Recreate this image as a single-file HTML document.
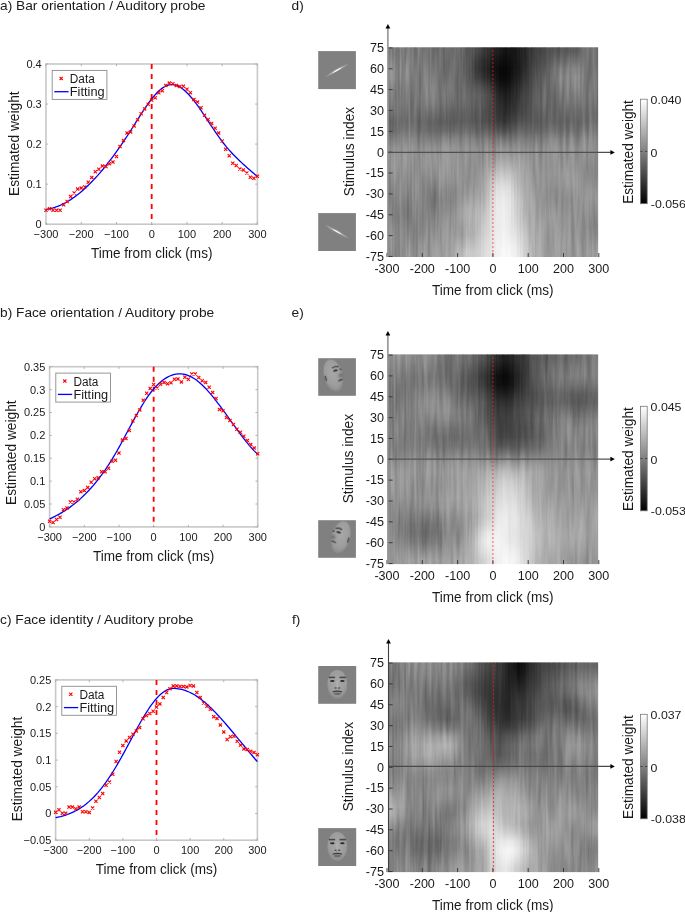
<!DOCTYPE html>
<html><head><meta charset="utf-8"><style>
html,body{margin:0;padding:0;background:#fff;overflow:hidden}
svg{display:block;will-change:transform}
text{font-family:"Liberation Sans", sans-serif}
</style></head><body>
<svg width="685" height="912" viewBox="0 0 685 912">
<defs>
<linearGradient id="p0" x1="0" y1="0" x2="0" y2="1"><stop offset="0.021" stop-color="#7b7b7b"/><stop offset="0.062" stop-color="#868686"/><stop offset="0.104" stop-color="#909090"/><stop offset="0.146" stop-color="#8e8e8e"/><stop offset="0.188" stop-color="#838383"/><stop offset="0.229" stop-color="#7c7c7c"/><stop offset="0.271" stop-color="#7a7a7a"/><stop offset="0.312" stop-color="#747474"/><stop offset="0.354" stop-color="#6b6b6b"/><stop offset="0.396" stop-color="#707070"/><stop offset="0.438" stop-color="#828282"/><stop offset="0.479" stop-color="#919191"/><stop offset="0.521" stop-color="#969696"/><stop offset="0.562" stop-color="#959595"/><stop offset="0.604" stop-color="#909090"/><stop offset="0.646" stop-color="#8b8b8b"/><stop offset="0.688" stop-color="#868686"/><stop offset="0.729" stop-color="#828282"/><stop offset="0.771" stop-color="#808080"/><stop offset="0.812" stop-color="#838383"/><stop offset="0.854" stop-color="#898989"/><stop offset="0.896" stop-color="#8b8b8b"/><stop offset="0.938" stop-color="#878787"/><stop offset="0.979" stop-color="#838383"/></linearGradient>
<linearGradient id="p1" x1="0" y1="0" x2="0" y2="1"><stop offset="0.021" stop-color="#767676"/><stop offset="0.062" stop-color="#818181"/><stop offset="0.104" stop-color="#8b8b8b"/><stop offset="0.146" stop-color="#8a8a8a"/><stop offset="0.188" stop-color="#7f7f7f"/><stop offset="0.229" stop-color="#797979"/><stop offset="0.271" stop-color="#777777"/><stop offset="0.312" stop-color="#717171"/><stop offset="0.354" stop-color="#6a6a6a"/><stop offset="0.396" stop-color="#707070"/><stop offset="0.438" stop-color="#838383"/><stop offset="0.479" stop-color="#939393"/><stop offset="0.521" stop-color="#989898"/><stop offset="0.562" stop-color="#979797"/><stop offset="0.604" stop-color="#929292"/><stop offset="0.646" stop-color="#8d8d8d"/><stop offset="0.688" stop-color="#878787"/><stop offset="0.729" stop-color="#828282"/><stop offset="0.771" stop-color="#7f7f7f"/><stop offset="0.812" stop-color="#818181"/><stop offset="0.854" stop-color="#878787"/><stop offset="0.896" stop-color="#8a8a8a"/><stop offset="0.938" stop-color="#888888"/><stop offset="0.979" stop-color="#858585"/></linearGradient>
<linearGradient id="p2" x1="0" y1="0" x2="0" y2="1"><stop offset="0.021" stop-color="#757575"/><stop offset="0.062" stop-color="#7f7f7f"/><stop offset="0.104" stop-color="#888888"/><stop offset="0.146" stop-color="#878787"/><stop offset="0.188" stop-color="#7e7e7e"/><stop offset="0.229" stop-color="#787878"/><stop offset="0.271" stop-color="#777777"/><stop offset="0.312" stop-color="#727272"/><stop offset="0.354" stop-color="#6c6c6c"/><stop offset="0.396" stop-color="#737373"/><stop offset="0.438" stop-color="#868686"/><stop offset="0.479" stop-color="#959595"/><stop offset="0.521" stop-color="#999999"/><stop offset="0.562" stop-color="#979797"/><stop offset="0.604" stop-color="#919191"/><stop offset="0.646" stop-color="#8b8b8b"/><stop offset="0.688" stop-color="#868686"/><stop offset="0.729" stop-color="#808080"/><stop offset="0.771" stop-color="#7c7c7c"/><stop offset="0.812" stop-color="#7e7e7e"/><stop offset="0.854" stop-color="#838383"/><stop offset="0.896" stop-color="#868686"/><stop offset="0.938" stop-color="#858585"/><stop offset="0.979" stop-color="#838383"/></linearGradient>
<linearGradient id="p3" x1="0" y1="0" x2="0" y2="1"><stop offset="0.021" stop-color="#757575"/><stop offset="0.062" stop-color="#7e7e7e"/><stop offset="0.104" stop-color="#868686"/><stop offset="0.146" stop-color="#858585"/><stop offset="0.188" stop-color="#7e7e7e"/><stop offset="0.229" stop-color="#797979"/><stop offset="0.271" stop-color="#777777"/><stop offset="0.312" stop-color="#727272"/><stop offset="0.354" stop-color="#6d6d6d"/><stop offset="0.396" stop-color="#737373"/><stop offset="0.438" stop-color="#848484"/><stop offset="0.479" stop-color="#919191"/><stop offset="0.521" stop-color="#959595"/><stop offset="0.562" stop-color="#929292"/><stop offset="0.604" stop-color="#8d8d8d"/><stop offset="0.646" stop-color="#888888"/><stop offset="0.688" stop-color="#848484"/><stop offset="0.729" stop-color="#808080"/><stop offset="0.771" stop-color="#7d7d7d"/><stop offset="0.812" stop-color="#7e7e7e"/><stop offset="0.854" stop-color="#838383"/><stop offset="0.896" stop-color="#868686"/><stop offset="0.938" stop-color="#878787"/><stop offset="0.979" stop-color="#868686"/></linearGradient>
<linearGradient id="p4" x1="0" y1="0" x2="0" y2="1"><stop offset="0.021" stop-color="#787878"/><stop offset="0.062" stop-color="#808080"/><stop offset="0.104" stop-color="#878787"/><stop offset="0.146" stop-color="#878787"/><stop offset="0.188" stop-color="#7f7f7f"/><stop offset="0.229" stop-color="#797979"/><stop offset="0.271" stop-color="#767676"/><stop offset="0.312" stop-color="#707070"/><stop offset="0.354" stop-color="#6a6a6a"/><stop offset="0.396" stop-color="#717171"/><stop offset="0.438" stop-color="#828282"/><stop offset="0.479" stop-color="#8f8f8f"/><stop offset="0.521" stop-color="#939393"/><stop offset="0.562" stop-color="#919191"/><stop offset="0.604" stop-color="#8c8c8c"/><stop offset="0.646" stop-color="#888888"/><stop offset="0.688" stop-color="#858585"/><stop offset="0.729" stop-color="#818181"/><stop offset="0.771" stop-color="#7d7d7d"/><stop offset="0.812" stop-color="#7d7d7d"/><stop offset="0.854" stop-color="#818181"/><stop offset="0.896" stop-color="#868686"/><stop offset="0.938" stop-color="#898989"/><stop offset="0.979" stop-color="#8a8a8a"/></linearGradient>
<linearGradient id="p5" x1="0" y1="0" x2="0" y2="1"><stop offset="0.021" stop-color="#777777"/><stop offset="0.062" stop-color="#7d7d7d"/><stop offset="0.104" stop-color="#848484"/><stop offset="0.146" stop-color="#848484"/><stop offset="0.188" stop-color="#7d7d7d"/><stop offset="0.229" stop-color="#777777"/><stop offset="0.271" stop-color="#737373"/><stop offset="0.312" stop-color="#6c6c6c"/><stop offset="0.354" stop-color="#676767"/><stop offset="0.396" stop-color="#6f6f6f"/><stop offset="0.438" stop-color="#828282"/><stop offset="0.479" stop-color="#909090"/><stop offset="0.521" stop-color="#949494"/><stop offset="0.562" stop-color="#919191"/><stop offset="0.604" stop-color="#8c8c8c"/><stop offset="0.646" stop-color="#888888"/><stop offset="0.688" stop-color="#858585"/><stop offset="0.729" stop-color="#818181"/><stop offset="0.771" stop-color="#7d7d7d"/><stop offset="0.812" stop-color="#7d7d7d"/><stop offset="0.854" stop-color="#818181"/><stop offset="0.896" stop-color="#868686"/><stop offset="0.938" stop-color="#8b8b8b"/><stop offset="0.979" stop-color="#8d8d8d"/></linearGradient>
<linearGradient id="p6" x1="0" y1="0" x2="0" y2="1"><stop offset="0.021" stop-color="#787878"/><stop offset="0.062" stop-color="#7e7e7e"/><stop offset="0.104" stop-color="#838383"/><stop offset="0.146" stop-color="#828282"/><stop offset="0.188" stop-color="#7c7c7c"/><stop offset="0.229" stop-color="#777777"/><stop offset="0.271" stop-color="#747474"/><stop offset="0.312" stop-color="#6f6f6f"/><stop offset="0.354" stop-color="#6c6c6c"/><stop offset="0.396" stop-color="#757575"/><stop offset="0.438" stop-color="#878787"/><stop offset="0.479" stop-color="#959595"/><stop offset="0.521" stop-color="#979797"/><stop offset="0.562" stop-color="#939393"/><stop offset="0.604" stop-color="#8d8d8d"/><stop offset="0.646" stop-color="#888888"/><stop offset="0.688" stop-color="#858585"/><stop offset="0.729" stop-color="#818181"/><stop offset="0.771" stop-color="#7d7d7d"/><stop offset="0.812" stop-color="#7c7c7c"/><stop offset="0.854" stop-color="#7f7f7f"/><stop offset="0.896" stop-color="#848484"/><stop offset="0.938" stop-color="#898989"/><stop offset="0.979" stop-color="#8c8c8c"/></linearGradient>
<linearGradient id="p7" x1="0" y1="0" x2="0" y2="1"><stop offset="0.021" stop-color="#797979"/><stop offset="0.062" stop-color="#7d7d7d"/><stop offset="0.104" stop-color="#818181"/><stop offset="0.146" stop-color="#808080"/><stop offset="0.188" stop-color="#7b7b7b"/><stop offset="0.229" stop-color="#777777"/><stop offset="0.271" stop-color="#737373"/><stop offset="0.312" stop-color="#6f6f6f"/><stop offset="0.354" stop-color="#6d6d6d"/><stop offset="0.396" stop-color="#777777"/><stop offset="0.438" stop-color="#898989"/><stop offset="0.479" stop-color="#959595"/><stop offset="0.521" stop-color="#969696"/><stop offset="0.562" stop-color="#919191"/><stop offset="0.604" stop-color="#8a8a8a"/><stop offset="0.646" stop-color="#858585"/><stop offset="0.688" stop-color="#838383"/><stop offset="0.729" stop-color="#808080"/><stop offset="0.771" stop-color="#7c7c7c"/><stop offset="0.812" stop-color="#7b7b7b"/><stop offset="0.854" stop-color="#7e7e7e"/><stop offset="0.896" stop-color="#838383"/><stop offset="0.938" stop-color="#888888"/><stop offset="0.979" stop-color="#8d8d8d"/></linearGradient>
<linearGradient id="p8" x1="0" y1="0" x2="0" y2="1"><stop offset="0.021" stop-color="#777777"/><stop offset="0.062" stop-color="#7a7a7a"/><stop offset="0.104" stop-color="#7c7c7c"/><stop offset="0.146" stop-color="#7c7c7c"/><stop offset="0.188" stop-color="#797979"/><stop offset="0.229" stop-color="#767676"/><stop offset="0.271" stop-color="#737373"/><stop offset="0.312" stop-color="#6f6f6f"/><stop offset="0.354" stop-color="#6c6c6c"/><stop offset="0.396" stop-color="#767676"/><stop offset="0.438" stop-color="#878787"/><stop offset="0.479" stop-color="#939393"/><stop offset="0.521" stop-color="#939393"/><stop offset="0.562" stop-color="#8e8e8e"/><stop offset="0.604" stop-color="#888888"/><stop offset="0.646" stop-color="#848484"/><stop offset="0.688" stop-color="#828282"/><stop offset="0.729" stop-color="#808080"/><stop offset="0.771" stop-color="#7e7e7e"/><stop offset="0.812" stop-color="#7e7e7e"/><stop offset="0.854" stop-color="#808080"/><stop offset="0.896" stop-color="#868686"/><stop offset="0.938" stop-color="#8c8c8c"/><stop offset="0.979" stop-color="#919191"/></linearGradient>
<linearGradient id="p9" x1="0" y1="0" x2="0" y2="1"><stop offset="0.021" stop-color="#767676"/><stop offset="0.062" stop-color="#787878"/><stop offset="0.104" stop-color="#7a7a7a"/><stop offset="0.146" stop-color="#797979"/><stop offset="0.188" stop-color="#777777"/><stop offset="0.229" stop-color="#747474"/><stop offset="0.271" stop-color="#717171"/><stop offset="0.312" stop-color="#6b6b6b"/><stop offset="0.354" stop-color="#676767"/><stop offset="0.396" stop-color="#6f6f6f"/><stop offset="0.438" stop-color="#818181"/><stop offset="0.479" stop-color="#8e8e8e"/><stop offset="0.521" stop-color="#909090"/><stop offset="0.562" stop-color="#8d8d8d"/><stop offset="0.604" stop-color="#898989"/><stop offset="0.646" stop-color="#868686"/><stop offset="0.688" stop-color="#848484"/><stop offset="0.729" stop-color="#828282"/><stop offset="0.771" stop-color="#818181"/><stop offset="0.812" stop-color="#808080"/><stop offset="0.854" stop-color="#818181"/><stop offset="0.896" stop-color="#858585"/><stop offset="0.938" stop-color="#8c8c8c"/><stop offset="0.979" stop-color="#919191"/></linearGradient>
<linearGradient id="p10" x1="0" y1="0" x2="0" y2="1"><stop offset="0.021" stop-color="#757575"/><stop offset="0.062" stop-color="#767676"/><stop offset="0.104" stop-color="#787878"/><stop offset="0.146" stop-color="#787878"/><stop offset="0.188" stop-color="#777777"/><stop offset="0.229" stop-color="#767676"/><stop offset="0.271" stop-color="#727272"/><stop offset="0.312" stop-color="#6b6b6b"/><stop offset="0.354" stop-color="#656565"/><stop offset="0.396" stop-color="#6e6e6e"/><stop offset="0.438" stop-color="#818181"/><stop offset="0.479" stop-color="#909090"/><stop offset="0.521" stop-color="#939393"/><stop offset="0.562" stop-color="#919191"/><stop offset="0.604" stop-color="#8d8d8d"/><stop offset="0.646" stop-color="#888888"/><stop offset="0.688" stop-color="#848484"/><stop offset="0.729" stop-color="#818181"/><stop offset="0.771" stop-color="#808080"/><stop offset="0.812" stop-color="#808080"/><stop offset="0.854" stop-color="#828282"/><stop offset="0.896" stop-color="#878787"/><stop offset="0.938" stop-color="#8e8e8e"/><stop offset="0.979" stop-color="#949494"/></linearGradient>
<linearGradient id="p11" x1="0" y1="0" x2="0" y2="1"><stop offset="0.021" stop-color="#747474"/><stop offset="0.062" stop-color="#767676"/><stop offset="0.104" stop-color="#787878"/><stop offset="0.146" stop-color="#7a7a7a"/><stop offset="0.188" stop-color="#7b7b7b"/><stop offset="0.229" stop-color="#7a7a7a"/><stop offset="0.271" stop-color="#777777"/><stop offset="0.312" stop-color="#6f6f6f"/><stop offset="0.354" stop-color="#686868"/><stop offset="0.396" stop-color="#707070"/><stop offset="0.438" stop-color="#848484"/><stop offset="0.479" stop-color="#919191"/><stop offset="0.521" stop-color="#949494"/><stop offset="0.562" stop-color="#919191"/><stop offset="0.604" stop-color="#8d8d8d"/><stop offset="0.646" stop-color="#898989"/><stop offset="0.688" stop-color="#858585"/><stop offset="0.729" stop-color="#838383"/><stop offset="0.771" stop-color="#848484"/><stop offset="0.812" stop-color="#858585"/><stop offset="0.854" stop-color="#868686"/><stop offset="0.896" stop-color="#8a8a8a"/><stop offset="0.938" stop-color="#909090"/><stop offset="0.979" stop-color="#959595"/></linearGradient>
<linearGradient id="p12" x1="0" y1="0" x2="0" y2="1"><stop offset="0.021" stop-color="#737373"/><stop offset="0.062" stop-color="#757575"/><stop offset="0.104" stop-color="#777777"/><stop offset="0.146" stop-color="#797979"/><stop offset="0.188" stop-color="#7a7a7a"/><stop offset="0.229" stop-color="#7a7a7a"/><stop offset="0.271" stop-color="#777777"/><stop offset="0.312" stop-color="#6e6e6e"/><stop offset="0.354" stop-color="#666666"/><stop offset="0.396" stop-color="#6d6d6d"/><stop offset="0.438" stop-color="#818181"/><stop offset="0.479" stop-color="#8f8f8f"/><stop offset="0.521" stop-color="#929292"/><stop offset="0.562" stop-color="#909090"/><stop offset="0.604" stop-color="#8c8c8c"/><stop offset="0.646" stop-color="#868686"/><stop offset="0.688" stop-color="#808080"/><stop offset="0.729" stop-color="#7e7e7e"/><stop offset="0.771" stop-color="#808080"/><stop offset="0.812" stop-color="#828282"/><stop offset="0.854" stop-color="#838383"/><stop offset="0.896" stop-color="#878787"/><stop offset="0.938" stop-color="#8e8e8e"/><stop offset="0.979" stop-color="#939393"/></linearGradient>
<linearGradient id="p13" x1="0" y1="0" x2="0" y2="1"><stop offset="0.021" stop-color="#727272"/><stop offset="0.062" stop-color="#747474"/><stop offset="0.104" stop-color="#777777"/><stop offset="0.146" stop-color="#7a7a7a"/><stop offset="0.188" stop-color="#7c7c7c"/><stop offset="0.229" stop-color="#7c7c7c"/><stop offset="0.271" stop-color="#797979"/><stop offset="0.312" stop-color="#6f6f6f"/><stop offset="0.354" stop-color="#656565"/><stop offset="0.396" stop-color="#6c6c6c"/><stop offset="0.438" stop-color="#818181"/><stop offset="0.479" stop-color="#919191"/><stop offset="0.521" stop-color="#949494"/><stop offset="0.562" stop-color="#929292"/><stop offset="0.604" stop-color="#8e8e8e"/><stop offset="0.646" stop-color="#868686"/><stop offset="0.688" stop-color="#7f7f7f"/><stop offset="0.729" stop-color="#7d7d7d"/><stop offset="0.771" stop-color="#808080"/><stop offset="0.812" stop-color="#838383"/><stop offset="0.854" stop-color="#858585"/><stop offset="0.896" stop-color="#898989"/><stop offset="0.938" stop-color="#8f8f8f"/><stop offset="0.979" stop-color="#949494"/></linearGradient>
<linearGradient id="p14" x1="0" y1="0" x2="0" y2="1"><stop offset="0.021" stop-color="#717171"/><stop offset="0.062" stop-color="#737373"/><stop offset="0.104" stop-color="#767676"/><stop offset="0.146" stop-color="#797979"/><stop offset="0.188" stop-color="#7b7b7b"/><stop offset="0.229" stop-color="#7c7c7c"/><stop offset="0.271" stop-color="#797979"/><stop offset="0.312" stop-color="#6f6f6f"/><stop offset="0.354" stop-color="#666666"/><stop offset="0.396" stop-color="#6d6d6d"/><stop offset="0.438" stop-color="#838383"/><stop offset="0.479" stop-color="#939393"/><stop offset="0.521" stop-color="#979797"/><stop offset="0.562" stop-color="#959595"/><stop offset="0.604" stop-color="#919191"/><stop offset="0.646" stop-color="#898989"/><stop offset="0.688" stop-color="#808080"/><stop offset="0.729" stop-color="#7d7d7d"/><stop offset="0.771" stop-color="#818181"/><stop offset="0.812" stop-color="#868686"/><stop offset="0.854" stop-color="#888888"/><stop offset="0.896" stop-color="#8c8c8c"/><stop offset="0.938" stop-color="#919191"/><stop offset="0.979" stop-color="#959595"/></linearGradient>
<linearGradient id="p15" x1="0" y1="0" x2="0" y2="1"><stop offset="0.021" stop-color="#707070"/><stop offset="0.062" stop-color="#727272"/><stop offset="0.104" stop-color="#747474"/><stop offset="0.146" stop-color="#787878"/><stop offset="0.188" stop-color="#7b7b7b"/><stop offset="0.229" stop-color="#7b7b7b"/><stop offset="0.271" stop-color="#777777"/><stop offset="0.312" stop-color="#6b6b6b"/><stop offset="0.354" stop-color="#606060"/><stop offset="0.396" stop-color="#676767"/><stop offset="0.438" stop-color="#7e7e7e"/><stop offset="0.479" stop-color="#8f8f8f"/><stop offset="0.521" stop-color="#939393"/><stop offset="0.562" stop-color="#939393"/><stop offset="0.604" stop-color="#919191"/><stop offset="0.646" stop-color="#898989"/><stop offset="0.688" stop-color="#808080"/><stop offset="0.729" stop-color="#7d7d7d"/><stop offset="0.771" stop-color="#818181"/><stop offset="0.812" stop-color="#868686"/><stop offset="0.854" stop-color="#8a8a8a"/><stop offset="0.896" stop-color="#8e8e8e"/><stop offset="0.938" stop-color="#939393"/><stop offset="0.979" stop-color="#989898"/></linearGradient>
<linearGradient id="p16" x1="0" y1="0" x2="0" y2="1"><stop offset="0.021" stop-color="#6c6c6c"/><stop offset="0.062" stop-color="#6e6e6e"/><stop offset="0.104" stop-color="#717171"/><stop offset="0.146" stop-color="#757575"/><stop offset="0.188" stop-color="#787878"/><stop offset="0.229" stop-color="#797979"/><stop offset="0.271" stop-color="#747474"/><stop offset="0.312" stop-color="#686868"/><stop offset="0.354" stop-color="#5d5d5d"/><stop offset="0.396" stop-color="#646464"/><stop offset="0.438" stop-color="#7c7c7c"/><stop offset="0.479" stop-color="#8f8f8f"/><stop offset="0.521" stop-color="#959595"/><stop offset="0.562" stop-color="#979797"/><stop offset="0.604" stop-color="#979797"/><stop offset="0.646" stop-color="#919191"/><stop offset="0.688" stop-color="#878787"/><stop offset="0.729" stop-color="#838383"/><stop offset="0.771" stop-color="#868686"/><stop offset="0.812" stop-color="#8a8a8a"/><stop offset="0.854" stop-color="#8d8d8d"/><stop offset="0.896" stop-color="#919191"/><stop offset="0.938" stop-color="#959595"/><stop offset="0.979" stop-color="#999999"/></linearGradient>
<linearGradient id="p17" x1="0" y1="0" x2="0" y2="1"><stop offset="0.021" stop-color="#6c6c6c"/><stop offset="0.062" stop-color="#6e6e6e"/><stop offset="0.104" stop-color="#717171"/><stop offset="0.146" stop-color="#757575"/><stop offset="0.188" stop-color="#797979"/><stop offset="0.229" stop-color="#797979"/><stop offset="0.271" stop-color="#737373"/><stop offset="0.312" stop-color="#666666"/><stop offset="0.354" stop-color="#5b5b5b"/><stop offset="0.396" stop-color="#636363"/><stop offset="0.438" stop-color="#7b7b7b"/><stop offset="0.479" stop-color="#8e8e8e"/><stop offset="0.521" stop-color="#949494"/><stop offset="0.562" stop-color="#979797"/><stop offset="0.604" stop-color="#989898"/><stop offset="0.646" stop-color="#939393"/><stop offset="0.688" stop-color="#8b8b8b"/><stop offset="0.729" stop-color="#878787"/><stop offset="0.771" stop-color="#8a8a8a"/><stop offset="0.812" stop-color="#8d8d8d"/><stop offset="0.854" stop-color="#8f8f8f"/><stop offset="0.896" stop-color="#939393"/><stop offset="0.938" stop-color="#979797"/><stop offset="0.979" stop-color="#9a9a9a"/></linearGradient>
<linearGradient id="p18" x1="0" y1="0" x2="0" y2="1"><stop offset="0.021" stop-color="#6d6d6d"/><stop offset="0.062" stop-color="#707070"/><stop offset="0.104" stop-color="#737373"/><stop offset="0.146" stop-color="#787878"/><stop offset="0.188" stop-color="#7b7b7b"/><stop offset="0.229" stop-color="#7a7a7a"/><stop offset="0.271" stop-color="#737373"/><stop offset="0.312" stop-color="#666666"/><stop offset="0.354" stop-color="#5c5c5c"/><stop offset="0.396" stop-color="#656565"/><stop offset="0.438" stop-color="#7d7d7d"/><stop offset="0.479" stop-color="#909090"/><stop offset="0.521" stop-color="#979797"/><stop offset="0.562" stop-color="#9a9a9a"/><stop offset="0.604" stop-color="#9b9b9b"/><stop offset="0.646" stop-color="#969696"/><stop offset="0.688" stop-color="#8e8e8e"/><stop offset="0.729" stop-color="#8b8b8b"/><stop offset="0.771" stop-color="#8d8d8d"/><stop offset="0.812" stop-color="#919191"/><stop offset="0.854" stop-color="#959595"/><stop offset="0.896" stop-color="#999999"/><stop offset="0.938" stop-color="#9d9d9d"/><stop offset="0.979" stop-color="#a0a0a0"/></linearGradient>
<linearGradient id="p19" x1="0" y1="0" x2="0" y2="1"><stop offset="0.021" stop-color="#6b6b6b"/><stop offset="0.062" stop-color="#6d6d6d"/><stop offset="0.104" stop-color="#717171"/><stop offset="0.146" stop-color="#767676"/><stop offset="0.188" stop-color="#7a7a7a"/><stop offset="0.229" stop-color="#797979"/><stop offset="0.271" stop-color="#717171"/><stop offset="0.312" stop-color="#646464"/><stop offset="0.354" stop-color="#5b5b5b"/><stop offset="0.396" stop-color="#636363"/><stop offset="0.438" stop-color="#7b7b7b"/><stop offset="0.479" stop-color="#8e8e8e"/><stop offset="0.521" stop-color="#949494"/><stop offset="0.562" stop-color="#979797"/><stop offset="0.604" stop-color="#989898"/><stop offset="0.646" stop-color="#949494"/><stop offset="0.688" stop-color="#8d8d8d"/><stop offset="0.729" stop-color="#8a8a8a"/><stop offset="0.771" stop-color="#8c8c8c"/><stop offset="0.812" stop-color="#919191"/><stop offset="0.854" stop-color="#959595"/><stop offset="0.896" stop-color="#9a9a9a"/><stop offset="0.938" stop-color="#9f9f9f"/><stop offset="0.979" stop-color="#a3a3a3"/></linearGradient>
<linearGradient id="p20" x1="0" y1="0" x2="0" y2="1"><stop offset="0.021" stop-color="#696969"/><stop offset="0.062" stop-color="#6b6b6b"/><stop offset="0.104" stop-color="#6f6f6f"/><stop offset="0.146" stop-color="#747474"/><stop offset="0.188" stop-color="#777777"/><stop offset="0.229" stop-color="#767676"/><stop offset="0.271" stop-color="#6e6e6e"/><stop offset="0.312" stop-color="#636363"/><stop offset="0.354" stop-color="#5b5b5b"/><stop offset="0.396" stop-color="#656565"/><stop offset="0.438" stop-color="#7d7d7d"/><stop offset="0.479" stop-color="#909090"/><stop offset="0.521" stop-color="#979797"/><stop offset="0.562" stop-color="#999999"/><stop offset="0.604" stop-color="#999999"/><stop offset="0.646" stop-color="#949494"/><stop offset="0.688" stop-color="#8d8d8d"/><stop offset="0.729" stop-color="#8a8a8a"/><stop offset="0.771" stop-color="#8d8d8d"/><stop offset="0.812" stop-color="#909090"/><stop offset="0.854" stop-color="#929292"/><stop offset="0.896" stop-color="#979797"/><stop offset="0.938" stop-color="#9d9d9d"/><stop offset="0.979" stop-color="#a2a2a2"/></linearGradient>
<linearGradient id="p21" x1="0" y1="0" x2="0" y2="1"><stop offset="0.021" stop-color="#6c6c6c"/><stop offset="0.062" stop-color="#6c6c6c"/><stop offset="0.104" stop-color="#6e6e6e"/><stop offset="0.146" stop-color="#717171"/><stop offset="0.188" stop-color="#737373"/><stop offset="0.229" stop-color="#717171"/><stop offset="0.271" stop-color="#6b6b6b"/><stop offset="0.312" stop-color="#606060"/><stop offset="0.354" stop-color="#5b5b5b"/><stop offset="0.396" stop-color="#666666"/><stop offset="0.438" stop-color="#7f7f7f"/><stop offset="0.479" stop-color="#919191"/><stop offset="0.521" stop-color="#979797"/><stop offset="0.562" stop-color="#989898"/><stop offset="0.604" stop-color="#979797"/><stop offset="0.646" stop-color="#939393"/><stop offset="0.688" stop-color="#8e8e8e"/><stop offset="0.729" stop-color="#8e8e8e"/><stop offset="0.771" stop-color="#919191"/><stop offset="0.812" stop-color="#949494"/><stop offset="0.854" stop-color="#959595"/><stop offset="0.896" stop-color="#9a9a9a"/><stop offset="0.938" stop-color="#a1a1a1"/><stop offset="0.979" stop-color="#a8a8a8"/></linearGradient>
<linearGradient id="p22" x1="0" y1="0" x2="0" y2="1"><stop offset="0.021" stop-color="#6a6a6a"/><stop offset="0.062" stop-color="#6a6a6a"/><stop offset="0.104" stop-color="#6c6c6c"/><stop offset="0.146" stop-color="#6e6e6e"/><stop offset="0.188" stop-color="#707070"/><stop offset="0.229" stop-color="#6f6f6f"/><stop offset="0.271" stop-color="#696969"/><stop offset="0.312" stop-color="#606060"/><stop offset="0.354" stop-color="#5a5a5a"/><stop offset="0.396" stop-color="#656565"/><stop offset="0.438" stop-color="#7c7c7c"/><stop offset="0.479" stop-color="#8e8e8e"/><stop offset="0.521" stop-color="#939393"/><stop offset="0.562" stop-color="#949494"/><stop offset="0.604" stop-color="#949494"/><stop offset="0.646" stop-color="#929292"/><stop offset="0.688" stop-color="#909090"/><stop offset="0.729" stop-color="#939393"/><stop offset="0.771" stop-color="#989898"/><stop offset="0.812" stop-color="#999999"/><stop offset="0.854" stop-color="#979797"/><stop offset="0.896" stop-color="#9a9a9a"/><stop offset="0.938" stop-color="#a3a3a3"/><stop offset="0.979" stop-color="#ababab"/></linearGradient>
<linearGradient id="p23" x1="0" y1="0" x2="0" y2="1"><stop offset="0.021" stop-color="#6a6a6a"/><stop offset="0.062" stop-color="#696969"/><stop offset="0.104" stop-color="#686868"/><stop offset="0.146" stop-color="#696969"/><stop offset="0.188" stop-color="#6b6b6b"/><stop offset="0.229" stop-color="#6b6b6b"/><stop offset="0.271" stop-color="#676767"/><stop offset="0.312" stop-color="#5f5f5f"/><stop offset="0.354" stop-color="#5c5c5c"/><stop offset="0.396" stop-color="#686868"/><stop offset="0.438" stop-color="#7f7f7f"/><stop offset="0.479" stop-color="#909090"/><stop offset="0.521" stop-color="#949494"/><stop offset="0.562" stop-color="#959595"/><stop offset="0.604" stop-color="#949494"/><stop offset="0.646" stop-color="#939393"/><stop offset="0.688" stop-color="#929292"/><stop offset="0.729" stop-color="#979797"/><stop offset="0.771" stop-color="#9d9d9d"/><stop offset="0.812" stop-color="#9e9e9e"/><stop offset="0.854" stop-color="#9a9a9a"/><stop offset="0.896" stop-color="#9c9c9c"/><stop offset="0.938" stop-color="#a7a7a7"/><stop offset="0.979" stop-color="#b1b1b1"/></linearGradient>
<linearGradient id="p24" x1="0" y1="0" x2="0" y2="1"><stop offset="0.021" stop-color="#686868"/><stop offset="0.062" stop-color="#666666"/><stop offset="0.104" stop-color="#656565"/><stop offset="0.146" stop-color="#676767"/><stop offset="0.188" stop-color="#6a6a6a"/><stop offset="0.229" stop-color="#6b6b6b"/><stop offset="0.271" stop-color="#686868"/><stop offset="0.312" stop-color="#616161"/><stop offset="0.354" stop-color="#5e5e5e"/><stop offset="0.396" stop-color="#6a6a6a"/><stop offset="0.438" stop-color="#808080"/><stop offset="0.479" stop-color="#909090"/><stop offset="0.521" stop-color="#939393"/><stop offset="0.562" stop-color="#919191"/><stop offset="0.604" stop-color="#909090"/><stop offset="0.646" stop-color="#909090"/><stop offset="0.688" stop-color="#939393"/><stop offset="0.729" stop-color="#9b9b9b"/><stop offset="0.771" stop-color="#a4a4a4"/><stop offset="0.812" stop-color="#a5a5a5"/><stop offset="0.854" stop-color="#9f9f9f"/><stop offset="0.896" stop-color="#a2a2a2"/><stop offset="0.938" stop-color="#aeaeae"/><stop offset="0.979" stop-color="#bababa"/></linearGradient>
<linearGradient id="p25" x1="0" y1="0" x2="0" y2="1"><stop offset="0.021" stop-color="#626262"/><stop offset="0.062" stop-color="#5f5f5f"/><stop offset="0.104" stop-color="#5e5e5e"/><stop offset="0.146" stop-color="#616161"/><stop offset="0.188" stop-color="#676767"/><stop offset="0.229" stop-color="#6a6a6a"/><stop offset="0.271" stop-color="#686868"/><stop offset="0.312" stop-color="#636363"/><stop offset="0.354" stop-color="#616161"/><stop offset="0.396" stop-color="#6d6d6d"/><stop offset="0.438" stop-color="#838383"/><stop offset="0.479" stop-color="#919191"/><stop offset="0.521" stop-color="#939393"/><stop offset="0.562" stop-color="#919191"/><stop offset="0.604" stop-color="#8f8f8f"/><stop offset="0.646" stop-color="#909090"/><stop offset="0.688" stop-color="#959595"/><stop offset="0.729" stop-color="#9f9f9f"/><stop offset="0.771" stop-color="#a9a9a9"/><stop offset="0.812" stop-color="#a9a9a9"/><stop offset="0.854" stop-color="#a4a4a4"/><stop offset="0.896" stop-color="#a7a7a7"/><stop offset="0.938" stop-color="#b4b4b4"/><stop offset="0.979" stop-color="#c1c1c1"/></linearGradient>
<linearGradient id="p26" x1="0" y1="0" x2="0" y2="1"><stop offset="0.021" stop-color="#585858"/><stop offset="0.062" stop-color="#555555"/><stop offset="0.104" stop-color="#545454"/><stop offset="0.146" stop-color="#595959"/><stop offset="0.188" stop-color="#626262"/><stop offset="0.229" stop-color="#676767"/><stop offset="0.271" stop-color="#666666"/><stop offset="0.312" stop-color="#626262"/><stop offset="0.354" stop-color="#626262"/><stop offset="0.396" stop-color="#6f6f6f"/><stop offset="0.438" stop-color="#858585"/><stop offset="0.479" stop-color="#939393"/><stop offset="0.521" stop-color="#949494"/><stop offset="0.562" stop-color="#919191"/><stop offset="0.604" stop-color="#8e8e8e"/><stop offset="0.646" stop-color="#8f8f8f"/><stop offset="0.688" stop-color="#959595"/><stop offset="0.729" stop-color="#a0a0a0"/><stop offset="0.771" stop-color="#acacac"/><stop offset="0.812" stop-color="#aeaeae"/><stop offset="0.854" stop-color="#aaaaaa"/><stop offset="0.896" stop-color="#adadad"/><stop offset="0.938" stop-color="#bababa"/><stop offset="0.979" stop-color="#c7c7c7"/></linearGradient>
<linearGradient id="p27" x1="0" y1="0" x2="0" y2="1"><stop offset="0.021" stop-color="#595959"/><stop offset="0.062" stop-color="#535353"/><stop offset="0.104" stop-color="#505050"/><stop offset="0.146" stop-color="#545454"/><stop offset="0.188" stop-color="#5d5d5d"/><stop offset="0.229" stop-color="#636363"/><stop offset="0.271" stop-color="#626262"/><stop offset="0.312" stop-color="#5e5e5e"/><stop offset="0.354" stop-color="#5f5f5f"/><stop offset="0.396" stop-color="#6c6c6c"/><stop offset="0.438" stop-color="#838383"/><stop offset="0.479" stop-color="#919191"/><stop offset="0.521" stop-color="#929292"/><stop offset="0.562" stop-color="#8e8e8e"/><stop offset="0.604" stop-color="#8c8c8c"/><stop offset="0.646" stop-color="#8d8d8d"/><stop offset="0.688" stop-color="#949494"/><stop offset="0.729" stop-color="#a0a0a0"/><stop offset="0.771" stop-color="#adadad"/><stop offset="0.812" stop-color="#b1b1b1"/><stop offset="0.854" stop-color="#aeaeae"/><stop offset="0.896" stop-color="#b2b2b2"/><stop offset="0.938" stop-color="#c0c0c0"/><stop offset="0.979" stop-color="#cccccc"/></linearGradient>
<linearGradient id="p28" x1="0" y1="0" x2="0" y2="1"><stop offset="0.021" stop-color="#525252"/><stop offset="0.062" stop-color="#4b4b4b"/><stop offset="0.104" stop-color="#464646"/><stop offset="0.146" stop-color="#4c4c4c"/><stop offset="0.188" stop-color="#595959"/><stop offset="0.229" stop-color="#616161"/><stop offset="0.271" stop-color="#606060"/><stop offset="0.312" stop-color="#5b5b5b"/><stop offset="0.354" stop-color="#5b5b5b"/><stop offset="0.396" stop-color="#696969"/><stop offset="0.438" stop-color="#7f7f7f"/><stop offset="0.479" stop-color="#8d8d8d"/><stop offset="0.521" stop-color="#8f8f8f"/><stop offset="0.562" stop-color="#8e8e8e"/><stop offset="0.604" stop-color="#8e8e8e"/><stop offset="0.646" stop-color="#919191"/><stop offset="0.688" stop-color="#979797"/><stop offset="0.729" stop-color="#a2a2a2"/><stop offset="0.771" stop-color="#adadad"/><stop offset="0.812" stop-color="#b1b1b1"/><stop offset="0.854" stop-color="#b0b0b0"/><stop offset="0.896" stop-color="#b4b4b4"/><stop offset="0.938" stop-color="#c1c1c1"/><stop offset="0.979" stop-color="#cccccc"/></linearGradient>
<linearGradient id="p29" x1="0" y1="0" x2="0" y2="1"><stop offset="0.021" stop-color="#4a4a4a"/><stop offset="0.062" stop-color="#414141"/><stop offset="0.104" stop-color="#3c3c3c"/><stop offset="0.146" stop-color="#444444"/><stop offset="0.188" stop-color="#565656"/><stop offset="0.229" stop-color="#616161"/><stop offset="0.271" stop-color="#606060"/><stop offset="0.312" stop-color="#5b5b5b"/><stop offset="0.354" stop-color="#5a5a5a"/><stop offset="0.396" stop-color="#676767"/><stop offset="0.438" stop-color="#7e7e7e"/><stop offset="0.479" stop-color="#8c8c8c"/><stop offset="0.521" stop-color="#8f8f8f"/><stop offset="0.562" stop-color="#8e8e8e"/><stop offset="0.604" stop-color="#8f8f8f"/><stop offset="0.646" stop-color="#929292"/><stop offset="0.688" stop-color="#989898"/><stop offset="0.729" stop-color="#a2a2a2"/><stop offset="0.771" stop-color="#aeaeae"/><stop offset="0.812" stop-color="#b4b4b4"/><stop offset="0.854" stop-color="#b5b5b5"/><stop offset="0.896" stop-color="#bbbbbb"/><stop offset="0.938" stop-color="#c5c5c5"/><stop offset="0.979" stop-color="#cecece"/></linearGradient>
<linearGradient id="p30" x1="0" y1="0" x2="0" y2="1"><stop offset="0.021" stop-color="#434343"/><stop offset="0.062" stop-color="#393939"/><stop offset="0.104" stop-color="#343434"/><stop offset="0.146" stop-color="#3e3e3e"/><stop offset="0.188" stop-color="#535353"/><stop offset="0.229" stop-color="#606060"/><stop offset="0.271" stop-color="#5f5f5f"/><stop offset="0.312" stop-color="#595959"/><stop offset="0.354" stop-color="#595959"/><stop offset="0.396" stop-color="#676767"/><stop offset="0.438" stop-color="#7f7f7f"/><stop offset="0.479" stop-color="#8f8f8f"/><stop offset="0.521" stop-color="#929292"/><stop offset="0.562" stop-color="#939393"/><stop offset="0.604" stop-color="#959595"/><stop offset="0.646" stop-color="#999999"/><stop offset="0.688" stop-color="#9f9f9f"/><stop offset="0.729" stop-color="#a8a8a8"/><stop offset="0.771" stop-color="#b3b3b3"/><stop offset="0.812" stop-color="#b9b9b9"/><stop offset="0.854" stop-color="#bdbdbd"/><stop offset="0.896" stop-color="#c2c2c2"/><stop offset="0.938" stop-color="#c9c9c9"/><stop offset="0.979" stop-color="#cfcfcf"/></linearGradient>
<linearGradient id="p31" x1="0" y1="0" x2="0" y2="1"><stop offset="0.021" stop-color="#3e3e3e"/><stop offset="0.062" stop-color="#343434"/><stop offset="0.104" stop-color="#2e2e2e"/><stop offset="0.146" stop-color="#393939"/><stop offset="0.188" stop-color="#505050"/><stop offset="0.229" stop-color="#5d5d5d"/><stop offset="0.271" stop-color="#5a5a5a"/><stop offset="0.312" stop-color="#545454"/><stop offset="0.354" stop-color="#535353"/><stop offset="0.396" stop-color="#636363"/><stop offset="0.438" stop-color="#7c7c7c"/><stop offset="0.479" stop-color="#8e8e8e"/><stop offset="0.521" stop-color="#949494"/><stop offset="0.562" stop-color="#979797"/><stop offset="0.604" stop-color="#9c9c9c"/><stop offset="0.646" stop-color="#a3a3a3"/><stop offset="0.688" stop-color="#aaaaaa"/><stop offset="0.729" stop-color="#b2b2b2"/><stop offset="0.771" stop-color="#bbbbbb"/><stop offset="0.812" stop-color="#c2c2c2"/><stop offset="0.854" stop-color="#c8c8c8"/><stop offset="0.896" stop-color="#cdcdcd"/><stop offset="0.938" stop-color="#d4d4d4"/><stop offset="0.979" stop-color="#d8d8d8"/></linearGradient>
<linearGradient id="p32" x1="0" y1="0" x2="0" y2="1"><stop offset="0.021" stop-color="#373737"/><stop offset="0.062" stop-color="#2c2c2c"/><stop offset="0.104" stop-color="#262626"/><stop offset="0.146" stop-color="#303030"/><stop offset="0.188" stop-color="#474747"/><stop offset="0.229" stop-color="#555555"/><stop offset="0.271" stop-color="#545454"/><stop offset="0.312" stop-color="#4e4e4e"/><stop offset="0.354" stop-color="#4f4f4f"/><stop offset="0.396" stop-color="#606060"/><stop offset="0.438" stop-color="#7b7b7b"/><stop offset="0.479" stop-color="#8e8e8e"/><stop offset="0.521" stop-color="#959595"/><stop offset="0.562" stop-color="#9b9b9b"/><stop offset="0.604" stop-color="#a3a3a3"/><stop offset="0.646" stop-color="#acacac"/><stop offset="0.688" stop-color="#b4b4b4"/><stop offset="0.729" stop-color="#bcbcbc"/><stop offset="0.771" stop-color="#c3c3c3"/><stop offset="0.812" stop-color="#cacaca"/><stop offset="0.854" stop-color="#cfcfcf"/><stop offset="0.896" stop-color="#d4d4d4"/><stop offset="0.938" stop-color="#d9d9d9"/><stop offset="0.979" stop-color="#dcdcdc"/></linearGradient>
<linearGradient id="p33" x1="0" y1="0" x2="0" y2="1"><stop offset="0.021" stop-color="#323232"/><stop offset="0.062" stop-color="#272727"/><stop offset="0.104" stop-color="#1f1f1f"/><stop offset="0.146" stop-color="#282828"/><stop offset="0.188" stop-color="#3d3d3d"/><stop offset="0.229" stop-color="#4b4b4b"/><stop offset="0.271" stop-color="#4b4b4b"/><stop offset="0.312" stop-color="#484848"/><stop offset="0.354" stop-color="#4a4a4a"/><stop offset="0.396" stop-color="#5c5c5c"/><stop offset="0.438" stop-color="#787878"/><stop offset="0.479" stop-color="#8d8d8d"/><stop offset="0.521" stop-color="#959595"/><stop offset="0.562" stop-color="#9e9e9e"/><stop offset="0.604" stop-color="#aaaaaa"/><stop offset="0.646" stop-color="#b5b5b5"/><stop offset="0.688" stop-color="#bdbdbd"/><stop offset="0.729" stop-color="#c4c4c4"/><stop offset="0.771" stop-color="#cbcbcb"/><stop offset="0.812" stop-color="#d1d1d1"/><stop offset="0.854" stop-color="#d7d7d7"/><stop offset="0.896" stop-color="#dddddd"/><stop offset="0.938" stop-color="#e1e1e1"/><stop offset="0.979" stop-color="#e3e3e3"/></linearGradient>
<linearGradient id="p34" x1="0" y1="0" x2="0" y2="1"><stop offset="0.021" stop-color="#292929"/><stop offset="0.062" stop-color="#1e1e1e"/><stop offset="0.104" stop-color="#171717"/><stop offset="0.146" stop-color="#1f1f1f"/><stop offset="0.188" stop-color="#343434"/><stop offset="0.229" stop-color="#434343"/><stop offset="0.271" stop-color="#464646"/><stop offset="0.312" stop-color="#454545"/><stop offset="0.354" stop-color="#494949"/><stop offset="0.396" stop-color="#5b5b5b"/><stop offset="0.438" stop-color="#797979"/><stop offset="0.479" stop-color="#8e8e8e"/><stop offset="0.521" stop-color="#989898"/><stop offset="0.562" stop-color="#a4a4a4"/><stop offset="0.604" stop-color="#b4b4b4"/><stop offset="0.646" stop-color="#c2c2c2"/><stop offset="0.688" stop-color="#cdcdcd"/><stop offset="0.729" stop-color="#d4d4d4"/><stop offset="0.771" stop-color="#dadada"/><stop offset="0.812" stop-color="#dedede"/><stop offset="0.854" stop-color="#e1e1e1"/><stop offset="0.896" stop-color="#e4e4e4"/><stop offset="0.938" stop-color="#e6e6e6"/><stop offset="0.979" stop-color="#e7e7e7"/></linearGradient>
<linearGradient id="p35" x1="0" y1="0" x2="0" y2="1"><stop offset="0.021" stop-color="#212121"/><stop offset="0.062" stop-color="#171717"/><stop offset="0.104" stop-color="#111111"/><stop offset="0.146" stop-color="#181818"/><stop offset="0.188" stop-color="#2b2b2b"/><stop offset="0.229" stop-color="#393939"/><stop offset="0.271" stop-color="#3d3d3d"/><stop offset="0.312" stop-color="#3e3e3e"/><stop offset="0.354" stop-color="#434343"/><stop offset="0.396" stop-color="#565656"/><stop offset="0.438" stop-color="#747474"/><stop offset="0.479" stop-color="#8a8a8a"/><stop offset="0.521" stop-color="#979797"/><stop offset="0.562" stop-color="#a6a6a6"/><stop offset="0.604" stop-color="#bababa"/><stop offset="0.646" stop-color="#cccccc"/><stop offset="0.688" stop-color="#d8d8d8"/><stop offset="0.729" stop-color="#e0e0e0"/><stop offset="0.771" stop-color="#e4e4e4"/><stop offset="0.812" stop-color="#e7e7e7"/><stop offset="0.854" stop-color="#e8e8e8"/><stop offset="0.896" stop-color="#eaeaea"/><stop offset="0.938" stop-color="#ececec"/><stop offset="0.979" stop-color="#ededed"/></linearGradient>
<linearGradient id="p36" x1="0" y1="0" x2="0" y2="1"><stop offset="0.021" stop-color="#1e1e1e"/><stop offset="0.062" stop-color="#151515"/><stop offset="0.104" stop-color="#0e0e0e"/><stop offset="0.146" stop-color="#121212"/><stop offset="0.188" stop-color="#212121"/><stop offset="0.229" stop-color="#2d2d2d"/><stop offset="0.271" stop-color="#343434"/><stop offset="0.312" stop-color="#373737"/><stop offset="0.354" stop-color="#3d3d3d"/><stop offset="0.396" stop-color="#535353"/><stop offset="0.438" stop-color="#737373"/><stop offset="0.479" stop-color="#8c8c8c"/><stop offset="0.521" stop-color="#9c9c9c"/><stop offset="0.562" stop-color="#aeaeae"/><stop offset="0.604" stop-color="#c4c4c4"/><stop offset="0.646" stop-color="#d7d7d7"/><stop offset="0.688" stop-color="#e3e3e3"/><stop offset="0.729" stop-color="#e9e9e9"/><stop offset="0.771" stop-color="#ebebeb"/><stop offset="0.812" stop-color="#ebebeb"/><stop offset="0.854" stop-color="#ebebeb"/><stop offset="0.896" stop-color="#ededed"/><stop offset="0.938" stop-color="#efefef"/><stop offset="0.979" stop-color="#f0f0f0"/></linearGradient>
<linearGradient id="p37" x1="0" y1="0" x2="0" y2="1"><stop offset="0.021" stop-color="#191919"/><stop offset="0.062" stop-color="#111111"/><stop offset="0.104" stop-color="#090909"/><stop offset="0.146" stop-color="#0b0b0b"/><stop offset="0.188" stop-color="#171717"/><stop offset="0.229" stop-color="#222222"/><stop offset="0.271" stop-color="#2a2a2a"/><stop offset="0.312" stop-color="#2f2f2f"/><stop offset="0.354" stop-color="#393939"/><stop offset="0.396" stop-color="#4f4f4f"/><stop offset="0.438" stop-color="#717171"/><stop offset="0.479" stop-color="#8c8c8c"/><stop offset="0.521" stop-color="#9d9d9d"/><stop offset="0.562" stop-color="#b0b0b0"/><stop offset="0.604" stop-color="#c5c5c5"/><stop offset="0.646" stop-color="#d8d8d8"/><stop offset="0.688" stop-color="#e4e4e4"/><stop offset="0.729" stop-color="#eaeaea"/><stop offset="0.771" stop-color="#ededed"/><stop offset="0.812" stop-color="#ededed"/><stop offset="0.854" stop-color="#eeeeee"/><stop offset="0.896" stop-color="#efefef"/><stop offset="0.938" stop-color="#f2f2f2"/><stop offset="0.979" stop-color="#f5f5f5"/></linearGradient>
<linearGradient id="p38" x1="0" y1="0" x2="0" y2="1"><stop offset="0.021" stop-color="#141414"/><stop offset="0.062" stop-color="#0d0d0d"/><stop offset="0.104" stop-color="#080808"/><stop offset="0.146" stop-color="#0a0a0a"/><stop offset="0.188" stop-color="#141414"/><stop offset="0.229" stop-color="#1f1f1f"/><stop offset="0.271" stop-color="#272727"/><stop offset="0.312" stop-color="#2e2e2e"/><stop offset="0.354" stop-color="#383838"/><stop offset="0.396" stop-color="#4f4f4f"/><stop offset="0.438" stop-color="#6f6f6f"/><stop offset="0.479" stop-color="#8a8a8a"/><stop offset="0.521" stop-color="#9d9d9d"/><stop offset="0.562" stop-color="#b1b1b1"/><stop offset="0.604" stop-color="#c7c7c7"/><stop offset="0.646" stop-color="#dadada"/><stop offset="0.688" stop-color="#e6e6e6"/><stop offset="0.729" stop-color="#ededed"/><stop offset="0.771" stop-color="#efefef"/><stop offset="0.812" stop-color="#f0f0f0"/><stop offset="0.854" stop-color="#f1f1f1"/><stop offset="0.896" stop-color="#f3f3f3"/><stop offset="0.938" stop-color="#f6f6f6"/><stop offset="0.979" stop-color="#f9f9f9"/></linearGradient>
<linearGradient id="p39" x1="0" y1="0" x2="0" y2="1"><stop offset="0.021" stop-color="#131313"/><stop offset="0.062" stop-color="#0d0d0d"/><stop offset="0.104" stop-color="#080808"/><stop offset="0.146" stop-color="#0b0b0b"/><stop offset="0.188" stop-color="#141414"/><stop offset="0.229" stop-color="#1e1e1e"/><stop offset="0.271" stop-color="#252525"/><stop offset="0.312" stop-color="#2c2c2c"/><stop offset="0.354" stop-color="#373737"/><stop offset="0.396" stop-color="#4d4d4d"/><stop offset="0.438" stop-color="#6d6d6d"/><stop offset="0.479" stop-color="#888888"/><stop offset="0.521" stop-color="#9c9c9c"/><stop offset="0.562" stop-color="#b0b0b0"/><stop offset="0.604" stop-color="#c5c5c5"/><stop offset="0.646" stop-color="#d8d8d8"/><stop offset="0.688" stop-color="#e4e4e4"/><stop offset="0.729" stop-color="#eaeaea"/><stop offset="0.771" stop-color="#ececec"/><stop offset="0.812" stop-color="#ececec"/><stop offset="0.854" stop-color="#ececec"/><stop offset="0.896" stop-color="#eeeeee"/><stop offset="0.938" stop-color="#f3f3f3"/><stop offset="0.979" stop-color="#f7f7f7"/></linearGradient>
<linearGradient id="p40" x1="0" y1="0" x2="0" y2="1"><stop offset="0.021" stop-color="#141414"/><stop offset="0.062" stop-color="#0f0f0f"/><stop offset="0.104" stop-color="#0a0a0a"/><stop offset="0.146" stop-color="#0d0d0d"/><stop offset="0.188" stop-color="#171717"/><stop offset="0.229" stop-color="#212121"/><stop offset="0.271" stop-color="#282828"/><stop offset="0.312" stop-color="#2f2f2f"/><stop offset="0.354" stop-color="#393939"/><stop offset="0.396" stop-color="#4e4e4e"/><stop offset="0.438" stop-color="#6b6b6b"/><stop offset="0.479" stop-color="#868686"/><stop offset="0.521" stop-color="#9b9b9b"/><stop offset="0.562" stop-color="#afafaf"/><stop offset="0.604" stop-color="#c3c3c3"/><stop offset="0.646" stop-color="#d4d4d4"/><stop offset="0.688" stop-color="#e0e0e0"/><stop offset="0.729" stop-color="#e5e5e5"/><stop offset="0.771" stop-color="#e7e7e7"/><stop offset="0.812" stop-color="#e7e7e7"/><stop offset="0.854" stop-color="#e8e8e8"/><stop offset="0.896" stop-color="#ececec"/><stop offset="0.938" stop-color="#f3f3f3"/><stop offset="0.979" stop-color="#f8f8f8"/></linearGradient>
<linearGradient id="p41" x1="0" y1="0" x2="0" y2="1"><stop offset="0.021" stop-color="#161616"/><stop offset="0.062" stop-color="#131313"/><stop offset="0.104" stop-color="#111111"/><stop offset="0.146" stop-color="#161616"/><stop offset="0.188" stop-color="#202020"/><stop offset="0.229" stop-color="#282828"/><stop offset="0.271" stop-color="#2e2e2e"/><stop offset="0.312" stop-color="#353535"/><stop offset="0.354" stop-color="#404040"/><stop offset="0.396" stop-color="#545454"/><stop offset="0.438" stop-color="#707070"/><stop offset="0.479" stop-color="#898989"/><stop offset="0.521" stop-color="#9c9c9c"/><stop offset="0.562" stop-color="#aeaeae"/><stop offset="0.604" stop-color="#bfbfbf"/><stop offset="0.646" stop-color="#cdcdcd"/><stop offset="0.688" stop-color="#d8d8d8"/><stop offset="0.729" stop-color="#dedede"/><stop offset="0.771" stop-color="#e0e0e0"/><stop offset="0.812" stop-color="#e1e1e1"/><stop offset="0.854" stop-color="#e3e3e3"/><stop offset="0.896" stop-color="#e8e8e8"/><stop offset="0.938" stop-color="#eeeeee"/><stop offset="0.979" stop-color="#f3f3f3"/></linearGradient>
<linearGradient id="p42" x1="0" y1="0" x2="0" y2="1"><stop offset="0.021" stop-color="#171717"/><stop offset="0.062" stop-color="#161616"/><stop offset="0.104" stop-color="#171717"/><stop offset="0.146" stop-color="#1e1e1e"/><stop offset="0.188" stop-color="#282828"/><stop offset="0.229" stop-color="#303030"/><stop offset="0.271" stop-color="#343434"/><stop offset="0.312" stop-color="#3a3a3a"/><stop offset="0.354" stop-color="#454545"/><stop offset="0.396" stop-color="#585858"/><stop offset="0.438" stop-color="#707070"/><stop offset="0.479" stop-color="#878787"/><stop offset="0.521" stop-color="#989898"/><stop offset="0.562" stop-color="#a7a7a7"/><stop offset="0.604" stop-color="#b5b5b5"/><stop offset="0.646" stop-color="#c1c1c1"/><stop offset="0.688" stop-color="#cbcbcb"/><stop offset="0.729" stop-color="#d2d2d2"/><stop offset="0.771" stop-color="#d4d4d4"/><stop offset="0.812" stop-color="#d7d7d7"/><stop offset="0.854" stop-color="#dcdcdc"/><stop offset="0.896" stop-color="#e3e3e3"/><stop offset="0.938" stop-color="#ebebeb"/><stop offset="0.979" stop-color="#f1f1f1"/></linearGradient>
<linearGradient id="p43" x1="0" y1="0" x2="0" y2="1"><stop offset="0.021" stop-color="#1d1d1d"/><stop offset="0.062" stop-color="#1c1c1c"/><stop offset="0.104" stop-color="#1d1d1d"/><stop offset="0.146" stop-color="#242424"/><stop offset="0.188" stop-color="#2f2f2f"/><stop offset="0.229" stop-color="#363636"/><stop offset="0.271" stop-color="#3b3b3b"/><stop offset="0.312" stop-color="#404040"/><stop offset="0.354" stop-color="#4a4a4a"/><stop offset="0.396" stop-color="#5c5c5c"/><stop offset="0.438" stop-color="#737373"/><stop offset="0.479" stop-color="#888888"/><stop offset="0.521" stop-color="#999999"/><stop offset="0.562" stop-color="#a5a5a5"/><stop offset="0.604" stop-color="#afafaf"/><stop offset="0.646" stop-color="#b9b9b9"/><stop offset="0.688" stop-color="#c1c1c1"/><stop offset="0.729" stop-color="#c6c6c6"/><stop offset="0.771" stop-color="#c9c9c9"/><stop offset="0.812" stop-color="#cccccc"/><stop offset="0.854" stop-color="#d1d1d1"/><stop offset="0.896" stop-color="#d9d9d9"/><stop offset="0.938" stop-color="#e1e1e1"/><stop offset="0.979" stop-color="#e7e7e7"/></linearGradient>
<linearGradient id="p44" x1="0" y1="0" x2="0" y2="1"><stop offset="0.021" stop-color="#222222"/><stop offset="0.062" stop-color="#222222"/><stop offset="0.104" stop-color="#242424"/><stop offset="0.146" stop-color="#2c2c2c"/><stop offset="0.188" stop-color="#363636"/><stop offset="0.229" stop-color="#3e3e3e"/><stop offset="0.271" stop-color="#414141"/><stop offset="0.312" stop-color="#454545"/><stop offset="0.354" stop-color="#4e4e4e"/><stop offset="0.396" stop-color="#5f5f5f"/><stop offset="0.438" stop-color="#767676"/><stop offset="0.479" stop-color="#8a8a8a"/><stop offset="0.521" stop-color="#999999"/><stop offset="0.562" stop-color="#a2a2a2"/><stop offset="0.604" stop-color="#aaaaaa"/><stop offset="0.646" stop-color="#b2b2b2"/><stop offset="0.688" stop-color="#b9b9b9"/><stop offset="0.729" stop-color="#bebebe"/><stop offset="0.771" stop-color="#c0c0c0"/><stop offset="0.812" stop-color="#c3c3c3"/><stop offset="0.854" stop-color="#c9c9c9"/><stop offset="0.896" stop-color="#d0d0d0"/><stop offset="0.938" stop-color="#d8d8d8"/><stop offset="0.979" stop-color="#dedede"/></linearGradient>
<linearGradient id="p45" x1="0" y1="0" x2="0" y2="1"><stop offset="0.021" stop-color="#242424"/><stop offset="0.062" stop-color="#262626"/><stop offset="0.104" stop-color="#2a2a2a"/><stop offset="0.146" stop-color="#333333"/><stop offset="0.188" stop-color="#3d3d3d"/><stop offset="0.229" stop-color="#444444"/><stop offset="0.271" stop-color="#474747"/><stop offset="0.312" stop-color="#4b4b4b"/><stop offset="0.354" stop-color="#545454"/><stop offset="0.396" stop-color="#646464"/><stop offset="0.438" stop-color="#7b7b7b"/><stop offset="0.479" stop-color="#8e8e8e"/><stop offset="0.521" stop-color="#9a9a9a"/><stop offset="0.562" stop-color="#a1a1a1"/><stop offset="0.604" stop-color="#a6a6a6"/><stop offset="0.646" stop-color="#ababab"/><stop offset="0.688" stop-color="#b0b0b0"/><stop offset="0.729" stop-color="#b4b4b4"/><stop offset="0.771" stop-color="#b5b5b5"/><stop offset="0.812" stop-color="#b8b8b8"/><stop offset="0.854" stop-color="#bebebe"/><stop offset="0.896" stop-color="#c5c5c5"/><stop offset="0.938" stop-color="#cccccc"/><stop offset="0.979" stop-color="#d1d1d1"/></linearGradient>
<linearGradient id="p46" x1="0" y1="0" x2="0" y2="1"><stop offset="0.021" stop-color="#2f2f2f"/><stop offset="0.062" stop-color="#323232"/><stop offset="0.104" stop-color="#373737"/><stop offset="0.146" stop-color="#3e3e3e"/><stop offset="0.188" stop-color="#464646"/><stop offset="0.229" stop-color="#4b4b4b"/><stop offset="0.271" stop-color="#4e4e4e"/><stop offset="0.312" stop-color="#505050"/><stop offset="0.354" stop-color="#575757"/><stop offset="0.396" stop-color="#676767"/><stop offset="0.438" stop-color="#7c7c7c"/><stop offset="0.479" stop-color="#8e8e8e"/><stop offset="0.521" stop-color="#989898"/><stop offset="0.562" stop-color="#9e9e9e"/><stop offset="0.604" stop-color="#a2a2a2"/><stop offset="0.646" stop-color="#a6a6a6"/><stop offset="0.688" stop-color="#aaaaaa"/><stop offset="0.729" stop-color="#acacac"/><stop offset="0.771" stop-color="#adadad"/><stop offset="0.812" stop-color="#b0b0b0"/><stop offset="0.854" stop-color="#b5b5b5"/><stop offset="0.896" stop-color="#bcbcbc"/><stop offset="0.938" stop-color="#c3c3c3"/><stop offset="0.979" stop-color="#c7c7c7"/></linearGradient>
<linearGradient id="p47" x1="0" y1="0" x2="0" y2="1"><stop offset="0.021" stop-color="#333333"/><stop offset="0.062" stop-color="#373737"/><stop offset="0.104" stop-color="#3d3d3d"/><stop offset="0.146" stop-color="#444444"/><stop offset="0.188" stop-color="#4b4b4b"/><stop offset="0.229" stop-color="#505050"/><stop offset="0.271" stop-color="#525252"/><stop offset="0.312" stop-color="#545454"/><stop offset="0.354" stop-color="#585858"/><stop offset="0.396" stop-color="#666666"/><stop offset="0.438" stop-color="#7a7a7a"/><stop offset="0.479" stop-color="#8a8a8a"/><stop offset="0.521" stop-color="#929292"/><stop offset="0.562" stop-color="#979797"/><stop offset="0.604" stop-color="#9c9c9c"/><stop offset="0.646" stop-color="#a0a0a0"/><stop offset="0.688" stop-color="#a4a4a4"/><stop offset="0.729" stop-color="#a6a6a6"/><stop offset="0.771" stop-color="#a7a7a7"/><stop offset="0.812" stop-color="#a9a9a9"/><stop offset="0.854" stop-color="#aeaeae"/><stop offset="0.896" stop-color="#b3b3b3"/><stop offset="0.938" stop-color="#b9b9b9"/><stop offset="0.979" stop-color="#bcbcbc"/></linearGradient>
<linearGradient id="p48" x1="0" y1="0" x2="0" y2="1"><stop offset="0.021" stop-color="#3a3a3a"/><stop offset="0.062" stop-color="#3e3e3e"/><stop offset="0.104" stop-color="#454545"/><stop offset="0.146" stop-color="#4b4b4b"/><stop offset="0.188" stop-color="#505050"/><stop offset="0.229" stop-color="#545454"/><stop offset="0.271" stop-color="#565656"/><stop offset="0.312" stop-color="#565656"/><stop offset="0.354" stop-color="#595959"/><stop offset="0.396" stop-color="#666666"/><stop offset="0.438" stop-color="#7a7a7a"/><stop offset="0.479" stop-color="#898989"/><stop offset="0.521" stop-color="#909090"/><stop offset="0.562" stop-color="#949494"/><stop offset="0.604" stop-color="#999999"/><stop offset="0.646" stop-color="#9d9d9d"/><stop offset="0.688" stop-color="#a0a0a0"/><stop offset="0.729" stop-color="#a3a3a3"/><stop offset="0.771" stop-color="#a5a5a5"/><stop offset="0.812" stop-color="#a8a8a8"/><stop offset="0.854" stop-color="#ababab"/><stop offset="0.896" stop-color="#afafaf"/><stop offset="0.938" stop-color="#b3b3b3"/><stop offset="0.979" stop-color="#b5b5b5"/></linearGradient>
<linearGradient id="p49" x1="0" y1="0" x2="0" y2="1"><stop offset="0.021" stop-color="#424242"/><stop offset="0.062" stop-color="#474747"/><stop offset="0.104" stop-color="#4e4e4e"/><stop offset="0.146" stop-color="#545454"/><stop offset="0.188" stop-color="#585858"/><stop offset="0.229" stop-color="#5b5b5b"/><stop offset="0.271" stop-color="#5c5c5c"/><stop offset="0.312" stop-color="#5c5c5c"/><stop offset="0.354" stop-color="#5e5e5e"/><stop offset="0.396" stop-color="#6a6a6a"/><stop offset="0.438" stop-color="#7e7e7e"/><stop offset="0.479" stop-color="#8c8c8c"/><stop offset="0.521" stop-color="#909090"/><stop offset="0.562" stop-color="#919191"/><stop offset="0.604" stop-color="#939393"/><stop offset="0.646" stop-color="#969696"/><stop offset="0.688" stop-color="#999999"/><stop offset="0.729" stop-color="#9d9d9d"/><stop offset="0.771" stop-color="#a0a0a0"/><stop offset="0.812" stop-color="#a3a3a3"/><stop offset="0.854" stop-color="#a6a6a6"/><stop offset="0.896" stop-color="#a7a7a7"/><stop offset="0.938" stop-color="#a8a8a8"/><stop offset="0.979" stop-color="#a9a9a9"/></linearGradient>
<linearGradient id="p50" x1="0" y1="0" x2="0" y2="1"><stop offset="0.021" stop-color="#444444"/><stop offset="0.062" stop-color="#4a4a4a"/><stop offset="0.104" stop-color="#525252"/><stop offset="0.146" stop-color="#595959"/><stop offset="0.188" stop-color="#5c5c5c"/><stop offset="0.229" stop-color="#5f5f5f"/><stop offset="0.271" stop-color="#616161"/><stop offset="0.312" stop-color="#616161"/><stop offset="0.354" stop-color="#626262"/><stop offset="0.396" stop-color="#6d6d6d"/><stop offset="0.438" stop-color="#808080"/><stop offset="0.479" stop-color="#8e8e8e"/><stop offset="0.521" stop-color="#919191"/><stop offset="0.562" stop-color="#939393"/><stop offset="0.604" stop-color="#959595"/><stop offset="0.646" stop-color="#979797"/><stop offset="0.688" stop-color="#989898"/><stop offset="0.729" stop-color="#9b9b9b"/><stop offset="0.771" stop-color="#9e9e9e"/><stop offset="0.812" stop-color="#a0a0a0"/><stop offset="0.854" stop-color="#a2a2a2"/><stop offset="0.896" stop-color="#a3a3a3"/><stop offset="0.938" stop-color="#a5a5a5"/><stop offset="0.979" stop-color="#a6a6a6"/></linearGradient>
<linearGradient id="p51" x1="0" y1="0" x2="0" y2="1"><stop offset="0.021" stop-color="#474747"/><stop offset="0.062" stop-color="#4f4f4f"/><stop offset="0.104" stop-color="#595959"/><stop offset="0.146" stop-color="#606060"/><stop offset="0.188" stop-color="#636363"/><stop offset="0.229" stop-color="#646464"/><stop offset="0.271" stop-color="#656565"/><stop offset="0.312" stop-color="#626262"/><stop offset="0.354" stop-color="#626262"/><stop offset="0.396" stop-color="#6c6c6c"/><stop offset="0.438" stop-color="#7f7f7f"/><stop offset="0.479" stop-color="#8c8c8c"/><stop offset="0.521" stop-color="#909090"/><stop offset="0.562" stop-color="#929292"/><stop offset="0.604" stop-color="#959595"/><stop offset="0.646" stop-color="#969696"/><stop offset="0.688" stop-color="#969696"/><stop offset="0.729" stop-color="#969696"/><stop offset="0.771" stop-color="#9a9a9a"/><stop offset="0.812" stop-color="#9c9c9c"/><stop offset="0.854" stop-color="#9e9e9e"/><stop offset="0.896" stop-color="#a0a0a0"/><stop offset="0.938" stop-color="#a2a2a2"/><stop offset="0.979" stop-color="#a4a4a4"/></linearGradient>
<linearGradient id="p52" x1="0" y1="0" x2="0" y2="1"><stop offset="0.021" stop-color="#4c4c4c"/><stop offset="0.062" stop-color="#555555"/><stop offset="0.104" stop-color="#5f5f5f"/><stop offset="0.146" stop-color="#666666"/><stop offset="0.188" stop-color="#686868"/><stop offset="0.229" stop-color="#686868"/><stop offset="0.271" stop-color="#666666"/><stop offset="0.312" stop-color="#636363"/><stop offset="0.354" stop-color="#626262"/><stop offset="0.396" stop-color="#6c6c6c"/><stop offset="0.438" stop-color="#7e7e7e"/><stop offset="0.479" stop-color="#8a8a8a"/><stop offset="0.521" stop-color="#8d8d8d"/><stop offset="0.562" stop-color="#8f8f8f"/><stop offset="0.604" stop-color="#929292"/><stop offset="0.646" stop-color="#929292"/><stop offset="0.688" stop-color="#909090"/><stop offset="0.729" stop-color="#919191"/><stop offset="0.771" stop-color="#969696"/><stop offset="0.812" stop-color="#9a9a9a"/><stop offset="0.854" stop-color="#9c9c9c"/><stop offset="0.896" stop-color="#9d9d9d"/><stop offset="0.938" stop-color="#9f9f9f"/><stop offset="0.979" stop-color="#a1a1a1"/></linearGradient>
<linearGradient id="p53" x1="0" y1="0" x2="0" y2="1"><stop offset="0.021" stop-color="#4e4e4e"/><stop offset="0.062" stop-color="#575757"/><stop offset="0.104" stop-color="#636363"/><stop offset="0.146" stop-color="#6a6a6a"/><stop offset="0.188" stop-color="#6c6c6c"/><stop offset="0.229" stop-color="#6b6b6b"/><stop offset="0.271" stop-color="#686868"/><stop offset="0.312" stop-color="#646464"/><stop offset="0.354" stop-color="#626262"/><stop offset="0.396" stop-color="#6b6b6b"/><stop offset="0.438" stop-color="#7e7e7e"/><stop offset="0.479" stop-color="#8b8b8b"/><stop offset="0.521" stop-color="#8f8f8f"/><stop offset="0.562" stop-color="#919191"/><stop offset="0.604" stop-color="#949494"/><stop offset="0.646" stop-color="#939393"/><stop offset="0.688" stop-color="#909090"/><stop offset="0.729" stop-color="#919191"/><stop offset="0.771" stop-color="#969696"/><stop offset="0.812" stop-color="#9a9a9a"/><stop offset="0.854" stop-color="#9b9b9b"/><stop offset="0.896" stop-color="#9c9c9c"/><stop offset="0.938" stop-color="#9d9d9d"/><stop offset="0.979" stop-color="#9f9f9f"/></linearGradient>
<linearGradient id="p54" x1="0" y1="0" x2="0" y2="1"><stop offset="0.021" stop-color="#515151"/><stop offset="0.062" stop-color="#5b5b5b"/><stop offset="0.104" stop-color="#676767"/><stop offset="0.146" stop-color="#6e6e6e"/><stop offset="0.188" stop-color="#6f6f6f"/><stop offset="0.229" stop-color="#6c6c6c"/><stop offset="0.271" stop-color="#696969"/><stop offset="0.312" stop-color="#646464"/><stop offset="0.354" stop-color="#626262"/><stop offset="0.396" stop-color="#6b6b6b"/><stop offset="0.438" stop-color="#7e7e7e"/><stop offset="0.479" stop-color="#8b8b8b"/><stop offset="0.521" stop-color="#909090"/><stop offset="0.562" stop-color="#939393"/><stop offset="0.604" stop-color="#969696"/><stop offset="0.646" stop-color="#939393"/><stop offset="0.688" stop-color="#8e8e8e"/><stop offset="0.729" stop-color="#8e8e8e"/><stop offset="0.771" stop-color="#949494"/><stop offset="0.812" stop-color="#9a9a9a"/><stop offset="0.854" stop-color="#9c9c9c"/><stop offset="0.896" stop-color="#9e9e9e"/><stop offset="0.938" stop-color="#a0a0a0"/><stop offset="0.979" stop-color="#a2a2a2"/></linearGradient>
<linearGradient id="p55" x1="0" y1="0" x2="0" y2="1"><stop offset="0.021" stop-color="#565656"/><stop offset="0.062" stop-color="#626262"/><stop offset="0.104" stop-color="#6f6f6f"/><stop offset="0.146" stop-color="#757575"/><stop offset="0.188" stop-color="#727272"/><stop offset="0.229" stop-color="#6d6d6d"/><stop offset="0.271" stop-color="#676767"/><stop offset="0.312" stop-color="#606060"/><stop offset="0.354" stop-color="#5d5d5d"/><stop offset="0.396" stop-color="#686868"/><stop offset="0.438" stop-color="#7c7c7c"/><stop offset="0.479" stop-color="#8a8a8a"/><stop offset="0.521" stop-color="#8f8f8f"/><stop offset="0.562" stop-color="#939393"/><stop offset="0.604" stop-color="#969696"/><stop offset="0.646" stop-color="#949494"/><stop offset="0.688" stop-color="#8e8e8e"/><stop offset="0.729" stop-color="#8d8d8d"/><stop offset="0.771" stop-color="#949494"/><stop offset="0.812" stop-color="#999999"/><stop offset="0.854" stop-color="#9b9b9b"/><stop offset="0.896" stop-color="#9d9d9d"/><stop offset="0.938" stop-color="#9f9f9f"/><stop offset="0.979" stop-color="#a1a1a1"/></linearGradient>
<linearGradient id="p56" x1="0" y1="0" x2="0" y2="1"><stop offset="0.021" stop-color="#565656"/><stop offset="0.062" stop-color="#636363"/><stop offset="0.104" stop-color="#737373"/><stop offset="0.146" stop-color="#7a7a7a"/><stop offset="0.188" stop-color="#777777"/><stop offset="0.229" stop-color="#717171"/><stop offset="0.271" stop-color="#6a6a6a"/><stop offset="0.312" stop-color="#646464"/><stop offset="0.354" stop-color="#616161"/><stop offset="0.396" stop-color="#6b6b6b"/><stop offset="0.438" stop-color="#7f7f7f"/><stop offset="0.479" stop-color="#8c8c8c"/><stop offset="0.521" stop-color="#919191"/><stop offset="0.562" stop-color="#959595"/><stop offset="0.604" stop-color="#999999"/><stop offset="0.646" stop-color="#979797"/><stop offset="0.688" stop-color="#909090"/><stop offset="0.729" stop-color="#8f8f8f"/><stop offset="0.771" stop-color="#959595"/><stop offset="0.812" stop-color="#9b9b9b"/><stop offset="0.854" stop-color="#9c9c9c"/><stop offset="0.896" stop-color="#9c9c9c"/><stop offset="0.938" stop-color="#9d9d9d"/><stop offset="0.979" stop-color="#9d9d9d"/></linearGradient>
<linearGradient id="p57" x1="0" y1="0" x2="0" y2="1"><stop offset="0.021" stop-color="#5a5a5a"/><stop offset="0.062" stop-color="#696969"/><stop offset="0.104" stop-color="#7a7a7a"/><stop offset="0.146" stop-color="#818181"/><stop offset="0.188" stop-color="#7c7c7c"/><stop offset="0.229" stop-color="#757575"/><stop offset="0.271" stop-color="#6e6e6e"/><stop offset="0.312" stop-color="#666666"/><stop offset="0.354" stop-color="#636363"/><stop offset="0.396" stop-color="#6d6d6d"/><stop offset="0.438" stop-color="#818181"/><stop offset="0.479" stop-color="#8e8e8e"/><stop offset="0.521" stop-color="#909090"/><stop offset="0.562" stop-color="#939393"/><stop offset="0.604" stop-color="#979797"/><stop offset="0.646" stop-color="#949494"/><stop offset="0.688" stop-color="#8c8c8c"/><stop offset="0.729" stop-color="#8a8a8a"/><stop offset="0.771" stop-color="#909090"/><stop offset="0.812" stop-color="#969696"/><stop offset="0.854" stop-color="#999999"/><stop offset="0.896" stop-color="#9b9b9b"/><stop offset="0.938" stop-color="#9c9c9c"/><stop offset="0.979" stop-color="#9d9d9d"/></linearGradient>
<linearGradient id="p58" x1="0" y1="0" x2="0" y2="1"><stop offset="0.021" stop-color="#595959"/><stop offset="0.062" stop-color="#696969"/><stop offset="0.104" stop-color="#7c7c7c"/><stop offset="0.146" stop-color="#848484"/><stop offset="0.188" stop-color="#808080"/><stop offset="0.229" stop-color="#797979"/><stop offset="0.271" stop-color="#727272"/><stop offset="0.312" stop-color="#6a6a6a"/><stop offset="0.354" stop-color="#666666"/><stop offset="0.396" stop-color="#707070"/><stop offset="0.438" stop-color="#858585"/><stop offset="0.479" stop-color="#929292"/><stop offset="0.521" stop-color="#949494"/><stop offset="0.562" stop-color="#979797"/><stop offset="0.604" stop-color="#9b9b9b"/><stop offset="0.646" stop-color="#989898"/><stop offset="0.688" stop-color="#8f8f8f"/><stop offset="0.729" stop-color="#8b8b8b"/><stop offset="0.771" stop-color="#8e8e8e"/><stop offset="0.812" stop-color="#939393"/><stop offset="0.854" stop-color="#969696"/><stop offset="0.896" stop-color="#999999"/><stop offset="0.938" stop-color="#9c9c9c"/><stop offset="0.979" stop-color="#9e9e9e"/></linearGradient>
<linearGradient id="p59" x1="0" y1="0" x2="0" y2="1"><stop offset="0.021" stop-color="#5a5a5a"/><stop offset="0.062" stop-color="#6c6c6c"/><stop offset="0.104" stop-color="#808080"/><stop offset="0.146" stop-color="#878787"/><stop offset="0.188" stop-color="#818181"/><stop offset="0.229" stop-color="#787878"/><stop offset="0.271" stop-color="#717171"/><stop offset="0.312" stop-color="#696969"/><stop offset="0.354" stop-color="#636363"/><stop offset="0.396" stop-color="#6d6d6d"/><stop offset="0.438" stop-color="#828282"/><stop offset="0.479" stop-color="#8f8f8f"/><stop offset="0.521" stop-color="#919191"/><stop offset="0.562" stop-color="#949494"/><stop offset="0.604" stop-color="#9a9a9a"/><stop offset="0.646" stop-color="#989898"/><stop offset="0.688" stop-color="#909090"/><stop offset="0.729" stop-color="#8c8c8c"/><stop offset="0.771" stop-color="#8f8f8f"/><stop offset="0.812" stop-color="#949494"/><stop offset="0.854" stop-color="#979797"/><stop offset="0.896" stop-color="#9a9a9a"/><stop offset="0.938" stop-color="#9c9c9c"/><stop offset="0.979" stop-color="#9d9d9d"/></linearGradient>
<linearGradient id="p60" x1="0" y1="0" x2="0" y2="1"><stop offset="0.021" stop-color="#595959"/><stop offset="0.062" stop-color="#6c6c6c"/><stop offset="0.104" stop-color="#808080"/><stop offset="0.146" stop-color="#888888"/><stop offset="0.188" stop-color="#828282"/><stop offset="0.229" stop-color="#7a7a7a"/><stop offset="0.271" stop-color="#747474"/><stop offset="0.312" stop-color="#6b6b6b"/><stop offset="0.354" stop-color="#656565"/><stop offset="0.396" stop-color="#6e6e6e"/><stop offset="0.438" stop-color="#848484"/><stop offset="0.479" stop-color="#919191"/><stop offset="0.521" stop-color="#929292"/><stop offset="0.562" stop-color="#959595"/><stop offset="0.604" stop-color="#9a9a9a"/><stop offset="0.646" stop-color="#9a9a9a"/><stop offset="0.688" stop-color="#929292"/><stop offset="0.729" stop-color="#8d8d8d"/><stop offset="0.771" stop-color="#8f8f8f"/><stop offset="0.812" stop-color="#929292"/><stop offset="0.854" stop-color="#949494"/><stop offset="0.896" stop-color="#969696"/><stop offset="0.938" stop-color="#989898"/><stop offset="0.979" stop-color="#999999"/></linearGradient>
<linearGradient id="p61" x1="0" y1="0" x2="0" y2="1"><stop offset="0.021" stop-color="#5d5d5d"/><stop offset="0.062" stop-color="#6f6f6f"/><stop offset="0.104" stop-color="#838383"/><stop offset="0.146" stop-color="#8a8a8a"/><stop offset="0.188" stop-color="#848484"/><stop offset="0.229" stop-color="#7b7b7b"/><stop offset="0.271" stop-color="#747474"/><stop offset="0.312" stop-color="#6c6c6c"/><stop offset="0.354" stop-color="#666666"/><stop offset="0.396" stop-color="#707070"/><stop offset="0.438" stop-color="#868686"/><stop offset="0.479" stop-color="#939393"/><stop offset="0.521" stop-color="#949494"/><stop offset="0.562" stop-color="#959595"/><stop offset="0.604" stop-color="#9a9a9a"/><stop offset="0.646" stop-color="#999999"/><stop offset="0.688" stop-color="#929292"/><stop offset="0.729" stop-color="#8d8d8d"/><stop offset="0.771" stop-color="#8d8d8d"/><stop offset="0.812" stop-color="#8e8e8e"/><stop offset="0.854" stop-color="#909090"/><stop offset="0.896" stop-color="#939393"/><stop offset="0.938" stop-color="#959595"/><stop offset="0.979" stop-color="#979797"/></linearGradient>
<linearGradient id="p62" x1="0" y1="0" x2="0" y2="1"><stop offset="0.021" stop-color="#616161"/><stop offset="0.062" stop-color="#727272"/><stop offset="0.104" stop-color="#858585"/><stop offset="0.146" stop-color="#8c8c8c"/><stop offset="0.188" stop-color="#868686"/><stop offset="0.229" stop-color="#7d7d7d"/><stop offset="0.271" stop-color="#757575"/><stop offset="0.312" stop-color="#6b6b6b"/><stop offset="0.354" stop-color="#656565"/><stop offset="0.396" stop-color="#6f6f6f"/><stop offset="0.438" stop-color="#858585"/><stop offset="0.479" stop-color="#929292"/><stop offset="0.521" stop-color="#929292"/><stop offset="0.562" stop-color="#939393"/><stop offset="0.604" stop-color="#989898"/><stop offset="0.646" stop-color="#999999"/><stop offset="0.688" stop-color="#949494"/><stop offset="0.729" stop-color="#919191"/><stop offset="0.771" stop-color="#909090"/><stop offset="0.812" stop-color="#919191"/><stop offset="0.854" stop-color="#929292"/><stop offset="0.896" stop-color="#959595"/><stop offset="0.938" stop-color="#979797"/><stop offset="0.979" stop-color="#999999"/></linearGradient>
<linearGradient id="p63" x1="0" y1="0" x2="0" y2="1"><stop offset="0.021" stop-color="#626262"/><stop offset="0.062" stop-color="#707070"/><stop offset="0.104" stop-color="#808080"/><stop offset="0.146" stop-color="#878787"/><stop offset="0.188" stop-color="#828282"/><stop offset="0.229" stop-color="#7a7a7a"/><stop offset="0.271" stop-color="#737373"/><stop offset="0.312" stop-color="#6a6a6a"/><stop offset="0.354" stop-color="#656565"/><stop offset="0.396" stop-color="#6e6e6e"/><stop offset="0.438" stop-color="#828282"/><stop offset="0.479" stop-color="#8e8e8e"/><stop offset="0.521" stop-color="#8d8d8d"/><stop offset="0.562" stop-color="#8e8e8e"/><stop offset="0.604" stop-color="#929292"/><stop offset="0.646" stop-color="#959595"/><stop offset="0.688" stop-color="#949494"/><stop offset="0.729" stop-color="#919191"/><stop offset="0.771" stop-color="#909090"/><stop offset="0.812" stop-color="#909090"/><stop offset="0.854" stop-color="#929292"/><stop offset="0.896" stop-color="#959595"/><stop offset="0.938" stop-color="#999999"/><stop offset="0.979" stop-color="#9c9c9c"/></linearGradient>
<linearGradient id="p64" x1="0" y1="0" x2="0" y2="1"><stop offset="0.021" stop-color="#6a6a6a"/><stop offset="0.062" stop-color="#747474"/><stop offset="0.104" stop-color="#808080"/><stop offset="0.146" stop-color="#848484"/><stop offset="0.188" stop-color="#7f7f7f"/><stop offset="0.229" stop-color="#797979"/><stop offset="0.271" stop-color="#737373"/><stop offset="0.312" stop-color="#6b6b6b"/><stop offset="0.354" stop-color="#676767"/><stop offset="0.396" stop-color="#717171"/><stop offset="0.438" stop-color="#848484"/><stop offset="0.479" stop-color="#8f8f8f"/><stop offset="0.521" stop-color="#8e8e8e"/><stop offset="0.562" stop-color="#8e8e8e"/><stop offset="0.604" stop-color="#919191"/><stop offset="0.646" stop-color="#959595"/><stop offset="0.688" stop-color="#969696"/><stop offset="0.729" stop-color="#969696"/><stop offset="0.771" stop-color="#939393"/><stop offset="0.812" stop-color="#909090"/><stop offset="0.854" stop-color="#8f8f8f"/><stop offset="0.896" stop-color="#919191"/><stop offset="0.938" stop-color="#959595"/><stop offset="0.979" stop-color="#9a9a9a"/></linearGradient>
<linearGradient id="p65" x1="0" y1="0" x2="0" y2="1"><stop offset="0.021" stop-color="#707070"/><stop offset="0.062" stop-color="#767676"/><stop offset="0.104" stop-color="#7e7e7e"/><stop offset="0.146" stop-color="#7f7f7f"/><stop offset="0.188" stop-color="#7c7c7c"/><stop offset="0.229" stop-color="#767676"/><stop offset="0.271" stop-color="#707070"/><stop offset="0.312" stop-color="#6a6a6a"/><stop offset="0.354" stop-color="#696969"/><stop offset="0.396" stop-color="#757575"/><stop offset="0.438" stop-color="#888888"/><stop offset="0.479" stop-color="#929292"/><stop offset="0.521" stop-color="#919191"/><stop offset="0.562" stop-color="#8f8f8f"/><stop offset="0.604" stop-color="#909090"/><stop offset="0.646" stop-color="#939393"/><stop offset="0.688" stop-color="#969696"/><stop offset="0.729" stop-color="#959595"/><stop offset="0.771" stop-color="#919191"/><stop offset="0.812" stop-color="#8d8d8d"/><stop offset="0.854" stop-color="#8c8c8c"/><stop offset="0.896" stop-color="#8f8f8f"/><stop offset="0.938" stop-color="#959595"/><stop offset="0.979" stop-color="#9a9a9a"/></linearGradient>
<linearGradient id="p66" x1="0" y1="0" x2="0" y2="1"><stop offset="0.021" stop-color="#717171"/><stop offset="0.062" stop-color="#757575"/><stop offset="0.104" stop-color="#797979"/><stop offset="0.146" stop-color="#7b7b7b"/><stop offset="0.188" stop-color="#7b7b7b"/><stop offset="0.229" stop-color="#777777"/><stop offset="0.271" stop-color="#727272"/><stop offset="0.312" stop-color="#6d6d6d"/><stop offset="0.354" stop-color="#6c6c6c"/><stop offset="0.396" stop-color="#767676"/><stop offset="0.438" stop-color="#878787"/><stop offset="0.479" stop-color="#909090"/><stop offset="0.521" stop-color="#8e8e8e"/><stop offset="0.562" stop-color="#8b8b8b"/><stop offset="0.604" stop-color="#8c8c8c"/><stop offset="0.646" stop-color="#909090"/><stop offset="0.688" stop-color="#959595"/><stop offset="0.729" stop-color="#959595"/><stop offset="0.771" stop-color="#919191"/><stop offset="0.812" stop-color="#8c8c8c"/><stop offset="0.854" stop-color="#8a8a8a"/><stop offset="0.896" stop-color="#8e8e8e"/><stop offset="0.938" stop-color="#959595"/><stop offset="0.979" stop-color="#9c9c9c"/></linearGradient>
<linearGradient id="p67" x1="0" y1="0" x2="0" y2="1"><stop offset="0.021" stop-color="#737373"/><stop offset="0.062" stop-color="#737373"/><stop offset="0.104" stop-color="#747474"/><stop offset="0.146" stop-color="#767676"/><stop offset="0.188" stop-color="#777777"/><stop offset="0.229" stop-color="#767676"/><stop offset="0.271" stop-color="#717171"/><stop offset="0.312" stop-color="#6d6d6d"/><stop offset="0.354" stop-color="#6d6d6d"/><stop offset="0.396" stop-color="#777777"/><stop offset="0.438" stop-color="#878787"/><stop offset="0.479" stop-color="#8f8f8f"/><stop offset="0.521" stop-color="#8d8d8d"/><stop offset="0.562" stop-color="#898989"/><stop offset="0.604" stop-color="#898989"/><stop offset="0.646" stop-color="#8e8e8e"/><stop offset="0.688" stop-color="#959595"/><stop offset="0.729" stop-color="#979797"/><stop offset="0.771" stop-color="#929292"/><stop offset="0.812" stop-color="#8c8c8c"/><stop offset="0.854" stop-color="#898989"/><stop offset="0.896" stop-color="#8c8c8c"/><stop offset="0.938" stop-color="#949494"/><stop offset="0.979" stop-color="#9c9c9c"/></linearGradient>
<linearGradient id="p68" x1="0" y1="0" x2="0" y2="1"><stop offset="0.021" stop-color="#747474"/><stop offset="0.062" stop-color="#737373"/><stop offset="0.104" stop-color="#737373"/><stop offset="0.146" stop-color="#757575"/><stop offset="0.188" stop-color="#787878"/><stop offset="0.229" stop-color="#777777"/><stop offset="0.271" stop-color="#727272"/><stop offset="0.312" stop-color="#6d6d6d"/><stop offset="0.354" stop-color="#6e6e6e"/><stop offset="0.396" stop-color="#787878"/><stop offset="0.438" stop-color="#878787"/><stop offset="0.479" stop-color="#8e8e8e"/><stop offset="0.521" stop-color="#8c8c8c"/><stop offset="0.562" stop-color="#888888"/><stop offset="0.604" stop-color="#868686"/><stop offset="0.646" stop-color="#8b8b8b"/><stop offset="0.688" stop-color="#939393"/><stop offset="0.729" stop-color="#969696"/><stop offset="0.771" stop-color="#919191"/><stop offset="0.812" stop-color="#8b8b8b"/><stop offset="0.854" stop-color="#888888"/><stop offset="0.896" stop-color="#8c8c8c"/><stop offset="0.938" stop-color="#959595"/><stop offset="0.979" stop-color="#9d9d9d"/></linearGradient>
<linearGradient id="p69" x1="0" y1="0" x2="0" y2="1"><stop offset="0.021" stop-color="#737373"/><stop offset="0.062" stop-color="#707070"/><stop offset="0.104" stop-color="#6e6e6e"/><stop offset="0.146" stop-color="#707070"/><stop offset="0.188" stop-color="#747474"/><stop offset="0.229" stop-color="#747474"/><stop offset="0.271" stop-color="#717171"/><stop offset="0.312" stop-color="#6d6d6d"/><stop offset="0.354" stop-color="#6e6e6e"/><stop offset="0.396" stop-color="#787878"/><stop offset="0.438" stop-color="#858585"/><stop offset="0.479" stop-color="#8d8d8d"/><stop offset="0.521" stop-color="#8a8a8a"/><stop offset="0.562" stop-color="#858585"/><stop offset="0.604" stop-color="#838383"/><stop offset="0.646" stop-color="#888888"/><stop offset="0.688" stop-color="#929292"/><stop offset="0.729" stop-color="#959595"/><stop offset="0.771" stop-color="#8e8e8e"/><stop offset="0.812" stop-color="#868686"/><stop offset="0.854" stop-color="#828282"/><stop offset="0.896" stop-color="#858585"/><stop offset="0.938" stop-color="#909090"/><stop offset="0.979" stop-color="#999999"/></linearGradient>
<filter id="tex0" x="388.1" y="47.30" width="209.70" height="209.70" filterUnits="userSpaceOnUse" color-interpolation-filters="sRGB"><feTurbulence type="fractalNoise" baseFrequency="0.28 0.018" numOctaves="2" seed="3"/><feColorMatrix type="matrix" values="0.22 0 0 0 0.390  0.22 0 0 0 0.390  0.22 0 0 0 0.390  0 0 0 0 1"/></filter>
<linearGradient id="cbg0" x1="0" y1="0" x2="0" y2="1"><stop offset="0" stop-color="#fff"/><stop offset="0.5" stop-color="#808080"/><stop offset="1" stop-color="#000"/></linearGradient>
<linearGradient id="q0" x1="0" y1="0" x2="0" y2="1"><stop offset="0.021" stop-color="#8f8f8f"/><stop offset="0.062" stop-color="#878787"/><stop offset="0.104" stop-color="#7d7d7d"/><stop offset="0.146" stop-color="#757575"/><stop offset="0.188" stop-color="#717171"/><stop offset="0.229" stop-color="#717171"/><stop offset="0.271" stop-color="#747474"/><stop offset="0.312" stop-color="#7a7a7a"/><stop offset="0.354" stop-color="#7f7f7f"/><stop offset="0.396" stop-color="#7e7e7e"/><stop offset="0.438" stop-color="#7c7c7c"/><stop offset="0.479" stop-color="#828282"/><stop offset="0.521" stop-color="#919191"/><stop offset="0.562" stop-color="#9a9a9a"/><stop offset="0.604" stop-color="#9a9a9a"/><stop offset="0.646" stop-color="#959595"/><stop offset="0.688" stop-color="#8f8f8f"/><stop offset="0.729" stop-color="#898989"/><stop offset="0.771" stop-color="#858585"/><stop offset="0.812" stop-color="#858585"/><stop offset="0.854" stop-color="#8a8a8a"/><stop offset="0.896" stop-color="#8f8f8f"/><stop offset="0.938" stop-color="#949494"/><stop offset="0.979" stop-color="#979797"/></linearGradient>
<linearGradient id="q1" x1="0" y1="0" x2="0" y2="1"><stop offset="0.021" stop-color="#8e8e8e"/><stop offset="0.062" stop-color="#868686"/><stop offset="0.104" stop-color="#7c7c7c"/><stop offset="0.146" stop-color="#747474"/><stop offset="0.188" stop-color="#707070"/><stop offset="0.229" stop-color="#707070"/><stop offset="0.271" stop-color="#747474"/><stop offset="0.312" stop-color="#797979"/><stop offset="0.354" stop-color="#7f7f7f"/><stop offset="0.396" stop-color="#7f7f7f"/><stop offset="0.438" stop-color="#7d7d7d"/><stop offset="0.479" stop-color="#858585"/><stop offset="0.521" stop-color="#949494"/><stop offset="0.562" stop-color="#9d9d9d"/><stop offset="0.604" stop-color="#9c9c9c"/><stop offset="0.646" stop-color="#979797"/><stop offset="0.688" stop-color="#909090"/><stop offset="0.729" stop-color="#8a8a8a"/><stop offset="0.771" stop-color="#848484"/><stop offset="0.812" stop-color="#838383"/><stop offset="0.854" stop-color="#868686"/><stop offset="0.896" stop-color="#8b8b8b"/><stop offset="0.938" stop-color="#919191"/><stop offset="0.979" stop-color="#969696"/></linearGradient>
<linearGradient id="q2" x1="0" y1="0" x2="0" y2="1"><stop offset="0.021" stop-color="#8e8e8e"/><stop offset="0.062" stop-color="#878787"/><stop offset="0.104" stop-color="#7d7d7d"/><stop offset="0.146" stop-color="#767676"/><stop offset="0.188" stop-color="#737373"/><stop offset="0.229" stop-color="#737373"/><stop offset="0.271" stop-color="#767676"/><stop offset="0.312" stop-color="#7a7a7a"/><stop offset="0.354" stop-color="#7e7e7e"/><stop offset="0.396" stop-color="#7d7d7d"/><stop offset="0.438" stop-color="#7c7c7c"/><stop offset="0.479" stop-color="#838383"/><stop offset="0.521" stop-color="#909090"/><stop offset="0.562" stop-color="#989898"/><stop offset="0.604" stop-color="#979797"/><stop offset="0.646" stop-color="#939393"/><stop offset="0.688" stop-color="#8e8e8e"/><stop offset="0.729" stop-color="#898989"/><stop offset="0.771" stop-color="#848484"/><stop offset="0.812" stop-color="#838383"/><stop offset="0.854" stop-color="#868686"/><stop offset="0.896" stop-color="#8c8c8c"/><stop offset="0.938" stop-color="#939393"/><stop offset="0.979" stop-color="#989898"/></linearGradient>
<linearGradient id="q3" x1="0" y1="0" x2="0" y2="1"><stop offset="0.021" stop-color="#8e8e8e"/><stop offset="0.062" stop-color="#858585"/><stop offset="0.104" stop-color="#7b7b7b"/><stop offset="0.146" stop-color="#747474"/><stop offset="0.188" stop-color="#737373"/><stop offset="0.229" stop-color="#757575"/><stop offset="0.271" stop-color="#787878"/><stop offset="0.312" stop-color="#7b7b7b"/><stop offset="0.354" stop-color="#7d7d7d"/><stop offset="0.396" stop-color="#7c7c7c"/><stop offset="0.438" stop-color="#7c7c7c"/><stop offset="0.479" stop-color="#838383"/><stop offset="0.521" stop-color="#909090"/><stop offset="0.562" stop-color="#979797"/><stop offset="0.604" stop-color="#959595"/><stop offset="0.646" stop-color="#919191"/><stop offset="0.688" stop-color="#8d8d8d"/><stop offset="0.729" stop-color="#898989"/><stop offset="0.771" stop-color="#838383"/><stop offset="0.812" stop-color="#818181"/><stop offset="0.854" stop-color="#838383"/><stop offset="0.896" stop-color="#898989"/><stop offset="0.938" stop-color="#919191"/><stop offset="0.979" stop-color="#989898"/></linearGradient>
<linearGradient id="q4" x1="0" y1="0" x2="0" y2="1"><stop offset="0.021" stop-color="#898989"/><stop offset="0.062" stop-color="#818181"/><stop offset="0.104" stop-color="#787878"/><stop offset="0.146" stop-color="#747474"/><stop offset="0.188" stop-color="#767676"/><stop offset="0.229" stop-color="#797979"/><stop offset="0.271" stop-color="#7a7a7a"/><stop offset="0.312" stop-color="#7a7a7a"/><stop offset="0.354" stop-color="#7b7b7b"/><stop offset="0.396" stop-color="#7a7a7a"/><stop offset="0.438" stop-color="#7c7c7c"/><stop offset="0.479" stop-color="#858585"/><stop offset="0.521" stop-color="#939393"/><stop offset="0.562" stop-color="#999999"/><stop offset="0.604" stop-color="#979797"/><stop offset="0.646" stop-color="#939393"/><stop offset="0.688" stop-color="#8f8f8f"/><stop offset="0.729" stop-color="#8a8a8a"/><stop offset="0.771" stop-color="#848484"/><stop offset="0.812" stop-color="#7f7f7f"/><stop offset="0.854" stop-color="#7f7f7f"/><stop offset="0.896" stop-color="#868686"/><stop offset="0.938" stop-color="#919191"/><stop offset="0.979" stop-color="#9a9a9a"/></linearGradient>
<linearGradient id="q5" x1="0" y1="0" x2="0" y2="1"><stop offset="0.021" stop-color="#8b8b8b"/><stop offset="0.062" stop-color="#818181"/><stop offset="0.104" stop-color="#777777"/><stop offset="0.146" stop-color="#747474"/><stop offset="0.188" stop-color="#777777"/><stop offset="0.229" stop-color="#7b7b7b"/><stop offset="0.271" stop-color="#7c7c7c"/><stop offset="0.312" stop-color="#7b7b7b"/><stop offset="0.354" stop-color="#7a7a7a"/><stop offset="0.396" stop-color="#797979"/><stop offset="0.438" stop-color="#7c7c7c"/><stop offset="0.479" stop-color="#858585"/><stop offset="0.521" stop-color="#929292"/><stop offset="0.562" stop-color="#989898"/><stop offset="0.604" stop-color="#969696"/><stop offset="0.646" stop-color="#939393"/><stop offset="0.688" stop-color="#919191"/><stop offset="0.729" stop-color="#8c8c8c"/><stop offset="0.771" stop-color="#848484"/><stop offset="0.812" stop-color="#7d7d7d"/><stop offset="0.854" stop-color="#7b7b7b"/><stop offset="0.896" stop-color="#818181"/><stop offset="0.938" stop-color="#8e8e8e"/><stop offset="0.979" stop-color="#999999"/></linearGradient>
<linearGradient id="q6" x1="0" y1="0" x2="0" y2="1"><stop offset="0.021" stop-color="#8a8a8a"/><stop offset="0.062" stop-color="#818181"/><stop offset="0.104" stop-color="#777777"/><stop offset="0.146" stop-color="#757575"/><stop offset="0.188" stop-color="#7a7a7a"/><stop offset="0.229" stop-color="#7f7f7f"/><stop offset="0.271" stop-color="#7e7e7e"/><stop offset="0.312" stop-color="#7b7b7b"/><stop offset="0.354" stop-color="#787878"/><stop offset="0.396" stop-color="#777777"/><stop offset="0.438" stop-color="#7b7b7b"/><stop offset="0.479" stop-color="#848484"/><stop offset="0.521" stop-color="#919191"/><stop offset="0.562" stop-color="#979797"/><stop offset="0.604" stop-color="#959595"/><stop offset="0.646" stop-color="#929292"/><stop offset="0.688" stop-color="#8f8f8f"/><stop offset="0.729" stop-color="#8a8a8a"/><stop offset="0.771" stop-color="#818181"/><stop offset="0.812" stop-color="#7a7a7a"/><stop offset="0.854" stop-color="#787878"/><stop offset="0.896" stop-color="#818181"/><stop offset="0.938" stop-color="#919191"/><stop offset="0.979" stop-color="#9e9e9e"/></linearGradient>
<linearGradient id="q7" x1="0" y1="0" x2="0" y2="1"><stop offset="0.021" stop-color="#8a8a8a"/><stop offset="0.062" stop-color="#808080"/><stop offset="0.104" stop-color="#767676"/><stop offset="0.146" stop-color="#757575"/><stop offset="0.188" stop-color="#7b7b7b"/><stop offset="0.229" stop-color="#818181"/><stop offset="0.271" stop-color="#818181"/><stop offset="0.312" stop-color="#7d7d7d"/><stop offset="0.354" stop-color="#797979"/><stop offset="0.396" stop-color="#787878"/><stop offset="0.438" stop-color="#7c7c7c"/><stop offset="0.479" stop-color="#868686"/><stop offset="0.521" stop-color="#929292"/><stop offset="0.562" stop-color="#969696"/><stop offset="0.604" stop-color="#939393"/><stop offset="0.646" stop-color="#8f8f8f"/><stop offset="0.688" stop-color="#8c8c8c"/><stop offset="0.729" stop-color="#868686"/><stop offset="0.771" stop-color="#7d7d7d"/><stop offset="0.812" stop-color="#767676"/><stop offset="0.854" stop-color="#747474"/><stop offset="0.896" stop-color="#7d7d7d"/><stop offset="0.938" stop-color="#8e8e8e"/><stop offset="0.979" stop-color="#9c9c9c"/></linearGradient>
<linearGradient id="q8" x1="0" y1="0" x2="0" y2="1"><stop offset="0.021" stop-color="#868686"/><stop offset="0.062" stop-color="#7b7b7b"/><stop offset="0.104" stop-color="#717171"/><stop offset="0.146" stop-color="#717171"/><stop offset="0.188" stop-color="#7a7a7a"/><stop offset="0.229" stop-color="#818181"/><stop offset="0.271" stop-color="#828282"/><stop offset="0.312" stop-color="#7f7f7f"/><stop offset="0.354" stop-color="#7b7b7b"/><stop offset="0.396" stop-color="#7a7a7a"/><stop offset="0.438" stop-color="#7f7f7f"/><stop offset="0.479" stop-color="#898989"/><stop offset="0.521" stop-color="#929292"/><stop offset="0.562" stop-color="#959595"/><stop offset="0.604" stop-color="#909090"/><stop offset="0.646" stop-color="#8c8c8c"/><stop offset="0.688" stop-color="#8a8a8a"/><stop offset="0.729" stop-color="#848484"/><stop offset="0.771" stop-color="#7a7a7a"/><stop offset="0.812" stop-color="#717171"/><stop offset="0.854" stop-color="#6f6f6f"/><stop offset="0.896" stop-color="#797979"/><stop offset="0.938" stop-color="#8b8b8b"/><stop offset="0.979" stop-color="#9c9c9c"/></linearGradient>
<linearGradient id="q9" x1="0" y1="0" x2="0" y2="1"><stop offset="0.021" stop-color="#858585"/><stop offset="0.062" stop-color="#7b7b7b"/><stop offset="0.104" stop-color="#727272"/><stop offset="0.146" stop-color="#737373"/><stop offset="0.188" stop-color="#7d7d7d"/><stop offset="0.229" stop-color="#848484"/><stop offset="0.271" stop-color="#848484"/><stop offset="0.312" stop-color="#7e7e7e"/><stop offset="0.354" stop-color="#777777"/><stop offset="0.396" stop-color="#757575"/><stop offset="0.438" stop-color="#7a7a7a"/><stop offset="0.479" stop-color="#858585"/><stop offset="0.521" stop-color="#8f8f8f"/><stop offset="0.562" stop-color="#929292"/><stop offset="0.604" stop-color="#8e8e8e"/><stop offset="0.646" stop-color="#8b8b8b"/><stop offset="0.688" stop-color="#8a8a8a"/><stop offset="0.729" stop-color="#848484"/><stop offset="0.771" stop-color="#7a7a7a"/><stop offset="0.812" stop-color="#707070"/><stop offset="0.854" stop-color="#6e6e6e"/><stop offset="0.896" stop-color="#787878"/><stop offset="0.938" stop-color="#8c8c8c"/><stop offset="0.979" stop-color="#9d9d9d"/></linearGradient>
<linearGradient id="q10" x1="0" y1="0" x2="0" y2="1"><stop offset="0.021" stop-color="#888888"/><stop offset="0.062" stop-color="#7f7f7f"/><stop offset="0.104" stop-color="#767676"/><stop offset="0.146" stop-color="#777777"/><stop offset="0.188" stop-color="#808080"/><stop offset="0.229" stop-color="#878787"/><stop offset="0.271" stop-color="#858585"/><stop offset="0.312" stop-color="#7f7f7f"/><stop offset="0.354" stop-color="#777777"/><stop offset="0.396" stop-color="#757575"/><stop offset="0.438" stop-color="#7b7b7b"/><stop offset="0.479" stop-color="#878787"/><stop offset="0.521" stop-color="#929292"/><stop offset="0.562" stop-color="#969696"/><stop offset="0.604" stop-color="#939393"/><stop offset="0.646" stop-color="#919191"/><stop offset="0.688" stop-color="#909090"/><stop offset="0.729" stop-color="#8a8a8a"/><stop offset="0.771" stop-color="#7d7d7d"/><stop offset="0.812" stop-color="#717171"/><stop offset="0.854" stop-color="#6d6d6d"/><stop offset="0.896" stop-color="#777777"/><stop offset="0.938" stop-color="#8c8c8c"/><stop offset="0.979" stop-color="#9e9e9e"/></linearGradient>
<linearGradient id="q11" x1="0" y1="0" x2="0" y2="1"><stop offset="0.021" stop-color="#868686"/><stop offset="0.062" stop-color="#7e7e7e"/><stop offset="0.104" stop-color="#787878"/><stop offset="0.146" stop-color="#7a7a7a"/><stop offset="0.188" stop-color="#848484"/><stop offset="0.229" stop-color="#8b8b8b"/><stop offset="0.271" stop-color="#8a8a8a"/><stop offset="0.312" stop-color="#838383"/><stop offset="0.354" stop-color="#7a7a7a"/><stop offset="0.396" stop-color="#777777"/><stop offset="0.438" stop-color="#7d7d7d"/><stop offset="0.479" stop-color="#888888"/><stop offset="0.521" stop-color="#939393"/><stop offset="0.562" stop-color="#979797"/><stop offset="0.604" stop-color="#929292"/><stop offset="0.646" stop-color="#909090"/><stop offset="0.688" stop-color="#8f8f8f"/><stop offset="0.729" stop-color="#898989"/><stop offset="0.771" stop-color="#7b7b7b"/><stop offset="0.812" stop-color="#6e6e6e"/><stop offset="0.854" stop-color="#6a6a6a"/><stop offset="0.896" stop-color="#747474"/><stop offset="0.938" stop-color="#898989"/><stop offset="0.979" stop-color="#9c9c9c"/></linearGradient>
<linearGradient id="q12" x1="0" y1="0" x2="0" y2="1"><stop offset="0.021" stop-color="#878787"/><stop offset="0.062" stop-color="#808080"/><stop offset="0.104" stop-color="#7a7a7a"/><stop offset="0.146" stop-color="#7c7c7c"/><stop offset="0.188" stop-color="#858585"/><stop offset="0.229" stop-color="#8b8b8b"/><stop offset="0.271" stop-color="#898989"/><stop offset="0.312" stop-color="#818181"/><stop offset="0.354" stop-color="#787878"/><stop offset="0.396" stop-color="#747474"/><stop offset="0.438" stop-color="#7a7a7a"/><stop offset="0.479" stop-color="#868686"/><stop offset="0.521" stop-color="#939393"/><stop offset="0.562" stop-color="#969696"/><stop offset="0.604" stop-color="#929292"/><stop offset="0.646" stop-color="#8f8f8f"/><stop offset="0.688" stop-color="#909090"/><stop offset="0.729" stop-color="#8a8a8a"/><stop offset="0.771" stop-color="#7d7d7d"/><stop offset="0.812" stop-color="#707070"/><stop offset="0.854" stop-color="#6c6c6c"/><stop offset="0.896" stop-color="#767676"/><stop offset="0.938" stop-color="#8a8a8a"/><stop offset="0.979" stop-color="#9b9b9b"/></linearGradient>
<linearGradient id="q13" x1="0" y1="0" x2="0" y2="1"><stop offset="0.021" stop-color="#858585"/><stop offset="0.062" stop-color="#7f7f7f"/><stop offset="0.104" stop-color="#7a7a7a"/><stop offset="0.146" stop-color="#7d7d7d"/><stop offset="0.188" stop-color="#878787"/><stop offset="0.229" stop-color="#8d8d8d"/><stop offset="0.271" stop-color="#8b8b8b"/><stop offset="0.312" stop-color="#828282"/><stop offset="0.354" stop-color="#787878"/><stop offset="0.396" stop-color="#757575"/><stop offset="0.438" stop-color="#7a7a7a"/><stop offset="0.479" stop-color="#868686"/><stop offset="0.521" stop-color="#929292"/><stop offset="0.562" stop-color="#969696"/><stop offset="0.604" stop-color="#919191"/><stop offset="0.646" stop-color="#8f8f8f"/><stop offset="0.688" stop-color="#919191"/><stop offset="0.729" stop-color="#8b8b8b"/><stop offset="0.771" stop-color="#7f7f7f"/><stop offset="0.812" stop-color="#737373"/><stop offset="0.854" stop-color="#707070"/><stop offset="0.896" stop-color="#7a7a7a"/><stop offset="0.938" stop-color="#8e8e8e"/><stop offset="0.979" stop-color="#9f9f9f"/></linearGradient>
<linearGradient id="q14" x1="0" y1="0" x2="0" y2="1"><stop offset="0.021" stop-color="#828282"/><stop offset="0.062" stop-color="#7d7d7d"/><stop offset="0.104" stop-color="#797979"/><stop offset="0.146" stop-color="#7d7d7d"/><stop offset="0.188" stop-color="#878787"/><stop offset="0.229" stop-color="#8d8d8d"/><stop offset="0.271" stop-color="#8b8b8b"/><stop offset="0.312" stop-color="#838383"/><stop offset="0.354" stop-color="#787878"/><stop offset="0.396" stop-color="#747474"/><stop offset="0.438" stop-color="#797979"/><stop offset="0.479" stop-color="#858585"/><stop offset="0.521" stop-color="#939393"/><stop offset="0.562" stop-color="#979797"/><stop offset="0.604" stop-color="#939393"/><stop offset="0.646" stop-color="#929292"/><stop offset="0.688" stop-color="#949494"/><stop offset="0.729" stop-color="#8f8f8f"/><stop offset="0.771" stop-color="#828282"/><stop offset="0.812" stop-color="#767676"/><stop offset="0.854" stop-color="#737373"/><stop offset="0.896" stop-color="#7c7c7c"/><stop offset="0.938" stop-color="#8f8f8f"/><stop offset="0.979" stop-color="#a0a0a0"/></linearGradient>
<linearGradient id="q15" x1="0" y1="0" x2="0" y2="1"><stop offset="0.021" stop-color="#818181"/><stop offset="0.062" stop-color="#7c7c7c"/><stop offset="0.104" stop-color="#7a7a7a"/><stop offset="0.146" stop-color="#7e7e7e"/><stop offset="0.188" stop-color="#898989"/><stop offset="0.229" stop-color="#909090"/><stop offset="0.271" stop-color="#8e8e8e"/><stop offset="0.312" stop-color="#848484"/><stop offset="0.354" stop-color="#777777"/><stop offset="0.396" stop-color="#717171"/><stop offset="0.438" stop-color="#757575"/><stop offset="0.479" stop-color="#828282"/><stop offset="0.521" stop-color="#909090"/><stop offset="0.562" stop-color="#959595"/><stop offset="0.604" stop-color="#929292"/><stop offset="0.646" stop-color="#919191"/><stop offset="0.688" stop-color="#939393"/><stop offset="0.729" stop-color="#8d8d8d"/><stop offset="0.771" stop-color="#808080"/><stop offset="0.812" stop-color="#747474"/><stop offset="0.854" stop-color="#727272"/><stop offset="0.896" stop-color="#7c7c7c"/><stop offset="0.938" stop-color="#8e8e8e"/><stop offset="0.979" stop-color="#9d9d9d"/></linearGradient>
<linearGradient id="q16" x1="0" y1="0" x2="0" y2="1"><stop offset="0.021" stop-color="#7c7c7c"/><stop offset="0.062" stop-color="#787878"/><stop offset="0.104" stop-color="#767676"/><stop offset="0.146" stop-color="#7b7b7b"/><stop offset="0.188" stop-color="#878787"/><stop offset="0.229" stop-color="#8f8f8f"/><stop offset="0.271" stop-color="#8f8f8f"/><stop offset="0.312" stop-color="#858585"/><stop offset="0.354" stop-color="#777777"/><stop offset="0.396" stop-color="#707070"/><stop offset="0.438" stop-color="#747474"/><stop offset="0.479" stop-color="#818181"/><stop offset="0.521" stop-color="#8f8f8f"/><stop offset="0.562" stop-color="#949494"/><stop offset="0.604" stop-color="#909090"/><stop offset="0.646" stop-color="#8f8f8f"/><stop offset="0.688" stop-color="#919191"/><stop offset="0.729" stop-color="#8b8b8b"/><stop offset="0.771" stop-color="#7d7d7d"/><stop offset="0.812" stop-color="#717171"/><stop offset="0.854" stop-color="#6f6f6f"/><stop offset="0.896" stop-color="#797979"/><stop offset="0.938" stop-color="#8a8a8a"/><stop offset="0.979" stop-color="#989898"/></linearGradient>
<linearGradient id="q17" x1="0" y1="0" x2="0" y2="1"><stop offset="0.021" stop-color="#7b7b7b"/><stop offset="0.062" stop-color="#767676"/><stop offset="0.104" stop-color="#747474"/><stop offset="0.146" stop-color="#797979"/><stop offset="0.188" stop-color="#848484"/><stop offset="0.229" stop-color="#8c8c8c"/><stop offset="0.271" stop-color="#8d8d8d"/><stop offset="0.312" stop-color="#848484"/><stop offset="0.354" stop-color="#747474"/><stop offset="0.396" stop-color="#6c6c6c"/><stop offset="0.438" stop-color="#717171"/><stop offset="0.479" stop-color="#7f7f7f"/><stop offset="0.521" stop-color="#8f8f8f"/><stop offset="0.562" stop-color="#959595"/><stop offset="0.604" stop-color="#939393"/><stop offset="0.646" stop-color="#949494"/><stop offset="0.688" stop-color="#979797"/><stop offset="0.729" stop-color="#929292"/><stop offset="0.771" stop-color="#838383"/><stop offset="0.812" stop-color="#787878"/><stop offset="0.854" stop-color="#767676"/><stop offset="0.896" stop-color="#7f7f7f"/><stop offset="0.938" stop-color="#8e8e8e"/><stop offset="0.979" stop-color="#9a9a9a"/></linearGradient>
<linearGradient id="q18" x1="0" y1="0" x2="0" y2="1"><stop offset="0.021" stop-color="#757575"/><stop offset="0.062" stop-color="#717171"/><stop offset="0.104" stop-color="#6f6f6f"/><stop offset="0.146" stop-color="#747474"/><stop offset="0.188" stop-color="#808080"/><stop offset="0.229" stop-color="#8a8a8a"/><stop offset="0.271" stop-color="#8c8c8c"/><stop offset="0.312" stop-color="#838383"/><stop offset="0.354" stop-color="#737373"/><stop offset="0.396" stop-color="#6b6b6b"/><stop offset="0.438" stop-color="#707070"/><stop offset="0.479" stop-color="#7f7f7f"/><stop offset="0.521" stop-color="#919191"/><stop offset="0.562" stop-color="#989898"/><stop offset="0.604" stop-color="#979797"/><stop offset="0.646" stop-color="#979797"/><stop offset="0.688" stop-color="#9a9a9a"/><stop offset="0.729" stop-color="#959595"/><stop offset="0.771" stop-color="#878787"/><stop offset="0.812" stop-color="#7d7d7d"/><stop offset="0.854" stop-color="#7c7c7c"/><stop offset="0.896" stop-color="#858585"/><stop offset="0.938" stop-color="#929292"/><stop offset="0.979" stop-color="#9e9e9e"/></linearGradient>
<linearGradient id="q19" x1="0" y1="0" x2="0" y2="1"><stop offset="0.021" stop-color="#757575"/><stop offset="0.062" stop-color="#717171"/><stop offset="0.104" stop-color="#6e6e6e"/><stop offset="0.146" stop-color="#737373"/><stop offset="0.188" stop-color="#7e7e7e"/><stop offset="0.229" stop-color="#888888"/><stop offset="0.271" stop-color="#8b8b8b"/><stop offset="0.312" stop-color="#838383"/><stop offset="0.354" stop-color="#737373"/><stop offset="0.396" stop-color="#6c6c6c"/><stop offset="0.438" stop-color="#727272"/><stop offset="0.479" stop-color="#818181"/><stop offset="0.521" stop-color="#919191"/><stop offset="0.562" stop-color="#979797"/><stop offset="0.604" stop-color="#969696"/><stop offset="0.646" stop-color="#979797"/><stop offset="0.688" stop-color="#9b9b9b"/><stop offset="0.729" stop-color="#989898"/><stop offset="0.771" stop-color="#8c8c8c"/><stop offset="0.812" stop-color="#838383"/><stop offset="0.854" stop-color="#828282"/><stop offset="0.896" stop-color="#8a8a8a"/><stop offset="0.938" stop-color="#969696"/><stop offset="0.979" stop-color="#9f9f9f"/></linearGradient>
<linearGradient id="q20" x1="0" y1="0" x2="0" y2="1"><stop offset="0.021" stop-color="#777777"/><stop offset="0.062" stop-color="#727272"/><stop offset="0.104" stop-color="#6f6f6f"/><stop offset="0.146" stop-color="#727272"/><stop offset="0.188" stop-color="#7c7c7c"/><stop offset="0.229" stop-color="#868686"/><stop offset="0.271" stop-color="#8a8a8a"/><stop offset="0.312" stop-color="#828282"/><stop offset="0.354" stop-color="#727272"/><stop offset="0.396" stop-color="#6b6b6b"/><stop offset="0.438" stop-color="#727272"/><stop offset="0.479" stop-color="#828282"/><stop offset="0.521" stop-color="#939393"/><stop offset="0.562" stop-color="#9b9b9b"/><stop offset="0.604" stop-color="#9a9a9a"/><stop offset="0.646" stop-color="#9c9c9c"/><stop offset="0.688" stop-color="#9f9f9f"/><stop offset="0.729" stop-color="#9b9b9b"/><stop offset="0.771" stop-color="#8e8e8e"/><stop offset="0.812" stop-color="#868686"/><stop offset="0.854" stop-color="#868686"/><stop offset="0.896" stop-color="#8d8d8d"/><stop offset="0.938" stop-color="#989898"/><stop offset="0.979" stop-color="#a1a1a1"/></linearGradient>
<linearGradient id="q21" x1="0" y1="0" x2="0" y2="1"><stop offset="0.021" stop-color="#727272"/><stop offset="0.062" stop-color="#6d6d6d"/><stop offset="0.104" stop-color="#686868"/><stop offset="0.146" stop-color="#6b6b6b"/><stop offset="0.188" stop-color="#757575"/><stop offset="0.229" stop-color="#808080"/><stop offset="0.271" stop-color="#878787"/><stop offset="0.312" stop-color="#828282"/><stop offset="0.354" stop-color="#737373"/><stop offset="0.396" stop-color="#6c6c6c"/><stop offset="0.438" stop-color="#727272"/><stop offset="0.479" stop-color="#828282"/><stop offset="0.521" stop-color="#939393"/><stop offset="0.562" stop-color="#9b9b9b"/><stop offset="0.604" stop-color="#9a9a9a"/><stop offset="0.646" stop-color="#9b9b9b"/><stop offset="0.688" stop-color="#9f9f9f"/><stop offset="0.729" stop-color="#9a9a9a"/><stop offset="0.771" stop-color="#8f8f8f"/><stop offset="0.812" stop-color="#868686"/><stop offset="0.854" stop-color="#868686"/><stop offset="0.896" stop-color="#8c8c8c"/><stop offset="0.938" stop-color="#969696"/><stop offset="0.979" stop-color="#9e9e9e"/></linearGradient>
<linearGradient id="q22" x1="0" y1="0" x2="0" y2="1"><stop offset="0.021" stop-color="#707070"/><stop offset="0.062" stop-color="#6a6a6a"/><stop offset="0.104" stop-color="#646464"/><stop offset="0.146" stop-color="#656565"/><stop offset="0.188" stop-color="#6f6f6f"/><stop offset="0.229" stop-color="#7b7b7b"/><stop offset="0.271" stop-color="#858585"/><stop offset="0.312" stop-color="#818181"/><stop offset="0.354" stop-color="#747474"/><stop offset="0.396" stop-color="#6c6c6c"/><stop offset="0.438" stop-color="#727272"/><stop offset="0.479" stop-color="#818181"/><stop offset="0.521" stop-color="#929292"/><stop offset="0.562" stop-color="#9b9b9b"/><stop offset="0.604" stop-color="#9a9a9a"/><stop offset="0.646" stop-color="#9c9c9c"/><stop offset="0.688" stop-color="#a0a0a0"/><stop offset="0.729" stop-color="#9c9c9c"/><stop offset="0.771" stop-color="#929292"/><stop offset="0.812" stop-color="#8b8b8b"/><stop offset="0.854" stop-color="#8b8b8b"/><stop offset="0.896" stop-color="#919191"/><stop offset="0.938" stop-color="#9b9b9b"/><stop offset="0.979" stop-color="#a2a2a2"/></linearGradient>
<linearGradient id="q23" x1="0" y1="0" x2="0" y2="1"><stop offset="0.021" stop-color="#767676"/><stop offset="0.062" stop-color="#6f6f6f"/><stop offset="0.104" stop-color="#686868"/><stop offset="0.146" stop-color="#666666"/><stop offset="0.188" stop-color="#6d6d6d"/><stop offset="0.229" stop-color="#787878"/><stop offset="0.271" stop-color="#828282"/><stop offset="0.312" stop-color="#818181"/><stop offset="0.354" stop-color="#757575"/><stop offset="0.396" stop-color="#6f6f6f"/><stop offset="0.438" stop-color="#757575"/><stop offset="0.479" stop-color="#838383"/><stop offset="0.521" stop-color="#949494"/><stop offset="0.562" stop-color="#9c9c9c"/><stop offset="0.604" stop-color="#9c9c9c"/><stop offset="0.646" stop-color="#9d9d9d"/><stop offset="0.688" stop-color="#a0a0a0"/><stop offset="0.729" stop-color="#9d9d9d"/><stop offset="0.771" stop-color="#939393"/><stop offset="0.812" stop-color="#8c8c8c"/><stop offset="0.854" stop-color="#8c8c8c"/><stop offset="0.896" stop-color="#929292"/><stop offset="0.938" stop-color="#9c9c9c"/><stop offset="0.979" stop-color="#a4a4a4"/></linearGradient>
<linearGradient id="q24" x1="0" y1="0" x2="0" y2="1"><stop offset="0.021" stop-color="#737373"/><stop offset="0.062" stop-color="#6b6b6b"/><stop offset="0.104" stop-color="#626262"/><stop offset="0.146" stop-color="#606060"/><stop offset="0.188" stop-color="#676767"/><stop offset="0.229" stop-color="#737373"/><stop offset="0.271" stop-color="#7d7d7d"/><stop offset="0.312" stop-color="#7d7d7d"/><stop offset="0.354" stop-color="#757575"/><stop offset="0.396" stop-color="#707070"/><stop offset="0.438" stop-color="#757575"/><stop offset="0.479" stop-color="#838383"/><stop offset="0.521" stop-color="#949494"/><stop offset="0.562" stop-color="#9c9c9c"/><stop offset="0.604" stop-color="#9d9d9d"/><stop offset="0.646" stop-color="#9e9e9e"/><stop offset="0.688" stop-color="#a1a1a1"/><stop offset="0.729" stop-color="#9f9f9f"/><stop offset="0.771" stop-color="#979797"/><stop offset="0.812" stop-color="#929292"/><stop offset="0.854" stop-color="#939393"/><stop offset="0.896" stop-color="#999999"/><stop offset="0.938" stop-color="#a1a1a1"/><stop offset="0.979" stop-color="#a8a8a8"/></linearGradient>
<linearGradient id="q25" x1="0" y1="0" x2="0" y2="1"><stop offset="0.021" stop-color="#727272"/><stop offset="0.062" stop-color="#696969"/><stop offset="0.104" stop-color="#5f5f5f"/><stop offset="0.146" stop-color="#5c5c5c"/><stop offset="0.188" stop-color="#626262"/><stop offset="0.229" stop-color="#6e6e6e"/><stop offset="0.271" stop-color="#7a7a7a"/><stop offset="0.312" stop-color="#7c7c7c"/><stop offset="0.354" stop-color="#767676"/><stop offset="0.396" stop-color="#717171"/><stop offset="0.438" stop-color="#757575"/><stop offset="0.479" stop-color="#838383"/><stop offset="0.521" stop-color="#949494"/><stop offset="0.562" stop-color="#9d9d9d"/><stop offset="0.604" stop-color="#9f9f9f"/><stop offset="0.646" stop-color="#a1a1a1"/><stop offset="0.688" stop-color="#a4a4a4"/><stop offset="0.729" stop-color="#a2a2a2"/><stop offset="0.771" stop-color="#9b9b9b"/><stop offset="0.812" stop-color="#969696"/><stop offset="0.854" stop-color="#969696"/><stop offset="0.896" stop-color="#9b9b9b"/><stop offset="0.938" stop-color="#a1a1a1"/><stop offset="0.979" stop-color="#a6a6a6"/></linearGradient>
<linearGradient id="q26" x1="0" y1="0" x2="0" y2="1"><stop offset="0.021" stop-color="#717171"/><stop offset="0.062" stop-color="#676767"/><stop offset="0.104" stop-color="#5b5b5b"/><stop offset="0.146" stop-color="#575757"/><stop offset="0.188" stop-color="#5d5d5d"/><stop offset="0.229" stop-color="#696969"/><stop offset="0.271" stop-color="#757575"/><stop offset="0.312" stop-color="#787878"/><stop offset="0.354" stop-color="#747474"/><stop offset="0.396" stop-color="#707070"/><stop offset="0.438" stop-color="#737373"/><stop offset="0.479" stop-color="#808080"/><stop offset="0.521" stop-color="#919191"/><stop offset="0.562" stop-color="#9c9c9c"/><stop offset="0.604" stop-color="#9f9f9f"/><stop offset="0.646" stop-color="#a2a2a2"/><stop offset="0.688" stop-color="#a5a5a5"/><stop offset="0.729" stop-color="#a3a3a3"/><stop offset="0.771" stop-color="#9e9e9e"/><stop offset="0.812" stop-color="#9c9c9c"/><stop offset="0.854" stop-color="#a0a0a0"/><stop offset="0.896" stop-color="#a6a6a6"/><stop offset="0.938" stop-color="#ababab"/><stop offset="0.979" stop-color="#aeaeae"/></linearGradient>
<linearGradient id="q27" x1="0" y1="0" x2="0" y2="1"><stop offset="0.021" stop-color="#6d6d6d"/><stop offset="0.062" stop-color="#626262"/><stop offset="0.104" stop-color="#565656"/><stop offset="0.146" stop-color="#535353"/><stop offset="0.188" stop-color="#5a5a5a"/><stop offset="0.229" stop-color="#656565"/><stop offset="0.271" stop-color="#6f6f6f"/><stop offset="0.312" stop-color="#737373"/><stop offset="0.354" stop-color="#727272"/><stop offset="0.396" stop-color="#717171"/><stop offset="0.438" stop-color="#757575"/><stop offset="0.479" stop-color="#818181"/><stop offset="0.521" stop-color="#929292"/><stop offset="0.562" stop-color="#9d9d9d"/><stop offset="0.604" stop-color="#a0a0a0"/><stop offset="0.646" stop-color="#a2a2a2"/><stop offset="0.688" stop-color="#a5a5a5"/><stop offset="0.729" stop-color="#a4a4a4"/><stop offset="0.771" stop-color="#9f9f9f"/><stop offset="0.812" stop-color="#a1a1a1"/><stop offset="0.854" stop-color="#a8a8a8"/><stop offset="0.896" stop-color="#afafaf"/><stop offset="0.938" stop-color="#b1b1b1"/><stop offset="0.979" stop-color="#b2b2b2"/></linearGradient>
<linearGradient id="q28" x1="0" y1="0" x2="0" y2="1"><stop offset="0.021" stop-color="#686868"/><stop offset="0.062" stop-color="#5d5d5d"/><stop offset="0.104" stop-color="#525252"/><stop offset="0.146" stop-color="#515151"/><stop offset="0.188" stop-color="#595959"/><stop offset="0.229" stop-color="#636363"/><stop offset="0.271" stop-color="#6b6b6b"/><stop offset="0.312" stop-color="#6f6f6f"/><stop offset="0.354" stop-color="#707070"/><stop offset="0.396" stop-color="#727272"/><stop offset="0.438" stop-color="#767676"/><stop offset="0.479" stop-color="#838383"/><stop offset="0.521" stop-color="#949494"/><stop offset="0.562" stop-color="#a0a0a0"/><stop offset="0.604" stop-color="#a3a3a3"/><stop offset="0.646" stop-color="#a6a6a6"/><stop offset="0.688" stop-color="#ababab"/><stop offset="0.729" stop-color="#a9a9a9"/><stop offset="0.771" stop-color="#a5a5a5"/><stop offset="0.812" stop-color="#a9a9a9"/><stop offset="0.854" stop-color="#b3b3b3"/><stop offset="0.896" stop-color="#bababa"/><stop offset="0.938" stop-color="#bababa"/><stop offset="0.979" stop-color="#b7b7b7"/></linearGradient>
<linearGradient id="q29" x1="0" y1="0" x2="0" y2="1"><stop offset="0.021" stop-color="#676767"/><stop offset="0.062" stop-color="#5b5b5b"/><stop offset="0.104" stop-color="#4f4f4f"/><stop offset="0.146" stop-color="#4e4e4e"/><stop offset="0.188" stop-color="#585858"/><stop offset="0.229" stop-color="#626262"/><stop offset="0.271" stop-color="#686868"/><stop offset="0.312" stop-color="#6b6b6b"/><stop offset="0.354" stop-color="#6f6f6f"/><stop offset="0.396" stop-color="#727272"/><stop offset="0.438" stop-color="#767676"/><stop offset="0.479" stop-color="#828282"/><stop offset="0.521" stop-color="#949494"/><stop offset="0.562" stop-color="#a0a0a0"/><stop offset="0.604" stop-color="#a5a5a5"/><stop offset="0.646" stop-color="#ababab"/><stop offset="0.688" stop-color="#b1b1b1"/><stop offset="0.729" stop-color="#b3b3b3"/><stop offset="0.771" stop-color="#b1b1b1"/><stop offset="0.812" stop-color="#b7b7b7"/><stop offset="0.854" stop-color="#c3c3c3"/><stop offset="0.896" stop-color="#c9c9c9"/><stop offset="0.938" stop-color="#c5c5c5"/><stop offset="0.979" stop-color="#bebebe"/></linearGradient>
<linearGradient id="q30" x1="0" y1="0" x2="0" y2="1"><stop offset="0.021" stop-color="#5e5e5e"/><stop offset="0.062" stop-color="#525252"/><stop offset="0.104" stop-color="#464646"/><stop offset="0.146" stop-color="#474747"/><stop offset="0.188" stop-color="#535353"/><stop offset="0.229" stop-color="#5d5d5d"/><stop offset="0.271" stop-color="#616161"/><stop offset="0.312" stop-color="#666666"/><stop offset="0.354" stop-color="#6c6c6c"/><stop offset="0.396" stop-color="#707070"/><stop offset="0.438" stop-color="#757575"/><stop offset="0.479" stop-color="#818181"/><stop offset="0.521" stop-color="#949494"/><stop offset="0.562" stop-color="#a1a1a1"/><stop offset="0.604" stop-color="#a9a9a9"/><stop offset="0.646" stop-color="#b0b0b0"/><stop offset="0.688" stop-color="#b7b7b7"/><stop offset="0.729" stop-color="#b9b9b9"/><stop offset="0.771" stop-color="#b8b8b8"/><stop offset="0.812" stop-color="#c0c0c0"/><stop offset="0.854" stop-color="#cfcfcf"/><stop offset="0.896" stop-color="#d6d6d6"/><stop offset="0.938" stop-color="#cfcfcf"/><stop offset="0.979" stop-color="#c6c6c6"/></linearGradient>
<linearGradient id="q31" x1="0" y1="0" x2="0" y2="1"><stop offset="0.021" stop-color="#515151"/><stop offset="0.062" stop-color="#454545"/><stop offset="0.104" stop-color="#3b3b3b"/><stop offset="0.146" stop-color="#3e3e3e"/><stop offset="0.188" stop-color="#4c4c4c"/><stop offset="0.229" stop-color="#565656"/><stop offset="0.271" stop-color="#5a5a5a"/><stop offset="0.312" stop-color="#5f5f5f"/><stop offset="0.354" stop-color="#686868"/><stop offset="0.396" stop-color="#6e6e6e"/><stop offset="0.438" stop-color="#737373"/><stop offset="0.479" stop-color="#808080"/><stop offset="0.521" stop-color="#949494"/><stop offset="0.562" stop-color="#a4a4a4"/><stop offset="0.604" stop-color="#adadad"/><stop offset="0.646" stop-color="#b5b5b5"/><stop offset="0.688" stop-color="#bebebe"/><stop offset="0.729" stop-color="#c0c0c0"/><stop offset="0.771" stop-color="#c0c0c0"/><stop offset="0.812" stop-color="#cbcbcb"/><stop offset="0.854" stop-color="#dddddd"/><stop offset="0.896" stop-color="#e4e4e4"/><stop offset="0.938" stop-color="#dcdcdc"/><stop offset="0.979" stop-color="#d1d1d1"/></linearGradient>
<linearGradient id="q32" x1="0" y1="0" x2="0" y2="1"><stop offset="0.021" stop-color="#4c4c4c"/><stop offset="0.062" stop-color="#3f3f3f"/><stop offset="0.104" stop-color="#343434"/><stop offset="0.146" stop-color="#383838"/><stop offset="0.188" stop-color="#474747"/><stop offset="0.229" stop-color="#535353"/><stop offset="0.271" stop-color="#575757"/><stop offset="0.312" stop-color="#5c5c5c"/><stop offset="0.354" stop-color="#636363"/><stop offset="0.396" stop-color="#686868"/><stop offset="0.438" stop-color="#6e6e6e"/><stop offset="0.479" stop-color="#7e7e7e"/><stop offset="0.521" stop-color="#959595"/><stop offset="0.562" stop-color="#a7a7a7"/><stop offset="0.604" stop-color="#b1b1b1"/><stop offset="0.646" stop-color="#b9b9b9"/><stop offset="0.688" stop-color="#c1c1c1"/><stop offset="0.729" stop-color="#c4c4c4"/><stop offset="0.771" stop-color="#c6c6c6"/><stop offset="0.812" stop-color="#d1d1d1"/><stop offset="0.854" stop-color="#e3e3e3"/><stop offset="0.896" stop-color="#eaeaea"/><stop offset="0.938" stop-color="#e1e1e1"/><stop offset="0.979" stop-color="#d6d6d6"/></linearGradient>
<linearGradient id="q33" x1="0" y1="0" x2="0" y2="1"><stop offset="0.021" stop-color="#464646"/><stop offset="0.062" stop-color="#383838"/><stop offset="0.104" stop-color="#2c2c2c"/><stop offset="0.146" stop-color="#2f2f2f"/><stop offset="0.188" stop-color="#404040"/><stop offset="0.229" stop-color="#4d4d4d"/><stop offset="0.271" stop-color="#525252"/><stop offset="0.312" stop-color="#575757"/><stop offset="0.354" stop-color="#5d5d5d"/><stop offset="0.396" stop-color="#636363"/><stop offset="0.438" stop-color="#6b6b6b"/><stop offset="0.479" stop-color="#7d7d7d"/><stop offset="0.521" stop-color="#979797"/><stop offset="0.562" stop-color="#acacac"/><stop offset="0.604" stop-color="#b8b8b8"/><stop offset="0.646" stop-color="#c2c2c2"/><stop offset="0.688" stop-color="#cbcbcb"/><stop offset="0.729" stop-color="#cfcfcf"/><stop offset="0.771" stop-color="#d2d2d2"/><stop offset="0.812" stop-color="#dddddd"/><stop offset="0.854" stop-color="#ececec"/><stop offset="0.896" stop-color="#f2f2f2"/><stop offset="0.938" stop-color="#e9e9e9"/><stop offset="0.979" stop-color="#dfdfdf"/></linearGradient>
<linearGradient id="q34" x1="0" y1="0" x2="0" y2="1"><stop offset="0.021" stop-color="#393939"/><stop offset="0.062" stop-color="#2b2b2b"/><stop offset="0.104" stop-color="#1f1f1f"/><stop offset="0.146" stop-color="#232323"/><stop offset="0.188" stop-color="#343434"/><stop offset="0.229" stop-color="#424242"/><stop offset="0.271" stop-color="#484848"/><stop offset="0.312" stop-color="#4d4d4d"/><stop offset="0.354" stop-color="#535353"/><stop offset="0.396" stop-color="#595959"/><stop offset="0.438" stop-color="#636363"/><stop offset="0.479" stop-color="#797979"/><stop offset="0.521" stop-color="#989898"/><stop offset="0.562" stop-color="#afafaf"/><stop offset="0.604" stop-color="#bcbcbc"/><stop offset="0.646" stop-color="#c6c6c6"/><stop offset="0.688" stop-color="#cecece"/><stop offset="0.729" stop-color="#d2d2d2"/><stop offset="0.771" stop-color="#d6d6d6"/><stop offset="0.812" stop-color="#dfdfdf"/><stop offset="0.854" stop-color="#ededed"/><stop offset="0.896" stop-color="#f2f2f2"/><stop offset="0.938" stop-color="#ededed"/><stop offset="0.979" stop-color="#e6e6e6"/></linearGradient>
<linearGradient id="q35" x1="0" y1="0" x2="0" y2="1"><stop offset="0.021" stop-color="#333333"/><stop offset="0.062" stop-color="#252525"/><stop offset="0.104" stop-color="#171717"/><stop offset="0.146" stop-color="#191919"/><stop offset="0.188" stop-color="#292929"/><stop offset="0.229" stop-color="#383838"/><stop offset="0.271" stop-color="#414141"/><stop offset="0.312" stop-color="#464646"/><stop offset="0.354" stop-color="#4b4b4b"/><stop offset="0.396" stop-color="#515151"/><stop offset="0.438" stop-color="#5c5c5c"/><stop offset="0.479" stop-color="#767676"/><stop offset="0.521" stop-color="#989898"/><stop offset="0.562" stop-color="#b3b3b3"/><stop offset="0.604" stop-color="#c1c1c1"/><stop offset="0.646" stop-color="#cacaca"/><stop offset="0.688" stop-color="#d1d1d1"/><stop offset="0.729" stop-color="#d6d6d6"/><stop offset="0.771" stop-color="#dbdbdb"/><stop offset="0.812" stop-color="#e3e3e3"/><stop offset="0.854" stop-color="#efefef"/><stop offset="0.896" stop-color="#f3f3f3"/><stop offset="0.938" stop-color="#f1f1f1"/><stop offset="0.979" stop-color="#ececec"/></linearGradient>
<linearGradient id="q36" x1="0" y1="0" x2="0" y2="1"><stop offset="0.021" stop-color="#2c2c2c"/><stop offset="0.062" stop-color="#1e1e1e"/><stop offset="0.104" stop-color="#101010"/><stop offset="0.146" stop-color="#121212"/><stop offset="0.188" stop-color="#222222"/><stop offset="0.229" stop-color="#333333"/><stop offset="0.271" stop-color="#3d3d3d"/><stop offset="0.312" stop-color="#434343"/><stop offset="0.354" stop-color="#464646"/><stop offset="0.396" stop-color="#4a4a4a"/><stop offset="0.438" stop-color="#575757"/><stop offset="0.479" stop-color="#737373"/><stop offset="0.521" stop-color="#999999"/><stop offset="0.562" stop-color="#b6b6b6"/><stop offset="0.604" stop-color="#c6c6c6"/><stop offset="0.646" stop-color="#d0d0d0"/><stop offset="0.688" stop-color="#d7d7d7"/><stop offset="0.729" stop-color="#dddddd"/><stop offset="0.771" stop-color="#e2e2e2"/><stop offset="0.812" stop-color="#e9e9e9"/><stop offset="0.854" stop-color="#f0f0f0"/><stop offset="0.896" stop-color="#f4f4f4"/><stop offset="0.938" stop-color="#f3f3f3"/><stop offset="0.979" stop-color="#f1f1f1"/></linearGradient>
<linearGradient id="q37" x1="0" y1="0" x2="0" y2="1"><stop offset="0.021" stop-color="#242424"/><stop offset="0.062" stop-color="#171717"/><stop offset="0.104" stop-color="#0b0b0b"/><stop offset="0.146" stop-color="#0e0e0e"/><stop offset="0.188" stop-color="#1f1f1f"/><stop offset="0.229" stop-color="#323232"/><stop offset="0.271" stop-color="#3e3e3e"/><stop offset="0.312" stop-color="#434343"/><stop offset="0.354" stop-color="#444444"/><stop offset="0.396" stop-color="#484848"/><stop offset="0.438" stop-color="#555555"/><stop offset="0.479" stop-color="#747474"/><stop offset="0.521" stop-color="#9c9c9c"/><stop offset="0.562" stop-color="#bbbbbb"/><stop offset="0.604" stop-color="#cbcbcb"/><stop offset="0.646" stop-color="#d5d5d5"/><stop offset="0.688" stop-color="#dcdcdc"/><stop offset="0.729" stop-color="#e3e3e3"/><stop offset="0.771" stop-color="#e9e9e9"/><stop offset="0.812" stop-color="#ededed"/><stop offset="0.854" stop-color="#f0f0f0"/><stop offset="0.896" stop-color="#f2f2f2"/><stop offset="0.938" stop-color="#f3f3f3"/><stop offset="0.979" stop-color="#f4f4f4"/></linearGradient>
<linearGradient id="q38" x1="0" y1="0" x2="0" y2="1"><stop offset="0.021" stop-color="#1e1e1e"/><stop offset="0.062" stop-color="#121212"/><stop offset="0.104" stop-color="#080808"/><stop offset="0.146" stop-color="#0c0c0c"/><stop offset="0.188" stop-color="#1d1d1d"/><stop offset="0.229" stop-color="#303030"/><stop offset="0.271" stop-color="#3d3d3d"/><stop offset="0.312" stop-color="#424242"/><stop offset="0.354" stop-color="#434343"/><stop offset="0.396" stop-color="#474747"/><stop offset="0.438" stop-color="#565656"/><stop offset="0.479" stop-color="#767676"/><stop offset="0.521" stop-color="#9f9f9f"/><stop offset="0.562" stop-color="#bebebe"/><stop offset="0.604" stop-color="#cfcfcf"/><stop offset="0.646" stop-color="#d9d9d9"/><stop offset="0.688" stop-color="#e0e0e0"/><stop offset="0.729" stop-color="#e6e6e6"/><stop offset="0.771" stop-color="#ececec"/><stop offset="0.812" stop-color="#eeeeee"/><stop offset="0.854" stop-color="#efefef"/><stop offset="0.896" stop-color="#f1f1f1"/><stop offset="0.938" stop-color="#f4f4f4"/><stop offset="0.979" stop-color="#f7f7f7"/></linearGradient>
<linearGradient id="q39" x1="0" y1="0" x2="0" y2="1"><stop offset="0.021" stop-color="#1e1e1e"/><stop offset="0.062" stop-color="#121212"/><stop offset="0.104" stop-color="#080808"/><stop offset="0.146" stop-color="#0c0c0c"/><stop offset="0.188" stop-color="#1d1d1d"/><stop offset="0.229" stop-color="#313131"/><stop offset="0.271" stop-color="#3e3e3e"/><stop offset="0.312" stop-color="#434343"/><stop offset="0.354" stop-color="#444444"/><stop offset="0.396" stop-color="#484848"/><stop offset="0.438" stop-color="#575757"/><stop offset="0.479" stop-color="#757575"/><stop offset="0.521" stop-color="#9e9e9e"/><stop offset="0.562" stop-color="#bdbdbd"/><stop offset="0.604" stop-color="#cdcdcd"/><stop offset="0.646" stop-color="#d7d7d7"/><stop offset="0.688" stop-color="#dedede"/><stop offset="0.729" stop-color="#e5e5e5"/><stop offset="0.771" stop-color="#eaeaea"/><stop offset="0.812" stop-color="#ececec"/><stop offset="0.854" stop-color="#ebebeb"/><stop offset="0.896" stop-color="#eeeeee"/><stop offset="0.938" stop-color="#f4f4f4"/><stop offset="0.979" stop-color="#f9f9f9"/></linearGradient>
<linearGradient id="q40" x1="0" y1="0" x2="0" y2="1"><stop offset="0.021" stop-color="#242424"/><stop offset="0.062" stop-color="#181818"/><stop offset="0.104" stop-color="#0e0e0e"/><stop offset="0.146" stop-color="#111111"/><stop offset="0.188" stop-color="#222222"/><stop offset="0.229" stop-color="#333333"/><stop offset="0.271" stop-color="#3f3f3f"/><stop offset="0.312" stop-color="#444444"/><stop offset="0.354" stop-color="#434343"/><stop offset="0.396" stop-color="#474747"/><stop offset="0.438" stop-color="#555555"/><stop offset="0.479" stop-color="#737373"/><stop offset="0.521" stop-color="#9a9a9a"/><stop offset="0.562" stop-color="#b8b8b8"/><stop offset="0.604" stop-color="#c9c9c9"/><stop offset="0.646" stop-color="#d3d3d3"/><stop offset="0.688" stop-color="#dbdbdb"/><stop offset="0.729" stop-color="#e2e2e2"/><stop offset="0.771" stop-color="#e6e6e6"/><stop offset="0.812" stop-color="#e7e7e7"/><stop offset="0.854" stop-color="#e5e5e5"/><stop offset="0.896" stop-color="#e7e7e7"/><stop offset="0.938" stop-color="#eeeeee"/><stop offset="0.979" stop-color="#f4f4f4"/></linearGradient>
<linearGradient id="q41" x1="0" y1="0" x2="0" y2="1"><stop offset="0.021" stop-color="#272727"/><stop offset="0.062" stop-color="#1c1c1c"/><stop offset="0.104" stop-color="#131313"/><stop offset="0.146" stop-color="#161616"/><stop offset="0.188" stop-color="#252525"/><stop offset="0.229" stop-color="#353535"/><stop offset="0.271" stop-color="#404040"/><stop offset="0.312" stop-color="#444444"/><stop offset="0.354" stop-color="#444444"/><stop offset="0.396" stop-color="#484848"/><stop offset="0.438" stop-color="#575757"/><stop offset="0.479" stop-color="#747474"/><stop offset="0.521" stop-color="#9b9b9b"/><stop offset="0.562" stop-color="#bababa"/><stop offset="0.604" stop-color="#cccccc"/><stop offset="0.646" stop-color="#d6d6d6"/><stop offset="0.688" stop-color="#dddddd"/><stop offset="0.729" stop-color="#e3e3e3"/><stop offset="0.771" stop-color="#e7e7e7"/><stop offset="0.812" stop-color="#e8e8e8"/><stop offset="0.854" stop-color="#e6e6e6"/><stop offset="0.896" stop-color="#e9e9e9"/><stop offset="0.938" stop-color="#f0f0f0"/><stop offset="0.979" stop-color="#f6f6f6"/></linearGradient>
<linearGradient id="q42" x1="0" y1="0" x2="0" y2="1"><stop offset="0.021" stop-color="#2c2c2c"/><stop offset="0.062" stop-color="#242424"/><stop offset="0.104" stop-color="#1e1e1e"/><stop offset="0.146" stop-color="#222222"/><stop offset="0.188" stop-color="#303030"/><stop offset="0.229" stop-color="#3d3d3d"/><stop offset="0.271" stop-color="#454545"/><stop offset="0.312" stop-color="#474747"/><stop offset="0.354" stop-color="#474747"/><stop offset="0.396" stop-color="#4b4b4b"/><stop offset="0.438" stop-color="#5a5a5a"/><stop offset="0.479" stop-color="#787878"/><stop offset="0.521" stop-color="#9c9c9c"/><stop offset="0.562" stop-color="#b9b9b9"/><stop offset="0.604" stop-color="#c9c9c9"/><stop offset="0.646" stop-color="#d3d3d3"/><stop offset="0.688" stop-color="#dadada"/><stop offset="0.729" stop-color="#e0e0e0"/><stop offset="0.771" stop-color="#e5e5e5"/><stop offset="0.812" stop-color="#e5e5e5"/><stop offset="0.854" stop-color="#e4e4e4"/><stop offset="0.896" stop-color="#e6e6e6"/><stop offset="0.938" stop-color="#ededed"/><stop offset="0.979" stop-color="#f3f3f3"/></linearGradient>
<linearGradient id="q43" x1="0" y1="0" x2="0" y2="1"><stop offset="0.021" stop-color="#303030"/><stop offset="0.062" stop-color="#292929"/><stop offset="0.104" stop-color="#242424"/><stop offset="0.146" stop-color="#282828"/><stop offset="0.188" stop-color="#343434"/><stop offset="0.229" stop-color="#414141"/><stop offset="0.271" stop-color="#494949"/><stop offset="0.312" stop-color="#4b4b4b"/><stop offset="0.354" stop-color="#4a4a4a"/><stop offset="0.396" stop-color="#4d4d4d"/><stop offset="0.438" stop-color="#5b5b5b"/><stop offset="0.479" stop-color="#777777"/><stop offset="0.521" stop-color="#9a9a9a"/><stop offset="0.562" stop-color="#b4b4b4"/><stop offset="0.604" stop-color="#c3c3c3"/><stop offset="0.646" stop-color="#cccccc"/><stop offset="0.688" stop-color="#d4d4d4"/><stop offset="0.729" stop-color="#dadada"/><stop offset="0.771" stop-color="#dfdfdf"/><stop offset="0.812" stop-color="#e1e1e1"/><stop offset="0.854" stop-color="#e0e0e0"/><stop offset="0.896" stop-color="#e1e1e1"/><stop offset="0.938" stop-color="#e7e7e7"/><stop offset="0.979" stop-color="#ececec"/></linearGradient>
<linearGradient id="q44" x1="0" y1="0" x2="0" y2="1"><stop offset="0.021" stop-color="#383838"/><stop offset="0.062" stop-color="#333333"/><stop offset="0.104" stop-color="#2e2e2e"/><stop offset="0.146" stop-color="#313131"/><stop offset="0.188" stop-color="#3b3b3b"/><stop offset="0.229" stop-color="#464646"/><stop offset="0.271" stop-color="#4e4e4e"/><stop offset="0.312" stop-color="#505050"/><stop offset="0.354" stop-color="#4e4e4e"/><stop offset="0.396" stop-color="#505050"/><stop offset="0.438" stop-color="#5d5d5d"/><stop offset="0.479" stop-color="#777777"/><stop offset="0.521" stop-color="#989898"/><stop offset="0.562" stop-color="#b1b1b1"/><stop offset="0.604" stop-color="#bfbfbf"/><stop offset="0.646" stop-color="#c8c8c8"/><stop offset="0.688" stop-color="#cfcfcf"/><stop offset="0.729" stop-color="#d5d5d5"/><stop offset="0.771" stop-color="#d8d8d8"/><stop offset="0.812" stop-color="#d9d9d9"/><stop offset="0.854" stop-color="#d8d8d8"/><stop offset="0.896" stop-color="#dadada"/><stop offset="0.938" stop-color="#dedede"/><stop offset="0.979" stop-color="#e2e2e2"/></linearGradient>
<linearGradient id="q45" x1="0" y1="0" x2="0" y2="1"><stop offset="0.021" stop-color="#3d3d3d"/><stop offset="0.062" stop-color="#393939"/><stop offset="0.104" stop-color="#363636"/><stop offset="0.146" stop-color="#373737"/><stop offset="0.188" stop-color="#3e3e3e"/><stop offset="0.229" stop-color="#474747"/><stop offset="0.271" stop-color="#4f4f4f"/><stop offset="0.312" stop-color="#515151"/><stop offset="0.354" stop-color="#4e4e4e"/><stop offset="0.396" stop-color="#515151"/><stop offset="0.438" stop-color="#5f5f5f"/><stop offset="0.479" stop-color="#797979"/><stop offset="0.521" stop-color="#989898"/><stop offset="0.562" stop-color="#b0b0b0"/><stop offset="0.604" stop-color="#bbbbbb"/><stop offset="0.646" stop-color="#c3c3c3"/><stop offset="0.688" stop-color="#cacaca"/><stop offset="0.729" stop-color="#d0d0d0"/><stop offset="0.771" stop-color="#d5d5d5"/><stop offset="0.812" stop-color="#d6d6d6"/><stop offset="0.854" stop-color="#d5d5d5"/><stop offset="0.896" stop-color="#d6d6d6"/><stop offset="0.938" stop-color="#d8d8d8"/><stop offset="0.979" stop-color="#dadada"/></linearGradient>
<linearGradient id="q46" x1="0" y1="0" x2="0" y2="1"><stop offset="0.021" stop-color="#454545"/><stop offset="0.062" stop-color="#434343"/><stop offset="0.104" stop-color="#424242"/><stop offset="0.146" stop-color="#414141"/><stop offset="0.188" stop-color="#434343"/><stop offset="0.229" stop-color="#494949"/><stop offset="0.271" stop-color="#505050"/><stop offset="0.312" stop-color="#515151"/><stop offset="0.354" stop-color="#4f4f4f"/><stop offset="0.396" stop-color="#525252"/><stop offset="0.438" stop-color="#626262"/><stop offset="0.479" stop-color="#7c7c7c"/><stop offset="0.521" stop-color="#9a9a9a"/><stop offset="0.562" stop-color="#aeaeae"/><stop offset="0.604" stop-color="#b5b5b5"/><stop offset="0.646" stop-color="#bababa"/><stop offset="0.688" stop-color="#c1c1c1"/><stop offset="0.729" stop-color="#c8c8c8"/><stop offset="0.771" stop-color="#cecece"/><stop offset="0.812" stop-color="#d1d1d1"/><stop offset="0.854" stop-color="#d2d2d2"/><stop offset="0.896" stop-color="#d3d3d3"/><stop offset="0.938" stop-color="#d5d5d5"/><stop offset="0.979" stop-color="#d6d6d6"/></linearGradient>
<linearGradient id="q47" x1="0" y1="0" x2="0" y2="1"><stop offset="0.021" stop-color="#4c4c4c"/><stop offset="0.062" stop-color="#4c4c4c"/><stop offset="0.104" stop-color="#4c4c4c"/><stop offset="0.146" stop-color="#494949"/><stop offset="0.188" stop-color="#474747"/><stop offset="0.229" stop-color="#4b4b4b"/><stop offset="0.271" stop-color="#545454"/><stop offset="0.312" stop-color="#565656"/><stop offset="0.354" stop-color="#535353"/><stop offset="0.396" stop-color="#565656"/><stop offset="0.438" stop-color="#646464"/><stop offset="0.479" stop-color="#7d7d7d"/><stop offset="0.521" stop-color="#999999"/><stop offset="0.562" stop-color="#aaaaaa"/><stop offset="0.604" stop-color="#afafaf"/><stop offset="0.646" stop-color="#b3b3b3"/><stop offset="0.688" stop-color="#bababa"/><stop offset="0.729" stop-color="#c1c1c1"/><stop offset="0.771" stop-color="#c7c7c7"/><stop offset="0.812" stop-color="#cbcbcb"/><stop offset="0.854" stop-color="#cdcdcd"/><stop offset="0.896" stop-color="#cecece"/><stop offset="0.938" stop-color="#cdcdcd"/><stop offset="0.979" stop-color="#cccccc"/></linearGradient>
<linearGradient id="q48" x1="0" y1="0" x2="0" y2="1"><stop offset="0.021" stop-color="#4f4f4f"/><stop offset="0.062" stop-color="#525252"/><stop offset="0.104" stop-color="#545454"/><stop offset="0.146" stop-color="#515151"/><stop offset="0.188" stop-color="#4c4c4c"/><stop offset="0.229" stop-color="#4f4f4f"/><stop offset="0.271" stop-color="#585858"/><stop offset="0.312" stop-color="#5b5b5b"/><stop offset="0.354" stop-color="#575757"/><stop offset="0.396" stop-color="#595959"/><stop offset="0.438" stop-color="#666666"/><stop offset="0.479" stop-color="#7e7e7e"/><stop offset="0.521" stop-color="#999999"/><stop offset="0.562" stop-color="#a7a7a7"/><stop offset="0.604" stop-color="#a9a9a9"/><stop offset="0.646" stop-color="#aaaaaa"/><stop offset="0.688" stop-color="#b0b0b0"/><stop offset="0.729" stop-color="#b7b7b7"/><stop offset="0.771" stop-color="#bebebe"/><stop offset="0.812" stop-color="#c3c3c3"/><stop offset="0.854" stop-color="#c6c6c6"/><stop offset="0.896" stop-color="#c7c7c7"/><stop offset="0.938" stop-color="#c5c5c5"/><stop offset="0.979" stop-color="#c3c3c3"/></linearGradient>
<linearGradient id="q49" x1="0" y1="0" x2="0" y2="1"><stop offset="0.021" stop-color="#535353"/><stop offset="0.062" stop-color="#585858"/><stop offset="0.104" stop-color="#5c5c5c"/><stop offset="0.146" stop-color="#595959"/><stop offset="0.188" stop-color="#525252"/><stop offset="0.229" stop-color="#545454"/><stop offset="0.271" stop-color="#5e5e5e"/><stop offset="0.312" stop-color="#616161"/><stop offset="0.354" stop-color="#5c5c5c"/><stop offset="0.396" stop-color="#5d5d5d"/><stop offset="0.438" stop-color="#6a6a6a"/><stop offset="0.479" stop-color="#808080"/><stop offset="0.521" stop-color="#989898"/><stop offset="0.562" stop-color="#a5a5a5"/><stop offset="0.604" stop-color="#a5a5a5"/><stop offset="0.646" stop-color="#a5a5a5"/><stop offset="0.688" stop-color="#aaaaaa"/><stop offset="0.729" stop-color="#b1b1b1"/><stop offset="0.771" stop-color="#b6b6b6"/><stop offset="0.812" stop-color="#bbbbbb"/><stop offset="0.854" stop-color="#bfbfbf"/><stop offset="0.896" stop-color="#bfbfbf"/><stop offset="0.938" stop-color="#bcbcbc"/><stop offset="0.979" stop-color="#b9b9b9"/></linearGradient>
<linearGradient id="q50" x1="0" y1="0" x2="0" y2="1"><stop offset="0.021" stop-color="#565656"/><stop offset="0.062" stop-color="#5c5c5c"/><stop offset="0.104" stop-color="#616161"/><stop offset="0.146" stop-color="#5d5d5d"/><stop offset="0.188" stop-color="#555555"/><stop offset="0.229" stop-color="#565656"/><stop offset="0.271" stop-color="#5f5f5f"/><stop offset="0.312" stop-color="#636363"/><stop offset="0.354" stop-color="#5f5f5f"/><stop offset="0.396" stop-color="#5f5f5f"/><stop offset="0.438" stop-color="#6b6b6b"/><stop offset="0.479" stop-color="#808080"/><stop offset="0.521" stop-color="#969696"/><stop offset="0.562" stop-color="#a2a2a2"/><stop offset="0.604" stop-color="#a3a3a3"/><stop offset="0.646" stop-color="#a3a3a3"/><stop offset="0.688" stop-color="#a7a7a7"/><stop offset="0.729" stop-color="#adadad"/><stop offset="0.771" stop-color="#b2b2b2"/><stop offset="0.812" stop-color="#b7b7b7"/><stop offset="0.854" stop-color="#bbbbbb"/><stop offset="0.896" stop-color="#bbbbbb"/><stop offset="0.938" stop-color="#b8b8b8"/><stop offset="0.979" stop-color="#b4b4b4"/></linearGradient>
<linearGradient id="q51" x1="0" y1="0" x2="0" y2="1"><stop offset="0.021" stop-color="#5b5b5b"/><stop offset="0.062" stop-color="#616161"/><stop offset="0.104" stop-color="#666666"/><stop offset="0.146" stop-color="#626262"/><stop offset="0.188" stop-color="#5a5a5a"/><stop offset="0.229" stop-color="#5b5b5b"/><stop offset="0.271" stop-color="#656565"/><stop offset="0.312" stop-color="#696969"/><stop offset="0.354" stop-color="#656565"/><stop offset="0.396" stop-color="#656565"/><stop offset="0.438" stop-color="#6f6f6f"/><stop offset="0.479" stop-color="#818181"/><stop offset="0.521" stop-color="#949494"/><stop offset="0.562" stop-color="#9f9f9f"/><stop offset="0.604" stop-color="#9f9f9f"/><stop offset="0.646" stop-color="#a0a0a0"/><stop offset="0.688" stop-color="#a5a5a5"/><stop offset="0.729" stop-color="#aaaaaa"/><stop offset="0.771" stop-color="#aeaeae"/><stop offset="0.812" stop-color="#b3b3b3"/><stop offset="0.854" stop-color="#b6b6b6"/><stop offset="0.896" stop-color="#b6b6b6"/><stop offset="0.938" stop-color="#b2b2b2"/><stop offset="0.979" stop-color="#aeaeae"/></linearGradient>
<linearGradient id="q52" x1="0" y1="0" x2="0" y2="1"><stop offset="0.021" stop-color="#5a5a5a"/><stop offset="0.062" stop-color="#616161"/><stop offset="0.104" stop-color="#686868"/><stop offset="0.146" stop-color="#656565"/><stop offset="0.188" stop-color="#5e5e5e"/><stop offset="0.229" stop-color="#606060"/><stop offset="0.271" stop-color="#6b6b6b"/><stop offset="0.312" stop-color="#717171"/><stop offset="0.354" stop-color="#6e6e6e"/><stop offset="0.396" stop-color="#6e6e6e"/><stop offset="0.438" stop-color="#757575"/><stop offset="0.479" stop-color="#838383"/><stop offset="0.521" stop-color="#939393"/><stop offset="0.562" stop-color="#9b9b9b"/><stop offset="0.604" stop-color="#9a9a9a"/><stop offset="0.646" stop-color="#9a9a9a"/><stop offset="0.688" stop-color="#9e9e9e"/><stop offset="0.729" stop-color="#a3a3a3"/><stop offset="0.771" stop-color="#a8a8a8"/><stop offset="0.812" stop-color="#adadad"/><stop offset="0.854" stop-color="#b1b1b1"/><stop offset="0.896" stop-color="#b1b1b1"/><stop offset="0.938" stop-color="#afafaf"/><stop offset="0.979" stop-color="#acacac"/></linearGradient>
<linearGradient id="q53" x1="0" y1="0" x2="0" y2="1"><stop offset="0.021" stop-color="#5d5d5d"/><stop offset="0.062" stop-color="#646464"/><stop offset="0.104" stop-color="#696969"/><stop offset="0.146" stop-color="#676767"/><stop offset="0.188" stop-color="#606060"/><stop offset="0.229" stop-color="#626262"/><stop offset="0.271" stop-color="#6e6e6e"/><stop offset="0.312" stop-color="#757575"/><stop offset="0.354" stop-color="#747474"/><stop offset="0.396" stop-color="#747474"/><stop offset="0.438" stop-color="#797979"/><stop offset="0.479" stop-color="#848484"/><stop offset="0.521" stop-color="#929292"/><stop offset="0.562" stop-color="#9a9a9a"/><stop offset="0.604" stop-color="#9c9c9c"/><stop offset="0.646" stop-color="#9d9d9d"/><stop offset="0.688" stop-color="#a1a1a1"/><stop offset="0.729" stop-color="#a5a5a5"/><stop offset="0.771" stop-color="#a9a9a9"/><stop offset="0.812" stop-color="#adadad"/><stop offset="0.854" stop-color="#b1b1b1"/><stop offset="0.896" stop-color="#b0b0b0"/><stop offset="0.938" stop-color="#adadad"/><stop offset="0.979" stop-color="#a9a9a9"/></linearGradient>
<linearGradient id="q54" x1="0" y1="0" x2="0" y2="1"><stop offset="0.021" stop-color="#626262"/><stop offset="0.062" stop-color="#686868"/><stop offset="0.104" stop-color="#6c6c6c"/><stop offset="0.146" stop-color="#696969"/><stop offset="0.188" stop-color="#616161"/><stop offset="0.229" stop-color="#646464"/><stop offset="0.271" stop-color="#707070"/><stop offset="0.312" stop-color="#787878"/><stop offset="0.354" stop-color="#787878"/><stop offset="0.396" stop-color="#777777"/><stop offset="0.438" stop-color="#797979"/><stop offset="0.479" stop-color="#828282"/><stop offset="0.521" stop-color="#8f8f8f"/><stop offset="0.562" stop-color="#989898"/><stop offset="0.604" stop-color="#9a9a9a"/><stop offset="0.646" stop-color="#9d9d9d"/><stop offset="0.688" stop-color="#a0a0a0"/><stop offset="0.729" stop-color="#a4a4a4"/><stop offset="0.771" stop-color="#a8a8a8"/><stop offset="0.812" stop-color="#acacac"/><stop offset="0.854" stop-color="#afafaf"/><stop offset="0.896" stop-color="#afafaf"/><stop offset="0.938" stop-color="#ababab"/><stop offset="0.979" stop-color="#a7a7a7"/></linearGradient>
<linearGradient id="q55" x1="0" y1="0" x2="0" y2="1"><stop offset="0.021" stop-color="#636363"/><stop offset="0.062" stop-color="#6a6a6a"/><stop offset="0.104" stop-color="#6f6f6f"/><stop offset="0.146" stop-color="#6d6d6d"/><stop offset="0.188" stop-color="#676767"/><stop offset="0.229" stop-color="#6a6a6a"/><stop offset="0.271" stop-color="#777777"/><stop offset="0.312" stop-color="#818181"/><stop offset="0.354" stop-color="#838383"/><stop offset="0.396" stop-color="#818181"/><stop offset="0.438" stop-color="#818181"/><stop offset="0.479" stop-color="#878787"/><stop offset="0.521" stop-color="#919191"/><stop offset="0.562" stop-color="#989898"/><stop offset="0.604" stop-color="#9a9a9a"/><stop offset="0.646" stop-color="#9c9c9c"/><stop offset="0.688" stop-color="#9f9f9f"/><stop offset="0.729" stop-color="#a3a3a3"/><stop offset="0.771" stop-color="#a6a6a6"/><stop offset="0.812" stop-color="#aaaaaa"/><stop offset="0.854" stop-color="#adadad"/><stop offset="0.896" stop-color="#acacac"/><stop offset="0.938" stop-color="#a9a9a9"/><stop offset="0.979" stop-color="#a6a6a6"/></linearGradient>
<linearGradient id="q56" x1="0" y1="0" x2="0" y2="1"><stop offset="0.021" stop-color="#656565"/><stop offset="0.062" stop-color="#6c6c6c"/><stop offset="0.104" stop-color="#727272"/><stop offset="0.146" stop-color="#707070"/><stop offset="0.188" stop-color="#686868"/><stop offset="0.229" stop-color="#696969"/><stop offset="0.271" stop-color="#757575"/><stop offset="0.312" stop-color="#7f7f7f"/><stop offset="0.354" stop-color="#828282"/><stop offset="0.396" stop-color="#818181"/><stop offset="0.438" stop-color="#818181"/><stop offset="0.479" stop-color="#888888"/><stop offset="0.521" stop-color="#939393"/><stop offset="0.562" stop-color="#9a9a9a"/><stop offset="0.604" stop-color="#9b9b9b"/><stop offset="0.646" stop-color="#9b9b9b"/><stop offset="0.688" stop-color="#9d9d9d"/><stop offset="0.729" stop-color="#9e9e9e"/><stop offset="0.771" stop-color="#a1a1a1"/><stop offset="0.812" stop-color="#a5a5a5"/><stop offset="0.854" stop-color="#aaaaaa"/><stop offset="0.896" stop-color="#acacac"/><stop offset="0.938" stop-color="#ababab"/><stop offset="0.979" stop-color="#a8a8a8"/></linearGradient>
<linearGradient id="q57" x1="0" y1="0" x2="0" y2="1"><stop offset="0.021" stop-color="#696969"/><stop offset="0.062" stop-color="#717171"/><stop offset="0.104" stop-color="#777777"/><stop offset="0.146" stop-color="#727272"/><stop offset="0.188" stop-color="#686868"/><stop offset="0.229" stop-color="#676767"/><stop offset="0.271" stop-color="#737373"/><stop offset="0.312" stop-color="#7f7f7f"/><stop offset="0.354" stop-color="#838383"/><stop offset="0.396" stop-color="#838383"/><stop offset="0.438" stop-color="#828282"/><stop offset="0.479" stop-color="#878787"/><stop offset="0.521" stop-color="#929292"/><stop offset="0.562" stop-color="#989898"/><stop offset="0.604" stop-color="#999999"/><stop offset="0.646" stop-color="#999999"/><stop offset="0.688" stop-color="#9b9b9b"/><stop offset="0.729" stop-color="#9d9d9d"/><stop offset="0.771" stop-color="#9f9f9f"/><stop offset="0.812" stop-color="#a3a3a3"/><stop offset="0.854" stop-color="#a8a8a8"/><stop offset="0.896" stop-color="#aaaaaa"/><stop offset="0.938" stop-color="#a8a8a8"/><stop offset="0.979" stop-color="#a5a5a5"/></linearGradient>
<linearGradient id="q58" x1="0" y1="0" x2="0" y2="1"><stop offset="0.021" stop-color="#686868"/><stop offset="0.062" stop-color="#717171"/><stop offset="0.104" stop-color="#777777"/><stop offset="0.146" stop-color="#717171"/><stop offset="0.188" stop-color="#646464"/><stop offset="0.229" stop-color="#636363"/><stop offset="0.271" stop-color="#707070"/><stop offset="0.312" stop-color="#7d7d7d"/><stop offset="0.354" stop-color="#848484"/><stop offset="0.396" stop-color="#858585"/><stop offset="0.438" stop-color="#828282"/><stop offset="0.479" stop-color="#868686"/><stop offset="0.521" stop-color="#8f8f8f"/><stop offset="0.562" stop-color="#969696"/><stop offset="0.604" stop-color="#969696"/><stop offset="0.646" stop-color="#979797"/><stop offset="0.688" stop-color="#9a9a9a"/><stop offset="0.729" stop-color="#9d9d9d"/><stop offset="0.771" stop-color="#9f9f9f"/><stop offset="0.812" stop-color="#a2a2a2"/><stop offset="0.854" stop-color="#a5a5a5"/><stop offset="0.896" stop-color="#a5a5a5"/><stop offset="0.938" stop-color="#a1a1a1"/><stop offset="0.979" stop-color="#9d9d9d"/></linearGradient>
<linearGradient id="q59" x1="0" y1="0" x2="0" y2="1"><stop offset="0.021" stop-color="#676767"/><stop offset="0.062" stop-color="#717171"/><stop offset="0.104" stop-color="#787878"/><stop offset="0.146" stop-color="#717171"/><stop offset="0.188" stop-color="#636363"/><stop offset="0.229" stop-color="#606060"/><stop offset="0.271" stop-color="#6e6e6e"/><stop offset="0.312" stop-color="#7e7e7e"/><stop offset="0.354" stop-color="#868686"/><stop offset="0.396" stop-color="#868686"/><stop offset="0.438" stop-color="#828282"/><stop offset="0.479" stop-color="#858585"/><stop offset="0.521" stop-color="#8f8f8f"/><stop offset="0.562" stop-color="#959595"/><stop offset="0.604" stop-color="#959595"/><stop offset="0.646" stop-color="#969696"/><stop offset="0.688" stop-color="#999999"/><stop offset="0.729" stop-color="#9c9c9c"/><stop offset="0.771" stop-color="#9e9e9e"/><stop offset="0.812" stop-color="#a1a1a1"/><stop offset="0.854" stop-color="#a4a4a4"/><stop offset="0.896" stop-color="#a2a2a2"/><stop offset="0.938" stop-color="#9d9d9d"/><stop offset="0.979" stop-color="#989898"/></linearGradient>
<linearGradient id="q60" x1="0" y1="0" x2="0" y2="1"><stop offset="0.021" stop-color="#696969"/><stop offset="0.062" stop-color="#737373"/><stop offset="0.104" stop-color="#7a7a7a"/><stop offset="0.146" stop-color="#727272"/><stop offset="0.188" stop-color="#616161"/><stop offset="0.229" stop-color="#5f5f5f"/><stop offset="0.271" stop-color="#6e6e6e"/><stop offset="0.312" stop-color="#808080"/><stop offset="0.354" stop-color="#8a8a8a"/><stop offset="0.396" stop-color="#8a8a8a"/><stop offset="0.438" stop-color="#868686"/><stop offset="0.479" stop-color="#888888"/><stop offset="0.521" stop-color="#929292"/><stop offset="0.562" stop-color="#979797"/><stop offset="0.604" stop-color="#969696"/><stop offset="0.646" stop-color="#969696"/><stop offset="0.688" stop-color="#999999"/><stop offset="0.729" stop-color="#9b9b9b"/><stop offset="0.771" stop-color="#9d9d9d"/><stop offset="0.812" stop-color="#9f9f9f"/><stop offset="0.854" stop-color="#a2a2a2"/><stop offset="0.896" stop-color="#a1a1a1"/><stop offset="0.938" stop-color="#9c9c9c"/><stop offset="0.979" stop-color="#979797"/></linearGradient>
<linearGradient id="q61" x1="0" y1="0" x2="0" y2="1"><stop offset="0.021" stop-color="#686868"/><stop offset="0.062" stop-color="#737373"/><stop offset="0.104" stop-color="#7a7a7a"/><stop offset="0.146" stop-color="#717171"/><stop offset="0.188" stop-color="#606060"/><stop offset="0.229" stop-color="#5e5e5e"/><stop offset="0.271" stop-color="#6e6e6e"/><stop offset="0.312" stop-color="#808080"/><stop offset="0.354" stop-color="#8b8b8b"/><stop offset="0.396" stop-color="#8b8b8b"/><stop offset="0.438" stop-color="#868686"/><stop offset="0.479" stop-color="#888888"/><stop offset="0.521" stop-color="#929292"/><stop offset="0.562" stop-color="#979797"/><stop offset="0.604" stop-color="#959595"/><stop offset="0.646" stop-color="#959595"/><stop offset="0.688" stop-color="#999999"/><stop offset="0.729" stop-color="#9c9c9c"/><stop offset="0.771" stop-color="#9e9e9e"/><stop offset="0.812" stop-color="#a1a1a1"/><stop offset="0.854" stop-color="#a4a4a4"/><stop offset="0.896" stop-color="#a3a3a3"/><stop offset="0.938" stop-color="#9d9d9d"/><stop offset="0.979" stop-color="#989898"/></linearGradient>
<linearGradient id="q62" x1="0" y1="0" x2="0" y2="1"><stop offset="0.021" stop-color="#6c6c6c"/><stop offset="0.062" stop-color="#767676"/><stop offset="0.104" stop-color="#7b7b7b"/><stop offset="0.146" stop-color="#717171"/><stop offset="0.188" stop-color="#5e5e5e"/><stop offset="0.229" stop-color="#5b5b5b"/><stop offset="0.271" stop-color="#6a6a6a"/><stop offset="0.312" stop-color="#7d7d7d"/><stop offset="0.354" stop-color="#898989"/><stop offset="0.396" stop-color="#8a8a8a"/><stop offset="0.438" stop-color="#868686"/><stop offset="0.479" stop-color="#888888"/><stop offset="0.521" stop-color="#939393"/><stop offset="0.562" stop-color="#999999"/><stop offset="0.604" stop-color="#979797"/><stop offset="0.646" stop-color="#969696"/><stop offset="0.688" stop-color="#9a9a9a"/><stop offset="0.729" stop-color="#9e9e9e"/><stop offset="0.771" stop-color="#a1a1a1"/><stop offset="0.812" stop-color="#a4a4a4"/><stop offset="0.854" stop-color="#a6a6a6"/><stop offset="0.896" stop-color="#a5a5a5"/><stop offset="0.938" stop-color="#9f9f9f"/><stop offset="0.979" stop-color="#9a9a9a"/></linearGradient>
<linearGradient id="q63" x1="0" y1="0" x2="0" y2="1"><stop offset="0.021" stop-color="#6d6d6d"/><stop offset="0.062" stop-color="#767676"/><stop offset="0.104" stop-color="#7a7a7a"/><stop offset="0.146" stop-color="#707070"/><stop offset="0.188" stop-color="#5d5d5d"/><stop offset="0.229" stop-color="#595959"/><stop offset="0.271" stop-color="#686868"/><stop offset="0.312" stop-color="#7b7b7b"/><stop offset="0.354" stop-color="#868686"/><stop offset="0.396" stop-color="#868686"/><stop offset="0.438" stop-color="#808080"/><stop offset="0.479" stop-color="#838383"/><stop offset="0.521" stop-color="#8e8e8e"/><stop offset="0.562" stop-color="#959595"/><stop offset="0.604" stop-color="#949494"/><stop offset="0.646" stop-color="#949494"/><stop offset="0.688" stop-color="#999999"/><stop offset="0.729" stop-color="#9d9d9d"/><stop offset="0.771" stop-color="#a1a1a1"/><stop offset="0.812" stop-color="#a5a5a5"/><stop offset="0.854" stop-color="#a9a9a9"/><stop offset="0.896" stop-color="#a8a8a8"/><stop offset="0.938" stop-color="#a3a3a3"/><stop offset="0.979" stop-color="#9e9e9e"/></linearGradient>
<linearGradient id="q64" x1="0" y1="0" x2="0" y2="1"><stop offset="0.021" stop-color="#727272"/><stop offset="0.062" stop-color="#797979"/><stop offset="0.104" stop-color="#7c7c7c"/><stop offset="0.146" stop-color="#707070"/><stop offset="0.188" stop-color="#5e5e5e"/><stop offset="0.229" stop-color="#5a5a5a"/><stop offset="0.271" stop-color="#696969"/><stop offset="0.312" stop-color="#7a7a7a"/><stop offset="0.354" stop-color="#848484"/><stop offset="0.396" stop-color="#848484"/><stop offset="0.438" stop-color="#808080"/><stop offset="0.479" stop-color="#838383"/><stop offset="0.521" stop-color="#8f8f8f"/><stop offset="0.562" stop-color="#959595"/><stop offset="0.604" stop-color="#949494"/><stop offset="0.646" stop-color="#939393"/><stop offset="0.688" stop-color="#979797"/><stop offset="0.729" stop-color="#9c9c9c"/><stop offset="0.771" stop-color="#9f9f9f"/><stop offset="0.812" stop-color="#a3a3a3"/><stop offset="0.854" stop-color="#a6a6a6"/><stop offset="0.896" stop-color="#a4a4a4"/><stop offset="0.938" stop-color="#9f9f9f"/><stop offset="0.979" stop-color="#9a9a9a"/></linearGradient>
<linearGradient id="q65" x1="0" y1="0" x2="0" y2="1"><stop offset="0.021" stop-color="#737373"/><stop offset="0.062" stop-color="#797979"/><stop offset="0.104" stop-color="#7c7c7c"/><stop offset="0.146" stop-color="#727272"/><stop offset="0.188" stop-color="#616161"/><stop offset="0.229" stop-color="#5e5e5e"/><stop offset="0.271" stop-color="#6c6c6c"/><stop offset="0.312" stop-color="#7c7c7c"/><stop offset="0.354" stop-color="#858585"/><stop offset="0.396" stop-color="#858585"/><stop offset="0.438" stop-color="#828282"/><stop offset="0.479" stop-color="#878787"/><stop offset="0.521" stop-color="#939393"/><stop offset="0.562" stop-color="#999999"/><stop offset="0.604" stop-color="#979797"/><stop offset="0.646" stop-color="#969696"/><stop offset="0.688" stop-color="#989898"/><stop offset="0.729" stop-color="#9c9c9c"/><stop offset="0.771" stop-color="#9e9e9e"/><stop offset="0.812" stop-color="#a1a1a1"/><stop offset="0.854" stop-color="#a1a1a1"/><stop offset="0.896" stop-color="#9e9e9e"/><stop offset="0.938" stop-color="#979797"/><stop offset="0.979" stop-color="#919191"/></linearGradient>
<linearGradient id="q66" x1="0" y1="0" x2="0" y2="1"><stop offset="0.021" stop-color="#737373"/><stop offset="0.062" stop-color="#797979"/><stop offset="0.104" stop-color="#7b7b7b"/><stop offset="0.146" stop-color="#717171"/><stop offset="0.188" stop-color="#626262"/><stop offset="0.229" stop-color="#606060"/><stop offset="0.271" stop-color="#6e6e6e"/><stop offset="0.312" stop-color="#7e7e7e"/><stop offset="0.354" stop-color="#868686"/><stop offset="0.396" stop-color="#858585"/><stop offset="0.438" stop-color="#818181"/><stop offset="0.479" stop-color="#858585"/><stop offset="0.521" stop-color="#909090"/><stop offset="0.562" stop-color="#969696"/><stop offset="0.604" stop-color="#949494"/><stop offset="0.646" stop-color="#949494"/><stop offset="0.688" stop-color="#979797"/><stop offset="0.729" stop-color="#9b9b9b"/><stop offset="0.771" stop-color="#9d9d9d"/><stop offset="0.812" stop-color="#9e9e9e"/><stop offset="0.854" stop-color="#9f9f9f"/><stop offset="0.896" stop-color="#9b9b9b"/><stop offset="0.938" stop-color="#959595"/><stop offset="0.979" stop-color="#909090"/></linearGradient>
<linearGradient id="q67" x1="0" y1="0" x2="0" y2="1"><stop offset="0.021" stop-color="#767676"/><stop offset="0.062" stop-color="#7b7b7b"/><stop offset="0.104" stop-color="#7c7c7c"/><stop offset="0.146" stop-color="#747474"/><stop offset="0.188" stop-color="#666666"/><stop offset="0.229" stop-color="#666666"/><stop offset="0.271" stop-color="#747474"/><stop offset="0.312" stop-color="#828282"/><stop offset="0.354" stop-color="#888888"/><stop offset="0.396" stop-color="#868686"/><stop offset="0.438" stop-color="#828282"/><stop offset="0.479" stop-color="#858585"/><stop offset="0.521" stop-color="#8f8f8f"/><stop offset="0.562" stop-color="#959595"/><stop offset="0.604" stop-color="#939393"/><stop offset="0.646" stop-color="#929292"/><stop offset="0.688" stop-color="#949494"/><stop offset="0.729" stop-color="#979797"/><stop offset="0.771" stop-color="#9a9a9a"/><stop offset="0.812" stop-color="#9c9c9c"/><stop offset="0.854" stop-color="#9d9d9d"/><stop offset="0.896" stop-color="#9c9c9c"/><stop offset="0.938" stop-color="#989898"/><stop offset="0.979" stop-color="#959595"/></linearGradient>
<linearGradient id="q68" x1="0" y1="0" x2="0" y2="1"><stop offset="0.021" stop-color="#7b7b7b"/><stop offset="0.062" stop-color="#7e7e7e"/><stop offset="0.104" stop-color="#7e7e7e"/><stop offset="0.146" stop-color="#747474"/><stop offset="0.188" stop-color="#666666"/><stop offset="0.229" stop-color="#656565"/><stop offset="0.271" stop-color="#737373"/><stop offset="0.312" stop-color="#818181"/><stop offset="0.354" stop-color="#878787"/><stop offset="0.396" stop-color="#868686"/><stop offset="0.438" stop-color="#828282"/><stop offset="0.479" stop-color="#868686"/><stop offset="0.521" stop-color="#919191"/><stop offset="0.562" stop-color="#979797"/><stop offset="0.604" stop-color="#969696"/><stop offset="0.646" stop-color="#969696"/><stop offset="0.688" stop-color="#999999"/><stop offset="0.729" stop-color="#9d9d9d"/><stop offset="0.771" stop-color="#9f9f9f"/><stop offset="0.812" stop-color="#a1a1a1"/><stop offset="0.854" stop-color="#a1a1a1"/><stop offset="0.896" stop-color="#9e9e9e"/><stop offset="0.938" stop-color="#989898"/><stop offset="0.979" stop-color="#949494"/></linearGradient>
<linearGradient id="q69" x1="0" y1="0" x2="0" y2="1"><stop offset="0.021" stop-color="#7b7b7b"/><stop offset="0.062" stop-color="#7e7e7e"/><stop offset="0.104" stop-color="#7d7d7d"/><stop offset="0.146" stop-color="#737373"/><stop offset="0.188" stop-color="#656565"/><stop offset="0.229" stop-color="#656565"/><stop offset="0.271" stop-color="#727272"/><stop offset="0.312" stop-color="#7e7e7e"/><stop offset="0.354" stop-color="#838383"/><stop offset="0.396" stop-color="#828282"/><stop offset="0.438" stop-color="#7f7f7f"/><stop offset="0.479" stop-color="#848484"/><stop offset="0.521" stop-color="#919191"/><stop offset="0.562" stop-color="#999999"/><stop offset="0.604" stop-color="#999999"/><stop offset="0.646" stop-color="#999999"/><stop offset="0.688" stop-color="#9c9c9c"/><stop offset="0.729" stop-color="#9f9f9f"/><stop offset="0.771" stop-color="#a2a2a2"/><stop offset="0.812" stop-color="#a3a3a3"/><stop offset="0.854" stop-color="#a3a3a3"/><stop offset="0.896" stop-color="#a0a0a0"/><stop offset="0.938" stop-color="#9c9c9c"/><stop offset="0.979" stop-color="#989898"/></linearGradient>
<filter id="tex1" x="388.1" y="354.40" width="209.70" height="209.70" filterUnits="userSpaceOnUse" color-interpolation-filters="sRGB"><feTurbulence type="fractalNoise" baseFrequency="0.28 0.018" numOctaves="2" seed="8"/><feColorMatrix type="matrix" values="0.22 0 0 0 0.390  0.22 0 0 0 0.390  0.22 0 0 0 0.390  0 0 0 0 1"/></filter>
<linearGradient id="cbg1" x1="0" y1="0" x2="0" y2="1"><stop offset="0" stop-color="#fff"/><stop offset="0.5" stop-color="#808080"/><stop offset="1" stop-color="#000"/></linearGradient>
<linearGradient id="r0" x1="0" y1="0" x2="0" y2="1"><stop offset="0.021" stop-color="#747474"/><stop offset="0.062" stop-color="#737373"/><stop offset="0.104" stop-color="#737373"/><stop offset="0.146" stop-color="#797979"/><stop offset="0.188" stop-color="#7f7f7f"/><stop offset="0.229" stop-color="#7d7d7d"/><stop offset="0.271" stop-color="#757575"/><stop offset="0.312" stop-color="#777777"/><stop offset="0.354" stop-color="#818181"/><stop offset="0.396" stop-color="#868686"/><stop offset="0.438" stop-color="#838383"/><stop offset="0.479" stop-color="#808080"/><stop offset="0.521" stop-color="#828282"/><stop offset="0.562" stop-color="#8a8a8a"/><stop offset="0.604" stop-color="#979797"/><stop offset="0.646" stop-color="#a9a9a9"/><stop offset="0.688" stop-color="#b6b6b6"/><stop offset="0.729" stop-color="#aeaeae"/><stop offset="0.771" stop-color="#969696"/><stop offset="0.812" stop-color="#828282"/><stop offset="0.854" stop-color="#7b7b7b"/><stop offset="0.896" stop-color="#7b7b7b"/><stop offset="0.938" stop-color="#7e7e7e"/><stop offset="0.979" stop-color="#808080"/></linearGradient>
<linearGradient id="r1" x1="0" y1="0" x2="0" y2="1"><stop offset="0.021" stop-color="#777777"/><stop offset="0.062" stop-color="#767676"/><stop offset="0.104" stop-color="#767676"/><stop offset="0.146" stop-color="#7c7c7c"/><stop offset="0.188" stop-color="#828282"/><stop offset="0.229" stop-color="#7f7f7f"/><stop offset="0.271" stop-color="#767676"/><stop offset="0.312" stop-color="#767676"/><stop offset="0.354" stop-color="#7e7e7e"/><stop offset="0.396" stop-color="#828282"/><stop offset="0.438" stop-color="#7e7e7e"/><stop offset="0.479" stop-color="#7b7b7b"/><stop offset="0.521" stop-color="#7d7d7d"/><stop offset="0.562" stop-color="#858585"/><stop offset="0.604" stop-color="#929292"/><stop offset="0.646" stop-color="#a3a3a3"/><stop offset="0.688" stop-color="#afafaf"/><stop offset="0.729" stop-color="#a9a9a9"/><stop offset="0.771" stop-color="#929292"/><stop offset="0.812" stop-color="#7f7f7f"/><stop offset="0.854" stop-color="#787878"/><stop offset="0.896" stop-color="#787878"/><stop offset="0.938" stop-color="#7a7a7a"/><stop offset="0.979" stop-color="#7d7d7d"/></linearGradient>
<linearGradient id="r2" x1="0" y1="0" x2="0" y2="1"><stop offset="0.021" stop-color="#737373"/><stop offset="0.062" stop-color="#717171"/><stop offset="0.104" stop-color="#727272"/><stop offset="0.146" stop-color="#787878"/><stop offset="0.188" stop-color="#7f7f7f"/><stop offset="0.229" stop-color="#7d7d7d"/><stop offset="0.271" stop-color="#767676"/><stop offset="0.312" stop-color="#767676"/><stop offset="0.354" stop-color="#7f7f7f"/><stop offset="0.396" stop-color="#848484"/><stop offset="0.438" stop-color="#828282"/><stop offset="0.479" stop-color="#7f7f7f"/><stop offset="0.521" stop-color="#808080"/><stop offset="0.562" stop-color="#868686"/><stop offset="0.604" stop-color="#919191"/><stop offset="0.646" stop-color="#a0a0a0"/><stop offset="0.688" stop-color="#aaaaaa"/><stop offset="0.729" stop-color="#a3a3a3"/><stop offset="0.771" stop-color="#8e8e8e"/><stop offset="0.812" stop-color="#7c7c7c"/><stop offset="0.854" stop-color="#767676"/><stop offset="0.896" stop-color="#787878"/><stop offset="0.938" stop-color="#7d7d7d"/><stop offset="0.979" stop-color="#818181"/></linearGradient>
<linearGradient id="r3" x1="0" y1="0" x2="0" y2="1"><stop offset="0.021" stop-color="#787878"/><stop offset="0.062" stop-color="#757575"/><stop offset="0.104" stop-color="#747474"/><stop offset="0.146" stop-color="#797979"/><stop offset="0.188" stop-color="#7e7e7e"/><stop offset="0.229" stop-color="#7d7d7d"/><stop offset="0.271" stop-color="#777777"/><stop offset="0.312" stop-color="#787878"/><stop offset="0.354" stop-color="#828282"/><stop offset="0.396" stop-color="#878787"/><stop offset="0.438" stop-color="#858585"/><stop offset="0.479" stop-color="#818181"/><stop offset="0.521" stop-color="#818181"/><stop offset="0.562" stop-color="#878787"/><stop offset="0.604" stop-color="#909090"/><stop offset="0.646" stop-color="#9c9c9c"/><stop offset="0.688" stop-color="#a4a4a4"/><stop offset="0.729" stop-color="#9d9d9d"/><stop offset="0.771" stop-color="#8b8b8b"/><stop offset="0.812" stop-color="#7d7d7d"/><stop offset="0.854" stop-color="#797979"/><stop offset="0.896" stop-color="#7c7c7c"/><stop offset="0.938" stop-color="#828282"/><stop offset="0.979" stop-color="#878787"/></linearGradient>
<linearGradient id="r4" x1="0" y1="0" x2="0" y2="1"><stop offset="0.021" stop-color="#7e7e7e"/><stop offset="0.062" stop-color="#7a7a7a"/><stop offset="0.104" stop-color="#787878"/><stop offset="0.146" stop-color="#7b7b7b"/><stop offset="0.188" stop-color="#7f7f7f"/><stop offset="0.229" stop-color="#7e7e7e"/><stop offset="0.271" stop-color="#7a7a7a"/><stop offset="0.312" stop-color="#7d7d7d"/><stop offset="0.354" stop-color="#898989"/><stop offset="0.396" stop-color="#8f8f8f"/><stop offset="0.438" stop-color="#8d8d8d"/><stop offset="0.479" stop-color="#888888"/><stop offset="0.521" stop-color="#868686"/><stop offset="0.562" stop-color="#888888"/><stop offset="0.604" stop-color="#8f8f8f"/><stop offset="0.646" stop-color="#969696"/><stop offset="0.688" stop-color="#9a9a9a"/><stop offset="0.729" stop-color="#949494"/><stop offset="0.771" stop-color="#858585"/><stop offset="0.812" stop-color="#7b7b7b"/><stop offset="0.854" stop-color="#797979"/><stop offset="0.896" stop-color="#7d7d7d"/><stop offset="0.938" stop-color="#858585"/><stop offset="0.979" stop-color="#8b8b8b"/></linearGradient>
<linearGradient id="r5" x1="0" y1="0" x2="0" y2="1"><stop offset="0.021" stop-color="#828282"/><stop offset="0.062" stop-color="#7f7f7f"/><stop offset="0.104" stop-color="#7c7c7c"/><stop offset="0.146" stop-color="#7d7d7d"/><stop offset="0.188" stop-color="#818181"/><stop offset="0.229" stop-color="#818181"/><stop offset="0.271" stop-color="#7e7e7e"/><stop offset="0.312" stop-color="#848484"/><stop offset="0.354" stop-color="#919191"/><stop offset="0.396" stop-color="#979797"/><stop offset="0.438" stop-color="#949494"/><stop offset="0.479" stop-color="#8d8d8d"/><stop offset="0.521" stop-color="#888888"/><stop offset="0.562" stop-color="#888888"/><stop offset="0.604" stop-color="#8d8d8d"/><stop offset="0.646" stop-color="#939393"/><stop offset="0.688" stop-color="#959595"/><stop offset="0.729" stop-color="#909090"/><stop offset="0.771" stop-color="#838383"/><stop offset="0.812" stop-color="#797979"/><stop offset="0.854" stop-color="#767676"/><stop offset="0.896" stop-color="#7a7a7a"/><stop offset="0.938" stop-color="#838383"/><stop offset="0.979" stop-color="#8a8a8a"/></linearGradient>
<linearGradient id="r6" x1="0" y1="0" x2="0" y2="1"><stop offset="0.021" stop-color="#858585"/><stop offset="0.062" stop-color="#818181"/><stop offset="0.104" stop-color="#7c7c7c"/><stop offset="0.146" stop-color="#7c7c7c"/><stop offset="0.188" stop-color="#7e7e7e"/><stop offset="0.229" stop-color="#7d7d7d"/><stop offset="0.271" stop-color="#7c7c7c"/><stop offset="0.312" stop-color="#838383"/><stop offset="0.354" stop-color="#909090"/><stop offset="0.396" stop-color="#979797"/><stop offset="0.438" stop-color="#949494"/><stop offset="0.479" stop-color="#8c8c8c"/><stop offset="0.521" stop-color="#868686"/><stop offset="0.562" stop-color="#848484"/><stop offset="0.604" stop-color="#888888"/><stop offset="0.646" stop-color="#8c8c8c"/><stop offset="0.688" stop-color="#8d8d8d"/><stop offset="0.729" stop-color="#898989"/><stop offset="0.771" stop-color="#7f7f7f"/><stop offset="0.812" stop-color="#777777"/><stop offset="0.854" stop-color="#747474"/><stop offset="0.896" stop-color="#787878"/><stop offset="0.938" stop-color="#818181"/><stop offset="0.979" stop-color="#898989"/></linearGradient>
<linearGradient id="r7" x1="0" y1="0" x2="0" y2="1"><stop offset="0.021" stop-color="#868686"/><stop offset="0.062" stop-color="#828282"/><stop offset="0.104" stop-color="#7d7d7d"/><stop offset="0.146" stop-color="#7c7c7c"/><stop offset="0.188" stop-color="#7e7e7e"/><stop offset="0.229" stop-color="#7e7e7e"/><stop offset="0.271" stop-color="#7e7e7e"/><stop offset="0.312" stop-color="#868686"/><stop offset="0.354" stop-color="#939393"/><stop offset="0.396" stop-color="#9a9a9a"/><stop offset="0.438" stop-color="#979797"/><stop offset="0.479" stop-color="#8e8e8e"/><stop offset="0.521" stop-color="#858585"/><stop offset="0.562" stop-color="#818181"/><stop offset="0.604" stop-color="#838383"/><stop offset="0.646" stop-color="#858585"/><stop offset="0.688" stop-color="#848484"/><stop offset="0.729" stop-color="#808080"/><stop offset="0.771" stop-color="#797979"/><stop offset="0.812" stop-color="#737373"/><stop offset="0.854" stop-color="#707070"/><stop offset="0.896" stop-color="#767676"/><stop offset="0.938" stop-color="#818181"/><stop offset="0.979" stop-color="#8b8b8b"/></linearGradient>
<linearGradient id="r8" x1="0" y1="0" x2="0" y2="1"><stop offset="0.021" stop-color="#898989"/><stop offset="0.062" stop-color="#858585"/><stop offset="0.104" stop-color="#808080"/><stop offset="0.146" stop-color="#7e7e7e"/><stop offset="0.188" stop-color="#7f7f7f"/><stop offset="0.229" stop-color="#808080"/><stop offset="0.271" stop-color="#818181"/><stop offset="0.312" stop-color="#8a8a8a"/><stop offset="0.354" stop-color="#979797"/><stop offset="0.396" stop-color="#9d9d9d"/><stop offset="0.438" stop-color="#9a9a9a"/><stop offset="0.479" stop-color="#919191"/><stop offset="0.521" stop-color="#888888"/><stop offset="0.562" stop-color="#848484"/><stop offset="0.604" stop-color="#878787"/><stop offset="0.646" stop-color="#888888"/><stop offset="0.688" stop-color="#858585"/><stop offset="0.729" stop-color="#7f7f7f"/><stop offset="0.771" stop-color="#787878"/><stop offset="0.812" stop-color="#727272"/><stop offset="0.854" stop-color="#6f6f6f"/><stop offset="0.896" stop-color="#737373"/><stop offset="0.938" stop-color="#7f7f7f"/><stop offset="0.979" stop-color="#898989"/></linearGradient>
<linearGradient id="r9" x1="0" y1="0" x2="0" y2="1"><stop offset="0.021" stop-color="#898989"/><stop offset="0.062" stop-color="#848484"/><stop offset="0.104" stop-color="#7f7f7f"/><stop offset="0.146" stop-color="#7c7c7c"/><stop offset="0.188" stop-color="#7d7d7d"/><stop offset="0.229" stop-color="#7e7e7e"/><stop offset="0.271" stop-color="#828282"/><stop offset="0.312" stop-color="#8d8d8d"/><stop offset="0.354" stop-color="#9b9b9b"/><stop offset="0.396" stop-color="#a2a2a2"/><stop offset="0.438" stop-color="#9e9e9e"/><stop offset="0.479" stop-color="#949494"/><stop offset="0.521" stop-color="#898989"/><stop offset="0.562" stop-color="#848484"/><stop offset="0.604" stop-color="#858585"/><stop offset="0.646" stop-color="#838383"/><stop offset="0.688" stop-color="#7e7e7e"/><stop offset="0.729" stop-color="#787878"/><stop offset="0.771" stop-color="#737373"/><stop offset="0.812" stop-color="#6d6d6d"/><stop offset="0.854" stop-color="#6a6a6a"/><stop offset="0.896" stop-color="#6f6f6f"/><stop offset="0.938" stop-color="#7b7b7b"/><stop offset="0.979" stop-color="#858585"/></linearGradient>
<linearGradient id="r10" x1="0" y1="0" x2="0" y2="1"><stop offset="0.021" stop-color="#868686"/><stop offset="0.062" stop-color="#818181"/><stop offset="0.104" stop-color="#7b7b7b"/><stop offset="0.146" stop-color="#787878"/><stop offset="0.188" stop-color="#787878"/><stop offset="0.229" stop-color="#7a7a7a"/><stop offset="0.271" stop-color="#808080"/><stop offset="0.312" stop-color="#8c8c8c"/><stop offset="0.354" stop-color="#9c9c9c"/><stop offset="0.396" stop-color="#a5a5a5"/><stop offset="0.438" stop-color="#a2a2a2"/><stop offset="0.479" stop-color="#979797"/><stop offset="0.521" stop-color="#8a8a8a"/><stop offset="0.562" stop-color="#838383"/><stop offset="0.604" stop-color="#828282"/><stop offset="0.646" stop-color="#818181"/><stop offset="0.688" stop-color="#7d7d7d"/><stop offset="0.729" stop-color="#797979"/><stop offset="0.771" stop-color="#747474"/><stop offset="0.812" stop-color="#6e6e6e"/><stop offset="0.854" stop-color="#6a6a6a"/><stop offset="0.896" stop-color="#6e6e6e"/><stop offset="0.938" stop-color="#7a7a7a"/><stop offset="0.979" stop-color="#848484"/></linearGradient>
<linearGradient id="r11" x1="0" y1="0" x2="0" y2="1"><stop offset="0.021" stop-color="#898989"/><stop offset="0.062" stop-color="#838383"/><stop offset="0.104" stop-color="#7c7c7c"/><stop offset="0.146" stop-color="#767676"/><stop offset="0.188" stop-color="#737373"/><stop offset="0.229" stop-color="#747474"/><stop offset="0.271" stop-color="#7a7a7a"/><stop offset="0.312" stop-color="#898989"/><stop offset="0.354" stop-color="#9a9a9a"/><stop offset="0.396" stop-color="#a4a4a4"/><stop offset="0.438" stop-color="#a2a2a2"/><stop offset="0.479" stop-color="#959595"/><stop offset="0.521" stop-color="#868686"/><stop offset="0.562" stop-color="#7f7f7f"/><stop offset="0.604" stop-color="#808080"/><stop offset="0.646" stop-color="#818181"/><stop offset="0.688" stop-color="#7f7f7f"/><stop offset="0.729" stop-color="#7b7b7b"/><stop offset="0.771" stop-color="#767676"/><stop offset="0.812" stop-color="#6f6f6f"/><stop offset="0.854" stop-color="#696969"/><stop offset="0.896" stop-color="#6d6d6d"/><stop offset="0.938" stop-color="#797979"/><stop offset="0.979" stop-color="#848484"/></linearGradient>
<linearGradient id="r12" x1="0" y1="0" x2="0" y2="1"><stop offset="0.021" stop-color="#888888"/><stop offset="0.062" stop-color="#838383"/><stop offset="0.104" stop-color="#7a7a7a"/><stop offset="0.146" stop-color="#737373"/><stop offset="0.188" stop-color="#6f6f6f"/><stop offset="0.229" stop-color="#6f6f6f"/><stop offset="0.271" stop-color="#767676"/><stop offset="0.312" stop-color="#868686"/><stop offset="0.354" stop-color="#9a9a9a"/><stop offset="0.396" stop-color="#a5a5a5"/><stop offset="0.438" stop-color="#a4a4a4"/><stop offset="0.479" stop-color="#989898"/><stop offset="0.521" stop-color="#8a8a8a"/><stop offset="0.562" stop-color="#838383"/><stop offset="0.604" stop-color="#858585"/><stop offset="0.646" stop-color="#858585"/><stop offset="0.688" stop-color="#828282"/><stop offset="0.729" stop-color="#7e7e7e"/><stop offset="0.771" stop-color="#797979"/><stop offset="0.812" stop-color="#717171"/><stop offset="0.854" stop-color="#696969"/><stop offset="0.896" stop-color="#6a6a6a"/><stop offset="0.938" stop-color="#747474"/><stop offset="0.979" stop-color="#7e7e7e"/></linearGradient>
<linearGradient id="r13" x1="0" y1="0" x2="0" y2="1"><stop offset="0.021" stop-color="#8b8b8b"/><stop offset="0.062" stop-color="#848484"/><stop offset="0.104" stop-color="#7b7b7b"/><stop offset="0.146" stop-color="#727272"/><stop offset="0.188" stop-color="#6b6b6b"/><stop offset="0.229" stop-color="#6a6a6a"/><stop offset="0.271" stop-color="#717171"/><stop offset="0.312" stop-color="#828282"/><stop offset="0.354" stop-color="#999999"/><stop offset="0.396" stop-color="#a6a6a6"/><stop offset="0.438" stop-color="#a5a5a5"/><stop offset="0.479" stop-color="#9a9a9a"/><stop offset="0.521" stop-color="#8c8c8c"/><stop offset="0.562" stop-color="#878787"/><stop offset="0.604" stop-color="#8a8a8a"/><stop offset="0.646" stop-color="#8c8c8c"/><stop offset="0.688" stop-color="#898989"/><stop offset="0.729" stop-color="#838383"/><stop offset="0.771" stop-color="#7c7c7c"/><stop offset="0.812" stop-color="#727272"/><stop offset="0.854" stop-color="#686868"/><stop offset="0.896" stop-color="#686868"/><stop offset="0.938" stop-color="#717171"/><stop offset="0.979" stop-color="#7b7b7b"/></linearGradient>
<linearGradient id="r14" x1="0" y1="0" x2="0" y2="1"><stop offset="0.021" stop-color="#898989"/><stop offset="0.062" stop-color="#838383"/><stop offset="0.104" stop-color="#7b7b7b"/><stop offset="0.146" stop-color="#737373"/><stop offset="0.188" stop-color="#6c6c6c"/><stop offset="0.229" stop-color="#6a6a6a"/><stop offset="0.271" stop-color="#6f6f6f"/><stop offset="0.312" stop-color="#818181"/><stop offset="0.354" stop-color="#9a9a9a"/><stop offset="0.396" stop-color="#a8a8a8"/><stop offset="0.438" stop-color="#a5a5a5"/><stop offset="0.479" stop-color="#989898"/><stop offset="0.521" stop-color="#8a8a8a"/><stop offset="0.562" stop-color="#868686"/><stop offset="0.604" stop-color="#8b8b8b"/><stop offset="0.646" stop-color="#8d8d8d"/><stop offset="0.688" stop-color="#888888"/><stop offset="0.729" stop-color="#818181"/><stop offset="0.771" stop-color="#7a7a7a"/><stop offset="0.812" stop-color="#707070"/><stop offset="0.854" stop-color="#666666"/><stop offset="0.896" stop-color="#676767"/><stop offset="0.938" stop-color="#727272"/><stop offset="0.979" stop-color="#7c7c7c"/></linearGradient>
<linearGradient id="r15" x1="0" y1="0" x2="0" y2="1"><stop offset="0.021" stop-color="#888888"/><stop offset="0.062" stop-color="#838383"/><stop offset="0.104" stop-color="#7a7a7a"/><stop offset="0.146" stop-color="#717171"/><stop offset="0.188" stop-color="#6a6a6a"/><stop offset="0.229" stop-color="#676767"/><stop offset="0.271" stop-color="#6c6c6c"/><stop offset="0.312" stop-color="#808080"/><stop offset="0.354" stop-color="#9d9d9d"/><stop offset="0.396" stop-color="#acacac"/><stop offset="0.438" stop-color="#a7a7a7"/><stop offset="0.479" stop-color="#989898"/><stop offset="0.521" stop-color="#8a8a8a"/><stop offset="0.562" stop-color="#868686"/><stop offset="0.604" stop-color="#8b8b8b"/><stop offset="0.646" stop-color="#8d8d8d"/><stop offset="0.688" stop-color="#868686"/><stop offset="0.729" stop-color="#7f7f7f"/><stop offset="0.771" stop-color="#797979"/><stop offset="0.812" stop-color="#6f6f6f"/><stop offset="0.854" stop-color="#646464"/><stop offset="0.896" stop-color="#646464"/><stop offset="0.938" stop-color="#6f6f6f"/><stop offset="0.979" stop-color="#7a7a7a"/></linearGradient>
<linearGradient id="r16" x1="0" y1="0" x2="0" y2="1"><stop offset="0.021" stop-color="#848484"/><stop offset="0.062" stop-color="#7e7e7e"/><stop offset="0.104" stop-color="#767676"/><stop offset="0.146" stop-color="#6e6e6e"/><stop offset="0.188" stop-color="#686868"/><stop offset="0.229" stop-color="#636363"/><stop offset="0.271" stop-color="#666666"/><stop offset="0.312" stop-color="#7c7c7c"/><stop offset="0.354" stop-color="#9d9d9d"/><stop offset="0.396" stop-color="#adadad"/><stop offset="0.438" stop-color="#a6a6a6"/><stop offset="0.479" stop-color="#979797"/><stop offset="0.521" stop-color="#8b8b8b"/><stop offset="0.562" stop-color="#898989"/><stop offset="0.604" stop-color="#8f8f8f"/><stop offset="0.646" stop-color="#8f8f8f"/><stop offset="0.688" stop-color="#858585"/><stop offset="0.729" stop-color="#7d7d7d"/><stop offset="0.771" stop-color="#777777"/><stop offset="0.812" stop-color="#6e6e6e"/><stop offset="0.854" stop-color="#656565"/><stop offset="0.896" stop-color="#676767"/><stop offset="0.938" stop-color="#737373"/><stop offset="0.979" stop-color="#7f7f7f"/></linearGradient>
<linearGradient id="r17" x1="0" y1="0" x2="0" y2="1"><stop offset="0.021" stop-color="#858585"/><stop offset="0.062" stop-color="#7f7f7f"/><stop offset="0.104" stop-color="#777777"/><stop offset="0.146" stop-color="#6f6f6f"/><stop offset="0.188" stop-color="#696969"/><stop offset="0.229" stop-color="#636363"/><stop offset="0.271" stop-color="#646464"/><stop offset="0.312" stop-color="#7b7b7b"/><stop offset="0.354" stop-color="#9f9f9f"/><stop offset="0.396" stop-color="#b0b0b0"/><stop offset="0.438" stop-color="#a7a7a7"/><stop offset="0.479" stop-color="#969696"/><stop offset="0.521" stop-color="#8a8a8a"/><stop offset="0.562" stop-color="#8a8a8a"/><stop offset="0.604" stop-color="#919191"/><stop offset="0.646" stop-color="#8f8f8f"/><stop offset="0.688" stop-color="#848484"/><stop offset="0.729" stop-color="#7b7b7b"/><stop offset="0.771" stop-color="#797979"/><stop offset="0.812" stop-color="#737373"/><stop offset="0.854" stop-color="#6c6c6c"/><stop offset="0.896" stop-color="#6f6f6f"/><stop offset="0.938" stop-color="#7a7a7a"/><stop offset="0.979" stop-color="#868686"/></linearGradient>
<linearGradient id="r18" x1="0" y1="0" x2="0" y2="1"><stop offset="0.021" stop-color="#858585"/><stop offset="0.062" stop-color="#7f7f7f"/><stop offset="0.104" stop-color="#767676"/><stop offset="0.146" stop-color="#6f6f6f"/><stop offset="0.188" stop-color="#686868"/><stop offset="0.229" stop-color="#616161"/><stop offset="0.271" stop-color="#626262"/><stop offset="0.312" stop-color="#7a7a7a"/><stop offset="0.354" stop-color="#a1a1a1"/><stop offset="0.396" stop-color="#b2b2b2"/><stop offset="0.438" stop-color="#a7a7a7"/><stop offset="0.479" stop-color="#949494"/><stop offset="0.521" stop-color="#898989"/><stop offset="0.562" stop-color="#8a8a8a"/><stop offset="0.604" stop-color="#929292"/><stop offset="0.646" stop-color="#8f8f8f"/><stop offset="0.688" stop-color="#828282"/><stop offset="0.729" stop-color="#7a7a7a"/><stop offset="0.771" stop-color="#7b7b7b"/><stop offset="0.812" stop-color="#797979"/><stop offset="0.854" stop-color="#737373"/><stop offset="0.896" stop-color="#767676"/><stop offset="0.938" stop-color="#828282"/><stop offset="0.979" stop-color="#8d8d8d"/></linearGradient>
<linearGradient id="r19" x1="0" y1="0" x2="0" y2="1"><stop offset="0.021" stop-color="#888888"/><stop offset="0.062" stop-color="#818181"/><stop offset="0.104" stop-color="#787878"/><stop offset="0.146" stop-color="#717171"/><stop offset="0.188" stop-color="#6a6a6a"/><stop offset="0.229" stop-color="#626262"/><stop offset="0.271" stop-color="#616161"/><stop offset="0.312" stop-color="#797979"/><stop offset="0.354" stop-color="#a0a0a0"/><stop offset="0.396" stop-color="#b1b1b1"/><stop offset="0.438" stop-color="#a3a3a3"/><stop offset="0.479" stop-color="#909090"/><stop offset="0.521" stop-color="#868686"/><stop offset="0.562" stop-color="#888888"/><stop offset="0.604" stop-color="#8f8f8f"/><stop offset="0.646" stop-color="#8b8b8b"/><stop offset="0.688" stop-color="#7d7d7d"/><stop offset="0.729" stop-color="#777777"/><stop offset="0.771" stop-color="#7a7a7a"/><stop offset="0.812" stop-color="#7a7a7a"/><stop offset="0.854" stop-color="#757575"/><stop offset="0.896" stop-color="#777777"/><stop offset="0.938" stop-color="#828282"/><stop offset="0.979" stop-color="#8e8e8e"/></linearGradient>
<linearGradient id="r20" x1="0" y1="0" x2="0" y2="1"><stop offset="0.021" stop-color="#848484"/><stop offset="0.062" stop-color="#7e7e7e"/><stop offset="0.104" stop-color="#757575"/><stop offset="0.146" stop-color="#6f6f6f"/><stop offset="0.188" stop-color="#6b6b6b"/><stop offset="0.229" stop-color="#636363"/><stop offset="0.271" stop-color="#606060"/><stop offset="0.312" stop-color="#767676"/><stop offset="0.354" stop-color="#9c9c9c"/><stop offset="0.396" stop-color="#acacac"/><stop offset="0.438" stop-color="#9f9f9f"/><stop offset="0.479" stop-color="#8e8e8e"/><stop offset="0.521" stop-color="#878787"/><stop offset="0.562" stop-color="#8b8b8b"/><stop offset="0.604" stop-color="#929292"/><stop offset="0.646" stop-color="#8c8c8c"/><stop offset="0.688" stop-color="#7d7d7d"/><stop offset="0.729" stop-color="#777777"/><stop offset="0.771" stop-color="#7b7b7b"/><stop offset="0.812" stop-color="#7d7d7d"/><stop offset="0.854" stop-color="#797979"/><stop offset="0.896" stop-color="#7d7d7d"/><stop offset="0.938" stop-color="#898989"/><stop offset="0.979" stop-color="#949494"/></linearGradient>
<linearGradient id="r21" x1="0" y1="0" x2="0" y2="1"><stop offset="0.021" stop-color="#848484"/><stop offset="0.062" stop-color="#7d7d7d"/><stop offset="0.104" stop-color="#747474"/><stop offset="0.146" stop-color="#6f6f6f"/><stop offset="0.188" stop-color="#6c6c6c"/><stop offset="0.229" stop-color="#676767"/><stop offset="0.271" stop-color="#666666"/><stop offset="0.312" stop-color="#7a7a7a"/><stop offset="0.354" stop-color="#9b9b9b"/><stop offset="0.396" stop-color="#a8a8a8"/><stop offset="0.438" stop-color="#9b9b9b"/><stop offset="0.479" stop-color="#8b8b8b"/><stop offset="0.521" stop-color="#858585"/><stop offset="0.562" stop-color="#898989"/><stop offset="0.604" stop-color="#909090"/><stop offset="0.646" stop-color="#8b8b8b"/><stop offset="0.688" stop-color="#7e7e7e"/><stop offset="0.729" stop-color="#797979"/><stop offset="0.771" stop-color="#7f7f7f"/><stop offset="0.812" stop-color="#828282"/><stop offset="0.854" stop-color="#7f7f7f"/><stop offset="0.896" stop-color="#818181"/><stop offset="0.938" stop-color="#8b8b8b"/><stop offset="0.979" stop-color="#959595"/></linearGradient>
<linearGradient id="r22" x1="0" y1="0" x2="0" y2="1"><stop offset="0.021" stop-color="#828282"/><stop offset="0.062" stop-color="#7b7b7b"/><stop offset="0.104" stop-color="#727272"/><stop offset="0.146" stop-color="#6e6e6e"/><stop offset="0.188" stop-color="#6d6d6d"/><stop offset="0.229" stop-color="#696969"/><stop offset="0.271" stop-color="#686868"/><stop offset="0.312" stop-color="#787878"/><stop offset="0.354" stop-color="#929292"/><stop offset="0.396" stop-color="#9c9c9c"/><stop offset="0.438" stop-color="#909090"/><stop offset="0.479" stop-color="#838383"/><stop offset="0.521" stop-color="#7f7f7f"/><stop offset="0.562" stop-color="#838383"/><stop offset="0.604" stop-color="#898989"/><stop offset="0.646" stop-color="#868686"/><stop offset="0.688" stop-color="#7c7c7c"/><stop offset="0.729" stop-color="#7a7a7a"/><stop offset="0.771" stop-color="#828282"/><stop offset="0.812" stop-color="#858585"/><stop offset="0.854" stop-color="#838383"/><stop offset="0.896" stop-color="#858585"/><stop offset="0.938" stop-color="#8f8f8f"/><stop offset="0.979" stop-color="#989898"/></linearGradient>
<linearGradient id="r23" x1="0" y1="0" x2="0" y2="1"><stop offset="0.021" stop-color="#858585"/><stop offset="0.062" stop-color="#7c7c7c"/><stop offset="0.104" stop-color="#727272"/><stop offset="0.146" stop-color="#6f6f6f"/><stop offset="0.188" stop-color="#707070"/><stop offset="0.229" stop-color="#6f6f6f"/><stop offset="0.271" stop-color="#6d6d6d"/><stop offset="0.312" stop-color="#787878"/><stop offset="0.354" stop-color="#8b8b8b"/><stop offset="0.396" stop-color="#939393"/><stop offset="0.438" stop-color="#8d8d8d"/><stop offset="0.479" stop-color="#858585"/><stop offset="0.521" stop-color="#858585"/><stop offset="0.562" stop-color="#898989"/><stop offset="0.604" stop-color="#8e8e8e"/><stop offset="0.646" stop-color="#8a8a8a"/><stop offset="0.688" stop-color="#828282"/><stop offset="0.729" stop-color="#828282"/><stop offset="0.771" stop-color="#8a8a8a"/><stop offset="0.812" stop-color="#8d8d8d"/><stop offset="0.854" stop-color="#8b8b8b"/><stop offset="0.896" stop-color="#8d8d8d"/><stop offset="0.938" stop-color="#969696"/><stop offset="0.979" stop-color="#9e9e9e"/></linearGradient>
<linearGradient id="r24" x1="0" y1="0" x2="0" y2="1"><stop offset="0.021" stop-color="#7d7d7d"/><stop offset="0.062" stop-color="#757575"/><stop offset="0.104" stop-color="#6c6c6c"/><stop offset="0.146" stop-color="#6a6a6a"/><stop offset="0.188" stop-color="#6e6e6e"/><stop offset="0.229" stop-color="#717171"/><stop offset="0.271" stop-color="#717171"/><stop offset="0.312" stop-color="#787878"/><stop offset="0.354" stop-color="#848484"/><stop offset="0.396" stop-color="#888888"/><stop offset="0.438" stop-color="#848484"/><stop offset="0.479" stop-color="#818181"/><stop offset="0.521" stop-color="#838383"/><stop offset="0.562" stop-color="#898989"/><stop offset="0.604" stop-color="#8d8d8d"/><stop offset="0.646" stop-color="#8c8c8c"/><stop offset="0.688" stop-color="#878787"/><stop offset="0.729" stop-color="#898989"/><stop offset="0.771" stop-color="#929292"/><stop offset="0.812" stop-color="#949494"/><stop offset="0.854" stop-color="#909090"/><stop offset="0.896" stop-color="#909090"/><stop offset="0.938" stop-color="#969696"/><stop offset="0.979" stop-color="#9d9d9d"/></linearGradient>
<linearGradient id="r25" x1="0" y1="0" x2="0" y2="1"><stop offset="0.021" stop-color="#767676"/><stop offset="0.062" stop-color="#6d6d6d"/><stop offset="0.104" stop-color="#656565"/><stop offset="0.146" stop-color="#646464"/><stop offset="0.188" stop-color="#6b6b6b"/><stop offset="0.229" stop-color="#717171"/><stop offset="0.271" stop-color="#747474"/><stop offset="0.312" stop-color="#787878"/><stop offset="0.354" stop-color="#7e7e7e"/><stop offset="0.396" stop-color="#808080"/><stop offset="0.438" stop-color="#7d7d7d"/><stop offset="0.479" stop-color="#7d7d7d"/><stop offset="0.521" stop-color="#808080"/><stop offset="0.562" stop-color="#858585"/><stop offset="0.604" stop-color="#8b8b8b"/><stop offset="0.646" stop-color="#8c8c8c"/><stop offset="0.688" stop-color="#8a8a8a"/><stop offset="0.729" stop-color="#8e8e8e"/><stop offset="0.771" stop-color="#969696"/><stop offset="0.812" stop-color="#979797"/><stop offset="0.854" stop-color="#919191"/><stop offset="0.896" stop-color="#8e8e8e"/><stop offset="0.938" stop-color="#939393"/><stop offset="0.979" stop-color="#989898"/></linearGradient>
<linearGradient id="r26" x1="0" y1="0" x2="0" y2="1"><stop offset="0.021" stop-color="#727272"/><stop offset="0.062" stop-color="#686868"/><stop offset="0.104" stop-color="#5f5f5f"/><stop offset="0.146" stop-color="#5f5f5f"/><stop offset="0.188" stop-color="#686868"/><stop offset="0.229" stop-color="#717171"/><stop offset="0.271" stop-color="#767676"/><stop offset="0.312" stop-color="#7a7a7a"/><stop offset="0.354" stop-color="#7c7c7c"/><stop offset="0.396" stop-color="#7d7d7d"/><stop offset="0.438" stop-color="#7d7d7d"/><stop offset="0.479" stop-color="#7d7d7d"/><stop offset="0.521" stop-color="#808080"/><stop offset="0.562" stop-color="#868686"/><stop offset="0.604" stop-color="#8c8c8c"/><stop offset="0.646" stop-color="#8f8f8f"/><stop offset="0.688" stop-color="#909090"/><stop offset="0.729" stop-color="#969696"/><stop offset="0.771" stop-color="#9e9e9e"/><stop offset="0.812" stop-color="#9d9d9d"/><stop offset="0.854" stop-color="#969696"/><stop offset="0.896" stop-color="#919191"/><stop offset="0.938" stop-color="#949494"/><stop offset="0.979" stop-color="#989898"/></linearGradient>
<linearGradient id="r27" x1="0" y1="0" x2="0" y2="1"><stop offset="0.021" stop-color="#6c6c6c"/><stop offset="0.062" stop-color="#626262"/><stop offset="0.104" stop-color="#595959"/><stop offset="0.146" stop-color="#595959"/><stop offset="0.188" stop-color="#626262"/><stop offset="0.229" stop-color="#6d6d6d"/><stop offset="0.271" stop-color="#737373"/><stop offset="0.312" stop-color="#767676"/><stop offset="0.354" stop-color="#777777"/><stop offset="0.396" stop-color="#787878"/><stop offset="0.438" stop-color="#7a7a7a"/><stop offset="0.479" stop-color="#7c7c7c"/><stop offset="0.521" stop-color="#7e7e7e"/><stop offset="0.562" stop-color="#848484"/><stop offset="0.604" stop-color="#8d8d8d"/><stop offset="0.646" stop-color="#949494"/><stop offset="0.688" stop-color="#999999"/><stop offset="0.729" stop-color="#a2a2a2"/><stop offset="0.771" stop-color="#acacac"/><stop offset="0.812" stop-color="#ababab"/><stop offset="0.854" stop-color="#a0a0a0"/><stop offset="0.896" stop-color="#999999"/><stop offset="0.938" stop-color="#999999"/><stop offset="0.979" stop-color="#9c9c9c"/></linearGradient>
<linearGradient id="r28" x1="0" y1="0" x2="0" y2="1"><stop offset="0.021" stop-color="#636363"/><stop offset="0.062" stop-color="#5a5a5a"/><stop offset="0.104" stop-color="#515151"/><stop offset="0.146" stop-color="#515151"/><stop offset="0.188" stop-color="#5c5c5c"/><stop offset="0.229" stop-color="#676767"/><stop offset="0.271" stop-color="#707070"/><stop offset="0.312" stop-color="#747474"/><stop offset="0.354" stop-color="#757575"/><stop offset="0.396" stop-color="#777777"/><stop offset="0.438" stop-color="#797979"/><stop offset="0.479" stop-color="#7a7a7a"/><stop offset="0.521" stop-color="#7c7c7c"/><stop offset="0.562" stop-color="#838383"/><stop offset="0.604" stop-color="#8f8f8f"/><stop offset="0.646" stop-color="#999999"/><stop offset="0.688" stop-color="#a1a1a1"/><stop offset="0.729" stop-color="#acacac"/><stop offset="0.771" stop-color="#b5b5b5"/><stop offset="0.812" stop-color="#b2b2b2"/><stop offset="0.854" stop-color="#a6a6a6"/><stop offset="0.896" stop-color="#9d9d9d"/><stop offset="0.938" stop-color="#9d9d9d"/><stop offset="0.979" stop-color="#a0a0a0"/></linearGradient>
<linearGradient id="r29" x1="0" y1="0" x2="0" y2="1"><stop offset="0.021" stop-color="#5f5f5f"/><stop offset="0.062" stop-color="#555555"/><stop offset="0.104" stop-color="#4c4c4c"/><stop offset="0.146" stop-color="#4b4b4b"/><stop offset="0.188" stop-color="#545454"/><stop offset="0.229" stop-color="#5f5f5f"/><stop offset="0.271" stop-color="#686868"/><stop offset="0.312" stop-color="#6e6e6e"/><stop offset="0.354" stop-color="#717171"/><stop offset="0.396" stop-color="#747474"/><stop offset="0.438" stop-color="#767676"/><stop offset="0.479" stop-color="#777777"/><stop offset="0.521" stop-color="#787878"/><stop offset="0.562" stop-color="#828282"/><stop offset="0.604" stop-color="#919191"/><stop offset="0.646" stop-color="#a0a0a0"/><stop offset="0.688" stop-color="#ababab"/><stop offset="0.729" stop-color="#b8b8b8"/><stop offset="0.771" stop-color="#c2c2c2"/><stop offset="0.812" stop-color="#bdbdbd"/><stop offset="0.854" stop-color="#adadad"/><stop offset="0.896" stop-color="#a0a0a0"/><stop offset="0.938" stop-color="#9e9e9e"/><stop offset="0.979" stop-color="#a1a1a1"/></linearGradient>
<linearGradient id="r30" x1="0" y1="0" x2="0" y2="1"><stop offset="0.021" stop-color="#585858"/><stop offset="0.062" stop-color="#4f4f4f"/><stop offset="0.104" stop-color="#464646"/><stop offset="0.146" stop-color="#454545"/><stop offset="0.188" stop-color="#4d4d4d"/><stop offset="0.229" stop-color="#585858"/><stop offset="0.271" stop-color="#626262"/><stop offset="0.312" stop-color="#6a6a6a"/><stop offset="0.354" stop-color="#707070"/><stop offset="0.396" stop-color="#747474"/><stop offset="0.438" stop-color="#767676"/><stop offset="0.479" stop-color="#767676"/><stop offset="0.521" stop-color="#777777"/><stop offset="0.562" stop-color="#828282"/><stop offset="0.604" stop-color="#939393"/><stop offset="0.646" stop-color="#a4a4a4"/><stop offset="0.688" stop-color="#b2b2b2"/><stop offset="0.729" stop-color="#c1c1c1"/><stop offset="0.771" stop-color="#cdcdcd"/><stop offset="0.812" stop-color="#c8c8c8"/><stop offset="0.854" stop-color="#b6b6b6"/><stop offset="0.896" stop-color="#a8a8a8"/><stop offset="0.938" stop-color="#a4a4a4"/><stop offset="0.979" stop-color="#a6a6a6"/></linearGradient>
<linearGradient id="r31" x1="0" y1="0" x2="0" y2="1"><stop offset="0.021" stop-color="#4f4f4f"/><stop offset="0.062" stop-color="#474747"/><stop offset="0.104" stop-color="#3f3f3f"/><stop offset="0.146" stop-color="#3e3e3e"/><stop offset="0.188" stop-color="#454545"/><stop offset="0.229" stop-color="#505050"/><stop offset="0.271" stop-color="#5b5b5b"/><stop offset="0.312" stop-color="#656565"/><stop offset="0.354" stop-color="#6d6d6d"/><stop offset="0.396" stop-color="#717171"/><stop offset="0.438" stop-color="#727272"/><stop offset="0.479" stop-color="#717171"/><stop offset="0.521" stop-color="#737373"/><stop offset="0.562" stop-color="#7f7f7f"/><stop offset="0.604" stop-color="#939393"/><stop offset="0.646" stop-color="#a6a6a6"/><stop offset="0.688" stop-color="#b5b5b5"/><stop offset="0.729" stop-color="#c5c5c5"/><stop offset="0.771" stop-color="#d2d2d2"/><stop offset="0.812" stop-color="#cdcdcd"/><stop offset="0.854" stop-color="#bbbbbb"/><stop offset="0.896" stop-color="#acacac"/><stop offset="0.938" stop-color="#a7a7a7"/><stop offset="0.979" stop-color="#a7a7a7"/></linearGradient>
<linearGradient id="r32" x1="0" y1="0" x2="0" y2="1"><stop offset="0.021" stop-color="#484848"/><stop offset="0.062" stop-color="#414141"/><stop offset="0.104" stop-color="#3a3a3a"/><stop offset="0.146" stop-color="#383838"/><stop offset="0.188" stop-color="#3d3d3d"/><stop offset="0.229" stop-color="#464646"/><stop offset="0.271" stop-color="#505050"/><stop offset="0.312" stop-color="#5b5b5b"/><stop offset="0.354" stop-color="#666666"/><stop offset="0.396" stop-color="#6c6c6c"/><stop offset="0.438" stop-color="#6e6e6e"/><stop offset="0.479" stop-color="#707070"/><stop offset="0.521" stop-color="#767676"/><stop offset="0.562" stop-color="#858585"/><stop offset="0.604" stop-color="#9b9b9b"/><stop offset="0.646" stop-color="#adadad"/><stop offset="0.688" stop-color="#bababa"/><stop offset="0.729" stop-color="#c9c9c9"/><stop offset="0.771" stop-color="#d5d5d5"/><stop offset="0.812" stop-color="#d2d2d2"/><stop offset="0.854" stop-color="#c3c3c3"/><stop offset="0.896" stop-color="#b6b6b6"/><stop offset="0.938" stop-color="#b2b2b2"/><stop offset="0.979" stop-color="#b2b2b2"/></linearGradient>
<linearGradient id="r33" x1="0" y1="0" x2="0" y2="1"><stop offset="0.021" stop-color="#464646"/><stop offset="0.062" stop-color="#3f3f3f"/><stop offset="0.104" stop-color="#383838"/><stop offset="0.146" stop-color="#343434"/><stop offset="0.188" stop-color="#373737"/><stop offset="0.229" stop-color="#3c3c3c"/><stop offset="0.271" stop-color="#444444"/><stop offset="0.312" stop-color="#505050"/><stop offset="0.354" stop-color="#5d5d5d"/><stop offset="0.396" stop-color="#656565"/><stop offset="0.438" stop-color="#686868"/><stop offset="0.479" stop-color="#6c6c6c"/><stop offset="0.521" stop-color="#777777"/><stop offset="0.562" stop-color="#8a8a8a"/><stop offset="0.604" stop-color="#a0a0a0"/><stop offset="0.646" stop-color="#b2b2b2"/><stop offset="0.688" stop-color="#bfbfbf"/><stop offset="0.729" stop-color="#cccccc"/><stop offset="0.771" stop-color="#d8d8d8"/><stop offset="0.812" stop-color="#d9d9d9"/><stop offset="0.854" stop-color="#cfcfcf"/><stop offset="0.896" stop-color="#c5c5c5"/><stop offset="0.938" stop-color="#c1c1c1"/><stop offset="0.979" stop-color="#c0c0c0"/></linearGradient>
<linearGradient id="r34" x1="0" y1="0" x2="0" y2="1"><stop offset="0.021" stop-color="#434343"/><stop offset="0.062" stop-color="#3d3d3d"/><stop offset="0.104" stop-color="#373737"/><stop offset="0.146" stop-color="#333333"/><stop offset="0.188" stop-color="#333333"/><stop offset="0.229" stop-color="#373737"/><stop offset="0.271" stop-color="#3e3e3e"/><stop offset="0.312" stop-color="#4a4a4a"/><stop offset="0.354" stop-color="#575757"/><stop offset="0.396" stop-color="#5f5f5f"/><stop offset="0.438" stop-color="#626262"/><stop offset="0.479" stop-color="#696969"/><stop offset="0.521" stop-color="#787878"/><stop offset="0.562" stop-color="#8c8c8c"/><stop offset="0.604" stop-color="#a2a2a2"/><stop offset="0.646" stop-color="#b3b3b3"/><stop offset="0.688" stop-color="#bfbfbf"/><stop offset="0.729" stop-color="#cccccc"/><stop offset="0.771" stop-color="#d8d8d8"/><stop offset="0.812" stop-color="#dcdcdc"/><stop offset="0.854" stop-color="#d7d7d7"/><stop offset="0.896" stop-color="#d1d1d1"/><stop offset="0.938" stop-color="#cecece"/><stop offset="0.979" stop-color="#cccccc"/></linearGradient>
<linearGradient id="r35" x1="0" y1="0" x2="0" y2="1"><stop offset="0.021" stop-color="#434343"/><stop offset="0.062" stop-color="#3d3d3d"/><stop offset="0.104" stop-color="#363636"/><stop offset="0.146" stop-color="#313131"/><stop offset="0.188" stop-color="#2f2f2f"/><stop offset="0.229" stop-color="#323232"/><stop offset="0.271" stop-color="#393939"/><stop offset="0.312" stop-color="#464646"/><stop offset="0.354" stop-color="#545454"/><stop offset="0.396" stop-color="#5c5c5c"/><stop offset="0.438" stop-color="#5e5e5e"/><stop offset="0.479" stop-color="#666666"/><stop offset="0.521" stop-color="#797979"/><stop offset="0.562" stop-color="#8f8f8f"/><stop offset="0.604" stop-color="#a3a3a3"/><stop offset="0.646" stop-color="#b2b2b2"/><stop offset="0.688" stop-color="#bcbcbc"/><stop offset="0.729" stop-color="#c8c8c8"/><stop offset="0.771" stop-color="#d4d4d4"/><stop offset="0.812" stop-color="#dcdcdc"/><stop offset="0.854" stop-color="#dedede"/><stop offset="0.896" stop-color="#dcdcdc"/><stop offset="0.938" stop-color="#d8d8d8"/><stop offset="0.979" stop-color="#d5d5d5"/></linearGradient>
<linearGradient id="r36" x1="0" y1="0" x2="0" y2="1"><stop offset="0.021" stop-color="#3c3c3c"/><stop offset="0.062" stop-color="#393939"/><stop offset="0.104" stop-color="#343434"/><stop offset="0.146" stop-color="#303030"/><stop offset="0.188" stop-color="#2f2f2f"/><stop offset="0.229" stop-color="#313131"/><stop offset="0.271" stop-color="#373737"/><stop offset="0.312" stop-color="#444444"/><stop offset="0.354" stop-color="#525252"/><stop offset="0.396" stop-color="#585858"/><stop offset="0.438" stop-color="#595959"/><stop offset="0.479" stop-color="#646464"/><stop offset="0.521" stop-color="#7b7b7b"/><stop offset="0.562" stop-color="#939393"/><stop offset="0.604" stop-color="#a6a6a6"/><stop offset="0.646" stop-color="#b3b3b3"/><stop offset="0.688" stop-color="#bababa"/><stop offset="0.729" stop-color="#c2c2c2"/><stop offset="0.771" stop-color="#cdcdcd"/><stop offset="0.812" stop-color="#d9d9d9"/><stop offset="0.854" stop-color="#e3e3e3"/><stop offset="0.896" stop-color="#e7e7e7"/><stop offset="0.938" stop-color="#e3e3e3"/><stop offset="0.979" stop-color="#dfdfdf"/></linearGradient>
<linearGradient id="r37" x1="0" y1="0" x2="0" y2="1"><stop offset="0.021" stop-color="#373737"/><stop offset="0.062" stop-color="#353535"/><stop offset="0.104" stop-color="#323232"/><stop offset="0.146" stop-color="#303030"/><stop offset="0.188" stop-color="#2e2e2e"/><stop offset="0.229" stop-color="#2e2e2e"/><stop offset="0.271" stop-color="#333333"/><stop offset="0.312" stop-color="#3e3e3e"/><stop offset="0.354" stop-color="#4d4d4d"/><stop offset="0.396" stop-color="#535353"/><stop offset="0.438" stop-color="#555555"/><stop offset="0.479" stop-color="#636363"/><stop offset="0.521" stop-color="#7d7d7d"/><stop offset="0.562" stop-color="#969696"/><stop offset="0.604" stop-color="#a8a8a8"/><stop offset="0.646" stop-color="#b2b2b2"/><stop offset="0.688" stop-color="#b6b6b6"/><stop offset="0.729" stop-color="#bcbcbc"/><stop offset="0.771" stop-color="#c7c7c7"/><stop offset="0.812" stop-color="#d7d7d7"/><stop offset="0.854" stop-color="#e8e8e8"/><stop offset="0.896" stop-color="#efefef"/><stop offset="0.938" stop-color="#eaeaea"/><stop offset="0.979" stop-color="#e3e3e3"/></linearGradient>
<linearGradient id="r38" x1="0" y1="0" x2="0" y2="1"><stop offset="0.021" stop-color="#2f2f2f"/><stop offset="0.062" stop-color="#2f2f2f"/><stop offset="0.104" stop-color="#2f2f2f"/><stop offset="0.146" stop-color="#2e2e2e"/><stop offset="0.188" stop-color="#2c2c2c"/><stop offset="0.229" stop-color="#2c2c2c"/><stop offset="0.271" stop-color="#2f2f2f"/><stop offset="0.312" stop-color="#3a3a3a"/><stop offset="0.354" stop-color="#4a4a4a"/><stop offset="0.396" stop-color="#525252"/><stop offset="0.438" stop-color="#555555"/><stop offset="0.479" stop-color="#636363"/><stop offset="0.521" stop-color="#7e7e7e"/><stop offset="0.562" stop-color="#989898"/><stop offset="0.604" stop-color="#a8a8a8"/><stop offset="0.646" stop-color="#b0b0b0"/><stop offset="0.688" stop-color="#b4b4b4"/><stop offset="0.729" stop-color="#b8b8b8"/><stop offset="0.771" stop-color="#c1c1c1"/><stop offset="0.812" stop-color="#d3d3d3"/><stop offset="0.854" stop-color="#e9e9e9"/><stop offset="0.896" stop-color="#f2f2f2"/><stop offset="0.938" stop-color="#eeeeee"/><stop offset="0.979" stop-color="#e5e5e5"/></linearGradient>
<linearGradient id="r39" x1="0" y1="0" x2="0" y2="1"><stop offset="0.021" stop-color="#252525"/><stop offset="0.062" stop-color="#272727"/><stop offset="0.104" stop-color="#292929"/><stop offset="0.146" stop-color="#2a2a2a"/><stop offset="0.188" stop-color="#2a2a2a"/><stop offset="0.229" stop-color="#292929"/><stop offset="0.271" stop-color="#2d2d2d"/><stop offset="0.312" stop-color="#3a3a3a"/><stop offset="0.354" stop-color="#4d4d4d"/><stop offset="0.396" stop-color="#575757"/><stop offset="0.438" stop-color="#595959"/><stop offset="0.479" stop-color="#656565"/><stop offset="0.521" stop-color="#7e7e7e"/><stop offset="0.562" stop-color="#969696"/><stop offset="0.604" stop-color="#a6a6a6"/><stop offset="0.646" stop-color="#afafaf"/><stop offset="0.688" stop-color="#b3b3b3"/><stop offset="0.729" stop-color="#b5b5b5"/><stop offset="0.771" stop-color="#bcbcbc"/><stop offset="0.812" stop-color="#cfcfcf"/><stop offset="0.854" stop-color="#e9e9e9"/><stop offset="0.896" stop-color="#f6f6f6"/><stop offset="0.938" stop-color="#f1f1f1"/><stop offset="0.979" stop-color="#e8e8e8"/></linearGradient>
<linearGradient id="r40" x1="0" y1="0" x2="0" y2="1"><stop offset="0.021" stop-color="#1d1d1d"/><stop offset="0.062" stop-color="#202020"/><stop offset="0.104" stop-color="#242424"/><stop offset="0.146" stop-color="#282828"/><stop offset="0.188" stop-color="#2a2a2a"/><stop offset="0.229" stop-color="#2c2c2c"/><stop offset="0.271" stop-color="#303030"/><stop offset="0.312" stop-color="#3f3f3f"/><stop offset="0.354" stop-color="#545454"/><stop offset="0.396" stop-color="#606060"/><stop offset="0.438" stop-color="#626262"/><stop offset="0.479" stop-color="#6d6d6d"/><stop offset="0.521" stop-color="#838383"/><stop offset="0.562" stop-color="#9a9a9a"/><stop offset="0.604" stop-color="#a9a9a9"/><stop offset="0.646" stop-color="#b2b2b2"/><stop offset="0.688" stop-color="#b5b5b5"/><stop offset="0.729" stop-color="#b6b6b6"/><stop offset="0.771" stop-color="#bbbbbb"/><stop offset="0.812" stop-color="#cecece"/><stop offset="0.854" stop-color="#e9e9e9"/><stop offset="0.896" stop-color="#f5f5f5"/><stop offset="0.938" stop-color="#eeeeee"/><stop offset="0.979" stop-color="#e2e2e2"/></linearGradient>
<linearGradient id="r41" x1="0" y1="0" x2="0" y2="1"><stop offset="0.021" stop-color="#1a1a1a"/><stop offset="0.062" stop-color="#1e1e1e"/><stop offset="0.104" stop-color="#252525"/><stop offset="0.146" stop-color="#2b2b2b"/><stop offset="0.188" stop-color="#2f2f2f"/><stop offset="0.229" stop-color="#303030"/><stop offset="0.271" stop-color="#333333"/><stop offset="0.312" stop-color="#414141"/><stop offset="0.354" stop-color="#585858"/><stop offset="0.396" stop-color="#656565"/><stop offset="0.438" stop-color="#676767"/><stop offset="0.479" stop-color="#707070"/><stop offset="0.521" stop-color="#828282"/><stop offset="0.562" stop-color="#969696"/><stop offset="0.604" stop-color="#a4a4a4"/><stop offset="0.646" stop-color="#aeaeae"/><stop offset="0.688" stop-color="#b4b4b4"/><stop offset="0.729" stop-color="#b5b5b5"/><stop offset="0.771" stop-color="#b9b9b9"/><stop offset="0.812" stop-color="#cccccc"/><stop offset="0.854" stop-color="#e8e8e8"/><stop offset="0.896" stop-color="#f4f4f4"/><stop offset="0.938" stop-color="#eaeaea"/><stop offset="0.979" stop-color="#dddddd"/></linearGradient>
<linearGradient id="r42" x1="0" y1="0" x2="0" y2="1"><stop offset="0.021" stop-color="#141414"/><stop offset="0.062" stop-color="#1b1b1b"/><stop offset="0.104" stop-color="#232323"/><stop offset="0.146" stop-color="#2c2c2c"/><stop offset="0.188" stop-color="#323232"/><stop offset="0.229" stop-color="#343434"/><stop offset="0.271" stop-color="#373737"/><stop offset="0.312" stop-color="#464646"/><stop offset="0.354" stop-color="#5e5e5e"/><stop offset="0.396" stop-color="#6c6c6c"/><stop offset="0.438" stop-color="#6e6e6e"/><stop offset="0.479" stop-color="#747474"/><stop offset="0.521" stop-color="#838383"/><stop offset="0.562" stop-color="#949494"/><stop offset="0.604" stop-color="#a2a2a2"/><stop offset="0.646" stop-color="#adadad"/><stop offset="0.688" stop-color="#b3b3b3"/><stop offset="0.729" stop-color="#b4b4b4"/><stop offset="0.771" stop-color="#b6b6b6"/><stop offset="0.812" stop-color="#c7c7c7"/><stop offset="0.854" stop-color="#e2e2e2"/><stop offset="0.896" stop-color="#ededed"/><stop offset="0.938" stop-color="#e3e3e3"/><stop offset="0.979" stop-color="#d4d4d4"/></linearGradient>
<linearGradient id="r43" x1="0" y1="0" x2="0" y2="1"><stop offset="0.021" stop-color="#0c0c0c"/><stop offset="0.062" stop-color="#131313"/><stop offset="0.104" stop-color="#1e1e1e"/><stop offset="0.146" stop-color="#2a2a2a"/><stop offset="0.188" stop-color="#333333"/><stop offset="0.229" stop-color="#373737"/><stop offset="0.271" stop-color="#3b3b3b"/><stop offset="0.312" stop-color="#4b4b4b"/><stop offset="0.354" stop-color="#646464"/><stop offset="0.396" stop-color="#727272"/><stop offset="0.438" stop-color="#737373"/><stop offset="0.479" stop-color="#767676"/><stop offset="0.521" stop-color="#828282"/><stop offset="0.562" stop-color="#909090"/><stop offset="0.604" stop-color="#9d9d9d"/><stop offset="0.646" stop-color="#a8a8a8"/><stop offset="0.688" stop-color="#b0b0b0"/><stop offset="0.729" stop-color="#b0b0b0"/><stop offset="0.771" stop-color="#b0b0b0"/><stop offset="0.812" stop-color="#c0c0c0"/><stop offset="0.854" stop-color="#dadada"/><stop offset="0.896" stop-color="#e4e4e4"/><stop offset="0.938" stop-color="#dbdbdb"/><stop offset="0.979" stop-color="#cccccc"/></linearGradient>
<linearGradient id="r44" x1="0" y1="0" x2="0" y2="1"><stop offset="0.021" stop-color="#111111"/><stop offset="0.062" stop-color="#181818"/><stop offset="0.104" stop-color="#222222"/><stop offset="0.146" stop-color="#2e2e2e"/><stop offset="0.188" stop-color="#373737"/><stop offset="0.229" stop-color="#3a3a3a"/><stop offset="0.271" stop-color="#3d3d3d"/><stop offset="0.312" stop-color="#4d4d4d"/><stop offset="0.354" stop-color="#666666"/><stop offset="0.396" stop-color="#747474"/><stop offset="0.438" stop-color="#747474"/><stop offset="0.479" stop-color="#767676"/><stop offset="0.521" stop-color="#808080"/><stop offset="0.562" stop-color="#8c8c8c"/><stop offset="0.604" stop-color="#979797"/><stop offset="0.646" stop-color="#a3a3a3"/><stop offset="0.688" stop-color="#acacac"/><stop offset="0.729" stop-color="#adadad"/><stop offset="0.771" stop-color="#acacac"/><stop offset="0.812" stop-color="#bababa"/><stop offset="0.854" stop-color="#d1d1d1"/><stop offset="0.896" stop-color="#dbdbdb"/><stop offset="0.938" stop-color="#d1d1d1"/><stop offset="0.979" stop-color="#c3c3c3"/></linearGradient>
<linearGradient id="r45" x1="0" y1="0" x2="0" y2="1"><stop offset="0.021" stop-color="#151515"/><stop offset="0.062" stop-color="#1b1b1b"/><stop offset="0.104" stop-color="#252525"/><stop offset="0.146" stop-color="#303030"/><stop offset="0.188" stop-color="#3a3a3a"/><stop offset="0.229" stop-color="#3e3e3e"/><stop offset="0.271" stop-color="#424242"/><stop offset="0.312" stop-color="#525252"/><stop offset="0.354" stop-color="#6b6b6b"/><stop offset="0.396" stop-color="#777777"/><stop offset="0.438" stop-color="#757575"/><stop offset="0.479" stop-color="#777777"/><stop offset="0.521" stop-color="#808080"/><stop offset="0.562" stop-color="#8b8b8b"/><stop offset="0.604" stop-color="#949494"/><stop offset="0.646" stop-color="#9f9f9f"/><stop offset="0.688" stop-color="#a8a8a8"/><stop offset="0.729" stop-color="#a9a9a9"/><stop offset="0.771" stop-color="#a6a6a6"/><stop offset="0.812" stop-color="#b0b0b0"/><stop offset="0.854" stop-color="#c5c5c5"/><stop offset="0.896" stop-color="#cfcfcf"/><stop offset="0.938" stop-color="#c8c8c8"/><stop offset="0.979" stop-color="#bdbdbd"/></linearGradient>
<linearGradient id="r46" x1="0" y1="0" x2="0" y2="1"><stop offset="0.021" stop-color="#212121"/><stop offset="0.062" stop-color="#262626"/><stop offset="0.104" stop-color="#2f2f2f"/><stop offset="0.146" stop-color="#383838"/><stop offset="0.188" stop-color="#404040"/><stop offset="0.229" stop-color="#444444"/><stop offset="0.271" stop-color="#474747"/><stop offset="0.312" stop-color="#565656"/><stop offset="0.354" stop-color="#6e6e6e"/><stop offset="0.396" stop-color="#787878"/><stop offset="0.438" stop-color="#757575"/><stop offset="0.479" stop-color="#757575"/><stop offset="0.521" stop-color="#7f7f7f"/><stop offset="0.562" stop-color="#888888"/><stop offset="0.604" stop-color="#8f8f8f"/><stop offset="0.646" stop-color="#999999"/><stop offset="0.688" stop-color="#a3a3a3"/><stop offset="0.729" stop-color="#a5a5a5"/><stop offset="0.771" stop-color="#a1a1a1"/><stop offset="0.812" stop-color="#aaaaaa"/><stop offset="0.854" stop-color="#bcbcbc"/><stop offset="0.896" stop-color="#c4c4c4"/><stop offset="0.938" stop-color="#bdbdbd"/><stop offset="0.979" stop-color="#b4b4b4"/></linearGradient>
<linearGradient id="r47" x1="0" y1="0" x2="0" y2="1"><stop offset="0.021" stop-color="#2b2b2b"/><stop offset="0.062" stop-color="#2f2f2f"/><stop offset="0.104" stop-color="#363636"/><stop offset="0.146" stop-color="#3e3e3e"/><stop offset="0.188" stop-color="#464646"/><stop offset="0.229" stop-color="#494949"/><stop offset="0.271" stop-color="#4c4c4c"/><stop offset="0.312" stop-color="#5a5a5a"/><stop offset="0.354" stop-color="#6e6e6e"/><stop offset="0.396" stop-color="#767676"/><stop offset="0.438" stop-color="#717171"/><stop offset="0.479" stop-color="#727272"/><stop offset="0.521" stop-color="#7c7c7c"/><stop offset="0.562" stop-color="#848484"/><stop offset="0.604" stop-color="#898989"/><stop offset="0.646" stop-color="#909090"/><stop offset="0.688" stop-color="#9a9a9a"/><stop offset="0.729" stop-color="#9d9d9d"/><stop offset="0.771" stop-color="#999999"/><stop offset="0.812" stop-color="#9f9f9f"/><stop offset="0.854" stop-color="#aeaeae"/><stop offset="0.896" stop-color="#b6b6b6"/><stop offset="0.938" stop-color="#b2b2b2"/><stop offset="0.979" stop-color="#acacac"/></linearGradient>
<linearGradient id="r48" x1="0" y1="0" x2="0" y2="1"><stop offset="0.021" stop-color="#2f2f2f"/><stop offset="0.062" stop-color="#333333"/><stop offset="0.104" stop-color="#393939"/><stop offset="0.146" stop-color="#404040"/><stop offset="0.188" stop-color="#474747"/><stop offset="0.229" stop-color="#4a4a4a"/><stop offset="0.271" stop-color="#4e4e4e"/><stop offset="0.312" stop-color="#5b5b5b"/><stop offset="0.354" stop-color="#6e6e6e"/><stop offset="0.396" stop-color="#747474"/><stop offset="0.438" stop-color="#6f6f6f"/><stop offset="0.479" stop-color="#717171"/><stop offset="0.521" stop-color="#7c7c7c"/><stop offset="0.562" stop-color="#848484"/><stop offset="0.604" stop-color="#868686"/><stop offset="0.646" stop-color="#8c8c8c"/><stop offset="0.688" stop-color="#979797"/><stop offset="0.729" stop-color="#9a9a9a"/><stop offset="0.771" stop-color="#999999"/><stop offset="0.812" stop-color="#9d9d9d"/><stop offset="0.854" stop-color="#a9a9a9"/><stop offset="0.896" stop-color="#b0b0b0"/><stop offset="0.938" stop-color="#aeaeae"/><stop offset="0.979" stop-color="#a9a9a9"/></linearGradient>
<linearGradient id="r49" x1="0" y1="0" x2="0" y2="1"><stop offset="0.021" stop-color="#393939"/><stop offset="0.062" stop-color="#3c3c3c"/><stop offset="0.104" stop-color="#424242"/><stop offset="0.146" stop-color="#494949"/><stop offset="0.188" stop-color="#4e4e4e"/><stop offset="0.229" stop-color="#525252"/><stop offset="0.271" stop-color="#565656"/><stop offset="0.312" stop-color="#616161"/><stop offset="0.354" stop-color="#707070"/><stop offset="0.396" stop-color="#737373"/><stop offset="0.438" stop-color="#6e6e6e"/><stop offset="0.479" stop-color="#707070"/><stop offset="0.521" stop-color="#7b7b7b"/><stop offset="0.562" stop-color="#838383"/><stop offset="0.604" stop-color="#848484"/><stop offset="0.646" stop-color="#898989"/><stop offset="0.688" stop-color="#929292"/><stop offset="0.729" stop-color="#969696"/><stop offset="0.771" stop-color="#969696"/><stop offset="0.812" stop-color="#9a9a9a"/><stop offset="0.854" stop-color="#a2a2a2"/><stop offset="0.896" stop-color="#a8a8a8"/><stop offset="0.938" stop-color="#a7a7a7"/><stop offset="0.979" stop-color="#a4a4a4"/></linearGradient>
<linearGradient id="r50" x1="0" y1="0" x2="0" y2="1"><stop offset="0.021" stop-color="#3e3e3e"/><stop offset="0.062" stop-color="#424242"/><stop offset="0.104" stop-color="#484848"/><stop offset="0.146" stop-color="#4e4e4e"/><stop offset="0.188" stop-color="#545454"/><stop offset="0.229" stop-color="#585858"/><stop offset="0.271" stop-color="#5e5e5e"/><stop offset="0.312" stop-color="#686868"/><stop offset="0.354" stop-color="#727272"/><stop offset="0.396" stop-color="#737373"/><stop offset="0.438" stop-color="#6d6d6d"/><stop offset="0.479" stop-color="#6f6f6f"/><stop offset="0.521" stop-color="#7a7a7a"/><stop offset="0.562" stop-color="#818181"/><stop offset="0.604" stop-color="#828282"/><stop offset="0.646" stop-color="#878787"/><stop offset="0.688" stop-color="#8f8f8f"/><stop offset="0.729" stop-color="#949494"/><stop offset="0.771" stop-color="#959595"/><stop offset="0.812" stop-color="#979797"/><stop offset="0.854" stop-color="#9c9c9c"/><stop offset="0.896" stop-color="#9f9f9f"/><stop offset="0.938" stop-color="#9f9f9f"/><stop offset="0.979" stop-color="#9d9d9d"/></linearGradient>
<linearGradient id="r51" x1="0" y1="0" x2="0" y2="1"><stop offset="0.021" stop-color="#454545"/><stop offset="0.062" stop-color="#494949"/><stop offset="0.104" stop-color="#4f4f4f"/><stop offset="0.146" stop-color="#535353"/><stop offset="0.188" stop-color="#565656"/><stop offset="0.229" stop-color="#5b5b5b"/><stop offset="0.271" stop-color="#636363"/><stop offset="0.312" stop-color="#6d6d6d"/><stop offset="0.354" stop-color="#747474"/><stop offset="0.396" stop-color="#747474"/><stop offset="0.438" stop-color="#707070"/><stop offset="0.479" stop-color="#727272"/><stop offset="0.521" stop-color="#7c7c7c"/><stop offset="0.562" stop-color="#838383"/><stop offset="0.604" stop-color="#858585"/><stop offset="0.646" stop-color="#898989"/><stop offset="0.688" stop-color="#909090"/><stop offset="0.729" stop-color="#959595"/><stop offset="0.771" stop-color="#989898"/><stop offset="0.812" stop-color="#999999"/><stop offset="0.854" stop-color="#9b9b9b"/><stop offset="0.896" stop-color="#9b9b9b"/><stop offset="0.938" stop-color="#999999"/><stop offset="0.979" stop-color="#989898"/></linearGradient>
<linearGradient id="r52" x1="0" y1="0" x2="0" y2="1"><stop offset="0.021" stop-color="#484848"/><stop offset="0.062" stop-color="#4e4e4e"/><stop offset="0.104" stop-color="#545454"/><stop offset="0.146" stop-color="#575757"/><stop offset="0.188" stop-color="#575757"/><stop offset="0.229" stop-color="#5c5c5c"/><stop offset="0.271" stop-color="#666666"/><stop offset="0.312" stop-color="#6f6f6f"/><stop offset="0.354" stop-color="#747474"/><stop offset="0.396" stop-color="#737373"/><stop offset="0.438" stop-color="#707070"/><stop offset="0.479" stop-color="#737373"/><stop offset="0.521" stop-color="#7b7b7b"/><stop offset="0.562" stop-color="#828282"/><stop offset="0.604" stop-color="#868686"/><stop offset="0.646" stop-color="#8b8b8b"/><stop offset="0.688" stop-color="#919191"/><stop offset="0.729" stop-color="#979797"/><stop offset="0.771" stop-color="#9c9c9c"/><stop offset="0.812" stop-color="#9e9e9e"/><stop offset="0.854" stop-color="#9d9d9d"/><stop offset="0.896" stop-color="#9b9b9b"/><stop offset="0.938" stop-color="#989898"/><stop offset="0.979" stop-color="#979797"/></linearGradient>
<linearGradient id="r53" x1="0" y1="0" x2="0" y2="1"><stop offset="0.021" stop-color="#454545"/><stop offset="0.062" stop-color="#4d4d4d"/><stop offset="0.104" stop-color="#565656"/><stop offset="0.146" stop-color="#5a5a5a"/><stop offset="0.188" stop-color="#5a5a5a"/><stop offset="0.229" stop-color="#5e5e5e"/><stop offset="0.271" stop-color="#696969"/><stop offset="0.312" stop-color="#717171"/><stop offset="0.354" stop-color="#737373"/><stop offset="0.396" stop-color="#737373"/><stop offset="0.438" stop-color="#727272"/><stop offset="0.479" stop-color="#767676"/><stop offset="0.521" stop-color="#7d7d7d"/><stop offset="0.562" stop-color="#838383"/><stop offset="0.604" stop-color="#888888"/><stop offset="0.646" stop-color="#8c8c8c"/><stop offset="0.688" stop-color="#909090"/><stop offset="0.729" stop-color="#979797"/><stop offset="0.771" stop-color="#9d9d9d"/><stop offset="0.812" stop-color="#9e9e9e"/><stop offset="0.854" stop-color="#9b9b9b"/><stop offset="0.896" stop-color="#979797"/><stop offset="0.938" stop-color="#939393"/><stop offset="0.979" stop-color="#929292"/></linearGradient>
<linearGradient id="r54" x1="0" y1="0" x2="0" y2="1"><stop offset="0.021" stop-color="#474747"/><stop offset="0.062" stop-color="#505050"/><stop offset="0.104" stop-color="#5a5a5a"/><stop offset="0.146" stop-color="#5c5c5c"/><stop offset="0.188" stop-color="#5a5a5a"/><stop offset="0.229" stop-color="#5f5f5f"/><stop offset="0.271" stop-color="#6a6a6a"/><stop offset="0.312" stop-color="#737373"/><stop offset="0.354" stop-color="#747474"/><stop offset="0.396" stop-color="#737373"/><stop offset="0.438" stop-color="#747474"/><stop offset="0.479" stop-color="#767676"/><stop offset="0.521" stop-color="#7a7a7a"/><stop offset="0.562" stop-color="#808080"/><stop offset="0.604" stop-color="#868686"/><stop offset="0.646" stop-color="#8b8b8b"/><stop offset="0.688" stop-color="#8f8f8f"/><stop offset="0.729" stop-color="#969696"/><stop offset="0.771" stop-color="#9d9d9d"/><stop offset="0.812" stop-color="#9f9f9f"/><stop offset="0.854" stop-color="#9a9a9a"/><stop offset="0.896" stop-color="#959595"/><stop offset="0.938" stop-color="#919191"/><stop offset="0.979" stop-color="#8f8f8f"/></linearGradient>
<linearGradient id="r55" x1="0" y1="0" x2="0" y2="1"><stop offset="0.021" stop-color="#4e4e4e"/><stop offset="0.062" stop-color="#575757"/><stop offset="0.104" stop-color="#5f5f5f"/><stop offset="0.146" stop-color="#5f5f5f"/><stop offset="0.188" stop-color="#595959"/><stop offset="0.229" stop-color="#5d5d5d"/><stop offset="0.271" stop-color="#6b6b6b"/><stop offset="0.312" stop-color="#747474"/><stop offset="0.354" stop-color="#767676"/><stop offset="0.396" stop-color="#767676"/><stop offset="0.438" stop-color="#767676"/><stop offset="0.479" stop-color="#777777"/><stop offset="0.521" stop-color="#787878"/><stop offset="0.562" stop-color="#7d7d7d"/><stop offset="0.604" stop-color="#858585"/><stop offset="0.646" stop-color="#8c8c8c"/><stop offset="0.688" stop-color="#929292"/><stop offset="0.729" stop-color="#999999"/><stop offset="0.771" stop-color="#a0a0a0"/><stop offset="0.812" stop-color="#9f9f9f"/><stop offset="0.854" stop-color="#999999"/><stop offset="0.896" stop-color="#919191"/><stop offset="0.938" stop-color="#8c8c8c"/><stop offset="0.979" stop-color="#898989"/></linearGradient>
<linearGradient id="r56" x1="0" y1="0" x2="0" y2="1"><stop offset="0.021" stop-color="#515151"/><stop offset="0.062" stop-color="#5b5b5b"/><stop offset="0.104" stop-color="#656565"/><stop offset="0.146" stop-color="#646464"/><stop offset="0.188" stop-color="#5e5e5e"/><stop offset="0.229" stop-color="#616161"/><stop offset="0.271" stop-color="#6f6f6f"/><stop offset="0.312" stop-color="#7b7b7b"/><stop offset="0.354" stop-color="#7d7d7d"/><stop offset="0.396" stop-color="#7d7d7d"/><stop offset="0.438" stop-color="#7d7d7d"/><stop offset="0.479" stop-color="#7c7c7c"/><stop offset="0.521" stop-color="#7c7c7c"/><stop offset="0.562" stop-color="#818181"/><stop offset="0.604" stop-color="#8b8b8b"/><stop offset="0.646" stop-color="#949494"/><stop offset="0.688" stop-color="#9b9b9b"/><stop offset="0.729" stop-color="#a0a0a0"/><stop offset="0.771" stop-color="#a4a4a4"/><stop offset="0.812" stop-color="#a2a2a2"/><stop offset="0.854" stop-color="#9c9c9c"/><stop offset="0.896" stop-color="#949494"/><stop offset="0.938" stop-color="#8e8e8e"/><stop offset="0.979" stop-color="#8a8a8a"/></linearGradient>
<linearGradient id="r57" x1="0" y1="0" x2="0" y2="1"><stop offset="0.021" stop-color="#525252"/><stop offset="0.062" stop-color="#5d5d5d"/><stop offset="0.104" stop-color="#666666"/><stop offset="0.146" stop-color="#646464"/><stop offset="0.188" stop-color="#5b5b5b"/><stop offset="0.229" stop-color="#5c5c5c"/><stop offset="0.271" stop-color="#6b6b6b"/><stop offset="0.312" stop-color="#787878"/><stop offset="0.354" stop-color="#7e7e7e"/><stop offset="0.396" stop-color="#808080"/><stop offset="0.438" stop-color="#7f7f7f"/><stop offset="0.479" stop-color="#7d7d7d"/><stop offset="0.521" stop-color="#7c7c7c"/><stop offset="0.562" stop-color="#808080"/><stop offset="0.604" stop-color="#898989"/><stop offset="0.646" stop-color="#929292"/><stop offset="0.688" stop-color="#999999"/><stop offset="0.729" stop-color="#9d9d9d"/><stop offset="0.771" stop-color="#9e9e9e"/><stop offset="0.812" stop-color="#9c9c9c"/><stop offset="0.854" stop-color="#989898"/><stop offset="0.896" stop-color="#939393"/><stop offset="0.938" stop-color="#8f8f8f"/><stop offset="0.979" stop-color="#8b8b8b"/></linearGradient>
<linearGradient id="r58" x1="0" y1="0" x2="0" y2="1"><stop offset="0.021" stop-color="#555555"/><stop offset="0.062" stop-color="#606060"/><stop offset="0.104" stop-color="#686868"/><stop offset="0.146" stop-color="#636363"/><stop offset="0.188" stop-color="#575757"/><stop offset="0.229" stop-color="#585858"/><stop offset="0.271" stop-color="#676767"/><stop offset="0.312" stop-color="#787878"/><stop offset="0.354" stop-color="#848484"/><stop offset="0.396" stop-color="#898989"/><stop offset="0.438" stop-color="#888888"/><stop offset="0.479" stop-color="#858585"/><stop offset="0.521" stop-color="#828282"/><stop offset="0.562" stop-color="#848484"/><stop offset="0.604" stop-color="#8b8b8b"/><stop offset="0.646" stop-color="#949494"/><stop offset="0.688" stop-color="#9b9b9b"/><stop offset="0.729" stop-color="#9c9c9c"/><stop offset="0.771" stop-color="#999999"/><stop offset="0.812" stop-color="#959595"/><stop offset="0.854" stop-color="#939393"/><stop offset="0.896" stop-color="#8f8f8f"/><stop offset="0.938" stop-color="#8a8a8a"/><stop offset="0.979" stop-color="#878787"/></linearGradient>
<linearGradient id="r59" x1="0" y1="0" x2="0" y2="1"><stop offset="0.021" stop-color="#595959"/><stop offset="0.062" stop-color="#646464"/><stop offset="0.104" stop-color="#6d6d6d"/><stop offset="0.146" stop-color="#686868"/><stop offset="0.188" stop-color="#5a5a5a"/><stop offset="0.229" stop-color="#585858"/><stop offset="0.271" stop-color="#666666"/><stop offset="0.312" stop-color="#787878"/><stop offset="0.354" stop-color="#868686"/><stop offset="0.396" stop-color="#8d8d8d"/><stop offset="0.438" stop-color="#8c8c8c"/><stop offset="0.479" stop-color="#888888"/><stop offset="0.521" stop-color="#848484"/><stop offset="0.562" stop-color="#848484"/><stop offset="0.604" stop-color="#8a8a8a"/><stop offset="0.646" stop-color="#939393"/><stop offset="0.688" stop-color="#9c9c9c"/><stop offset="0.729" stop-color="#9d9d9d"/><stop offset="0.771" stop-color="#979797"/><stop offset="0.812" stop-color="#929292"/><stop offset="0.854" stop-color="#909090"/><stop offset="0.896" stop-color="#8e8e8e"/><stop offset="0.938" stop-color="#8a8a8a"/><stop offset="0.979" stop-color="#868686"/></linearGradient>
<linearGradient id="r60" x1="0" y1="0" x2="0" y2="1"><stop offset="0.021" stop-color="#5d5d5d"/><stop offset="0.062" stop-color="#686868"/><stop offset="0.104" stop-color="#717171"/><stop offset="0.146" stop-color="#6c6c6c"/><stop offset="0.188" stop-color="#5d5d5d"/><stop offset="0.229" stop-color="#5a5a5a"/><stop offset="0.271" stop-color="#676767"/><stop offset="0.312" stop-color="#7a7a7a"/><stop offset="0.354" stop-color="#8a8a8a"/><stop offset="0.396" stop-color="#919191"/><stop offset="0.438" stop-color="#8e8e8e"/><stop offset="0.479" stop-color="#878787"/><stop offset="0.521" stop-color="#828282"/><stop offset="0.562" stop-color="#818181"/><stop offset="0.604" stop-color="#878787"/><stop offset="0.646" stop-color="#919191"/><stop offset="0.688" stop-color="#9c9c9c"/><stop offset="0.729" stop-color="#9e9e9e"/><stop offset="0.771" stop-color="#969696"/><stop offset="0.812" stop-color="#919191"/><stop offset="0.854" stop-color="#909090"/><stop offset="0.896" stop-color="#8f8f8f"/><stop offset="0.938" stop-color="#8c8c8c"/><stop offset="0.979" stop-color="#898989"/></linearGradient>
<linearGradient id="r61" x1="0" y1="0" x2="0" y2="1"><stop offset="0.021" stop-color="#606060"/><stop offset="0.062" stop-color="#6d6d6d"/><stop offset="0.104" stop-color="#767676"/><stop offset="0.146" stop-color="#727272"/><stop offset="0.188" stop-color="#646464"/><stop offset="0.229" stop-color="#5e5e5e"/><stop offset="0.271" stop-color="#686868"/><stop offset="0.312" stop-color="#7a7a7a"/><stop offset="0.354" stop-color="#8c8c8c"/><stop offset="0.396" stop-color="#939393"/><stop offset="0.438" stop-color="#8f8f8f"/><stop offset="0.479" stop-color="#878787"/><stop offset="0.521" stop-color="#818181"/><stop offset="0.562" stop-color="#7f7f7f"/><stop offset="0.604" stop-color="#838383"/><stop offset="0.646" stop-color="#8e8e8e"/><stop offset="0.688" stop-color="#999999"/><stop offset="0.729" stop-color="#9b9b9b"/><stop offset="0.771" stop-color="#929292"/><stop offset="0.812" stop-color="#8b8b8b"/><stop offset="0.854" stop-color="#8a8a8a"/><stop offset="0.896" stop-color="#898989"/><stop offset="0.938" stop-color="#888888"/><stop offset="0.979" stop-color="#868686"/></linearGradient>
<linearGradient id="r62" x1="0" y1="0" x2="0" y2="1"><stop offset="0.021" stop-color="#616161"/><stop offset="0.062" stop-color="#6e6e6e"/><stop offset="0.104" stop-color="#787878"/><stop offset="0.146" stop-color="#747474"/><stop offset="0.188" stop-color="#656565"/><stop offset="0.229" stop-color="#5d5d5d"/><stop offset="0.271" stop-color="#656565"/><stop offset="0.312" stop-color="#787878"/><stop offset="0.354" stop-color="#8c8c8c"/><stop offset="0.396" stop-color="#959595"/><stop offset="0.438" stop-color="#909090"/><stop offset="0.479" stop-color="#888888"/><stop offset="0.521" stop-color="#818181"/><stop offset="0.562" stop-color="#7f7f7f"/><stop offset="0.604" stop-color="#838383"/><stop offset="0.646" stop-color="#8e8e8e"/><stop offset="0.688" stop-color="#9a9a9a"/><stop offset="0.729" stop-color="#9b9b9b"/><stop offset="0.771" stop-color="#939393"/><stop offset="0.812" stop-color="#8c8c8c"/><stop offset="0.854" stop-color="#888888"/><stop offset="0.896" stop-color="#878787"/><stop offset="0.938" stop-color="#868686"/><stop offset="0.979" stop-color="#858585"/></linearGradient>
<linearGradient id="r63" x1="0" y1="0" x2="0" y2="1"><stop offset="0.021" stop-color="#696969"/><stop offset="0.062" stop-color="#757575"/><stop offset="0.104" stop-color="#7f7f7f"/><stop offset="0.146" stop-color="#7a7a7a"/><stop offset="0.188" stop-color="#6a6a6a"/><stop offset="0.229" stop-color="#606060"/><stop offset="0.271" stop-color="#656565"/><stop offset="0.312" stop-color="#777777"/><stop offset="0.354" stop-color="#8c8c8c"/><stop offset="0.396" stop-color="#969696"/><stop offset="0.438" stop-color="#919191"/><stop offset="0.479" stop-color="#898989"/><stop offset="0.521" stop-color="#828282"/><stop offset="0.562" stop-color="#808080"/><stop offset="0.604" stop-color="#848484"/><stop offset="0.646" stop-color="#8d8d8d"/><stop offset="0.688" stop-color="#979797"/><stop offset="0.729" stop-color="#9a9a9a"/><stop offset="0.771" stop-color="#949494"/><stop offset="0.812" stop-color="#8d8d8d"/><stop offset="0.854" stop-color="#888888"/><stop offset="0.896" stop-color="#878787"/><stop offset="0.938" stop-color="#878787"/><stop offset="0.979" stop-color="#898989"/></linearGradient>
<linearGradient id="r64" x1="0" y1="0" x2="0" y2="1"><stop offset="0.021" stop-color="#686868"/><stop offset="0.062" stop-color="#767676"/><stop offset="0.104" stop-color="#838383"/><stop offset="0.146" stop-color="#818181"/><stop offset="0.188" stop-color="#727272"/><stop offset="0.229" stop-color="#676767"/><stop offset="0.271" stop-color="#686868"/><stop offset="0.312" stop-color="#787878"/><stop offset="0.354" stop-color="#8c8c8c"/><stop offset="0.396" stop-color="#969696"/><stop offset="0.438" stop-color="#929292"/><stop offset="0.479" stop-color="#8a8a8a"/><stop offset="0.521" stop-color="#848484"/><stop offset="0.562" stop-color="#818181"/><stop offset="0.604" stop-color="#848484"/><stop offset="0.646" stop-color="#8b8b8b"/><stop offset="0.688" stop-color="#949494"/><stop offset="0.729" stop-color="#989898"/><stop offset="0.771" stop-color="#959595"/><stop offset="0.812" stop-color="#8e8e8e"/><stop offset="0.854" stop-color="#868686"/><stop offset="0.896" stop-color="#828282"/><stop offset="0.938" stop-color="#838383"/><stop offset="0.979" stop-color="#858585"/></linearGradient>
<linearGradient id="r65" x1="0" y1="0" x2="0" y2="1"><stop offset="0.021" stop-color="#666666"/><stop offset="0.062" stop-color="#757575"/><stop offset="0.104" stop-color="#848484"/><stop offset="0.146" stop-color="#848484"/><stop offset="0.188" stop-color="#767676"/><stop offset="0.229" stop-color="#6a6a6a"/><stop offset="0.271" stop-color="#686868"/><stop offset="0.312" stop-color="#757575"/><stop offset="0.354" stop-color="#888888"/><stop offset="0.396" stop-color="#919191"/><stop offset="0.438" stop-color="#8d8d8d"/><stop offset="0.479" stop-color="#858585"/><stop offset="0.521" stop-color="#818181"/><stop offset="0.562" stop-color="#808080"/><stop offset="0.604" stop-color="#838383"/><stop offset="0.646" stop-color="#898989"/><stop offset="0.688" stop-color="#909090"/><stop offset="0.729" stop-color="#949494"/><stop offset="0.771" stop-color="#959595"/><stop offset="0.812" stop-color="#8e8e8e"/><stop offset="0.854" stop-color="#848484"/><stop offset="0.896" stop-color="#7f7f7f"/><stop offset="0.938" stop-color="#828282"/><stop offset="0.979" stop-color="#868686"/></linearGradient>
<linearGradient id="r66" x1="0" y1="0" x2="0" y2="1"><stop offset="0.021" stop-color="#656565"/><stop offset="0.062" stop-color="#767676"/><stop offset="0.104" stop-color="#868686"/><stop offset="0.146" stop-color="#898989"/><stop offset="0.188" stop-color="#7d7d7d"/><stop offset="0.229" stop-color="#707070"/><stop offset="0.271" stop-color="#6b6b6b"/><stop offset="0.312" stop-color="#747474"/><stop offset="0.354" stop-color="#868686"/><stop offset="0.396" stop-color="#8e8e8e"/><stop offset="0.438" stop-color="#8b8b8b"/><stop offset="0.479" stop-color="#838383"/><stop offset="0.521" stop-color="#7e7e7e"/><stop offset="0.562" stop-color="#7e7e7e"/><stop offset="0.604" stop-color="#808080"/><stop offset="0.646" stop-color="#848484"/><stop offset="0.688" stop-color="#898989"/><stop offset="0.729" stop-color="#8f8f8f"/><stop offset="0.771" stop-color="#939393"/><stop offset="0.812" stop-color="#8d8d8d"/><stop offset="0.854" stop-color="#808080"/><stop offset="0.896" stop-color="#7b7b7b"/><stop offset="0.938" stop-color="#808080"/><stop offset="0.979" stop-color="#878787"/></linearGradient>
<linearGradient id="r67" x1="0" y1="0" x2="0" y2="1"><stop offset="0.021" stop-color="#646464"/><stop offset="0.062" stop-color="#767676"/><stop offset="0.104" stop-color="#888888"/><stop offset="0.146" stop-color="#8c8c8c"/><stop offset="0.188" stop-color="#828282"/><stop offset="0.229" stop-color="#747474"/><stop offset="0.271" stop-color="#6e6e6e"/><stop offset="0.312" stop-color="#757575"/><stop offset="0.354" stop-color="#858585"/><stop offset="0.396" stop-color="#8d8d8d"/><stop offset="0.438" stop-color="#898989"/><stop offset="0.479" stop-color="#828282"/><stop offset="0.521" stop-color="#7c7c7c"/><stop offset="0.562" stop-color="#7b7b7b"/><stop offset="0.604" stop-color="#7e7e7e"/><stop offset="0.646" stop-color="#818181"/><stop offset="0.688" stop-color="#858585"/><stop offset="0.729" stop-color="#8d8d8d"/><stop offset="0.771" stop-color="#969696"/><stop offset="0.812" stop-color="#919191"/><stop offset="0.854" stop-color="#838383"/><stop offset="0.896" stop-color="#7c7c7c"/><stop offset="0.938" stop-color="#818181"/><stop offset="0.979" stop-color="#898989"/></linearGradient>
<linearGradient id="r68" x1="0" y1="0" x2="0" y2="1"><stop offset="0.021" stop-color="#666666"/><stop offset="0.062" stop-color="#787878"/><stop offset="0.104" stop-color="#8b8b8b"/><stop offset="0.146" stop-color="#909090"/><stop offset="0.188" stop-color="#868686"/><stop offset="0.229" stop-color="#787878"/><stop offset="0.271" stop-color="#6f6f6f"/><stop offset="0.312" stop-color="#747474"/><stop offset="0.354" stop-color="#838383"/><stop offset="0.396" stop-color="#8b8b8b"/><stop offset="0.438" stop-color="#888888"/><stop offset="0.479" stop-color="#818181"/><stop offset="0.521" stop-color="#7b7b7b"/><stop offset="0.562" stop-color="#7b7b7b"/><stop offset="0.604" stop-color="#7e7e7e"/><stop offset="0.646" stop-color="#818181"/><stop offset="0.688" stop-color="#848484"/><stop offset="0.729" stop-color="#8f8f8f"/><stop offset="0.771" stop-color="#9a9a9a"/><stop offset="0.812" stop-color="#969696"/><stop offset="0.854" stop-color="#848484"/><stop offset="0.896" stop-color="#7b7b7b"/><stop offset="0.938" stop-color="#818181"/><stop offset="0.979" stop-color="#8a8a8a"/></linearGradient>
<linearGradient id="r69" x1="0" y1="0" x2="0" y2="1"><stop offset="0.021" stop-color="#676767"/><stop offset="0.062" stop-color="#797979"/><stop offset="0.104" stop-color="#8c8c8c"/><stop offset="0.146" stop-color="#919191"/><stop offset="0.188" stop-color="#878787"/><stop offset="0.229" stop-color="#787878"/><stop offset="0.271" stop-color="#6e6e6e"/><stop offset="0.312" stop-color="#727272"/><stop offset="0.354" stop-color="#818181"/><stop offset="0.396" stop-color="#898989"/><stop offset="0.438" stop-color="#878787"/><stop offset="0.479" stop-color="#818181"/><stop offset="0.521" stop-color="#7c7c7c"/><stop offset="0.562" stop-color="#7c7c7c"/><stop offset="0.604" stop-color="#7f7f7f"/><stop offset="0.646" stop-color="#818181"/><stop offset="0.688" stop-color="#838383"/><stop offset="0.729" stop-color="#8e8e8e"/><stop offset="0.771" stop-color="#9c9c9c"/><stop offset="0.812" stop-color="#989898"/><stop offset="0.854" stop-color="#858585"/><stop offset="0.896" stop-color="#7c7c7c"/><stop offset="0.938" stop-color="#828282"/><stop offset="0.979" stop-color="#8c8c8c"/></linearGradient>
<filter id="tex2" x="388.1" y="662.40" width="209.70" height="209.70" filterUnits="userSpaceOnUse" color-interpolation-filters="sRGB"><feTurbulence type="fractalNoise" baseFrequency="0.28 0.018" numOctaves="2" seed="13"/><feColorMatrix type="matrix" values="0.22 0 0 0 0.390  0.22 0 0 0 0.390  0.22 0 0 0 0.390  0 0 0 0 1"/></filter>
<linearGradient id="cbg2" x1="0" y1="0" x2="0" y2="1"><stop offset="0" stop-color="#fff"/><stop offset="0.5" stop-color="#808080"/><stop offset="1" stop-color="#000"/></linearGradient>
<filter id="soft" x="0" y="0" width="685" height="912" filterUnits="userSpaceOnUse"><feGaussianBlur stdDeviation="0.5"/></filter>
<filter id="soft2" x="0" y="0" width="685" height="912" filterUnits="userSpaceOnUse"><feGaussianBlur stdDeviation="0.9"/></filter>
<radialGradient id="facegr" cx="0.5" cy="0.42" r="0.6"><stop offset="0" stop-color="#a8a8a8"/><stop offset="0.7" stop-color="#9c9c9c"/><stop offset="1" stop-color="#888"/></radialGradient>
<linearGradient id="barg" x1="0" y1="0" x2="1" y2="0"><stop offset="0" stop-color="#fff" stop-opacity="0"/><stop offset="0.5" stop-color="#fff" stop-opacity="1"/><stop offset="1" stop-color="#fff" stop-opacity="0"/></linearGradient>
</defs>
<rect width="685" height="912" fill="#fff"/>
<rect x="388.10" y="47.30" width="3.35" height="209.70" fill="url(#p0)"/>
<rect x="391.10" y="47.30" width="3.35" height="209.70" fill="url(#p1)"/>
<rect x="394.09" y="47.30" width="3.35" height="209.70" fill="url(#p2)"/>
<rect x="397.09" y="47.30" width="3.35" height="209.70" fill="url(#p3)"/>
<rect x="400.08" y="47.30" width="3.35" height="209.70" fill="url(#p4)"/>
<rect x="403.08" y="47.30" width="3.35" height="209.70" fill="url(#p5)"/>
<rect x="406.07" y="47.30" width="3.35" height="209.70" fill="url(#p6)"/>
<rect x="409.07" y="47.30" width="3.35" height="209.70" fill="url(#p7)"/>
<rect x="412.07" y="47.30" width="3.35" height="209.70" fill="url(#p8)"/>
<rect x="415.06" y="47.30" width="3.35" height="209.70" fill="url(#p9)"/>
<rect x="418.06" y="47.30" width="3.35" height="209.70" fill="url(#p10)"/>
<rect x="421.05" y="47.30" width="3.35" height="209.70" fill="url(#p11)"/>
<rect x="424.05" y="47.30" width="3.35" height="209.70" fill="url(#p12)"/>
<rect x="427.04" y="47.30" width="3.35" height="209.70" fill="url(#p13)"/>
<rect x="430.04" y="47.30" width="3.35" height="209.70" fill="url(#p14)"/>
<rect x="433.04" y="47.30" width="3.35" height="209.70" fill="url(#p15)"/>
<rect x="436.03" y="47.30" width="3.35" height="209.70" fill="url(#p16)"/>
<rect x="439.03" y="47.30" width="3.35" height="209.70" fill="url(#p17)"/>
<rect x="442.02" y="47.30" width="3.35" height="209.70" fill="url(#p18)"/>
<rect x="445.02" y="47.30" width="3.35" height="209.70" fill="url(#p19)"/>
<rect x="448.01" y="47.30" width="3.35" height="209.70" fill="url(#p20)"/>
<rect x="451.01" y="47.30" width="3.35" height="209.70" fill="url(#p21)"/>
<rect x="454.01" y="47.30" width="3.35" height="209.70" fill="url(#p22)"/>
<rect x="457.00" y="47.30" width="3.35" height="209.70" fill="url(#p23)"/>
<rect x="460.00" y="47.30" width="3.35" height="209.70" fill="url(#p24)"/>
<rect x="462.99" y="47.30" width="3.35" height="209.70" fill="url(#p25)"/>
<rect x="465.99" y="47.30" width="3.35" height="209.70" fill="url(#p26)"/>
<rect x="468.98" y="47.30" width="3.35" height="209.70" fill="url(#p27)"/>
<rect x="471.98" y="47.30" width="3.35" height="209.70" fill="url(#p28)"/>
<rect x="474.98" y="47.30" width="3.35" height="209.70" fill="url(#p29)"/>
<rect x="477.97" y="47.30" width="3.35" height="209.70" fill="url(#p30)"/>
<rect x="480.97" y="47.30" width="3.35" height="209.70" fill="url(#p31)"/>
<rect x="483.96" y="47.30" width="3.35" height="209.70" fill="url(#p32)"/>
<rect x="486.96" y="47.30" width="3.35" height="209.70" fill="url(#p33)"/>
<rect x="489.95" y="47.30" width="3.35" height="209.70" fill="url(#p34)"/>
<rect x="492.95" y="47.30" width="3.35" height="209.70" fill="url(#p35)"/>
<rect x="495.95" y="47.30" width="3.35" height="209.70" fill="url(#p36)"/>
<rect x="498.94" y="47.30" width="3.35" height="209.70" fill="url(#p37)"/>
<rect x="501.94" y="47.30" width="3.35" height="209.70" fill="url(#p38)"/>
<rect x="504.93" y="47.30" width="3.35" height="209.70" fill="url(#p39)"/>
<rect x="507.93" y="47.30" width="3.35" height="209.70" fill="url(#p40)"/>
<rect x="510.92" y="47.30" width="3.35" height="209.70" fill="url(#p41)"/>
<rect x="513.92" y="47.30" width="3.35" height="209.70" fill="url(#p42)"/>
<rect x="516.92" y="47.30" width="3.35" height="209.70" fill="url(#p43)"/>
<rect x="519.91" y="47.30" width="3.35" height="209.70" fill="url(#p44)"/>
<rect x="522.91" y="47.30" width="3.35" height="209.70" fill="url(#p45)"/>
<rect x="525.90" y="47.30" width="3.35" height="209.70" fill="url(#p46)"/>
<rect x="528.90" y="47.30" width="3.35" height="209.70" fill="url(#p47)"/>
<rect x="531.89" y="47.30" width="3.35" height="209.70" fill="url(#p48)"/>
<rect x="534.89" y="47.30" width="3.35" height="209.70" fill="url(#p49)"/>
<rect x="537.89" y="47.30" width="3.35" height="209.70" fill="url(#p50)"/>
<rect x="540.88" y="47.30" width="3.35" height="209.70" fill="url(#p51)"/>
<rect x="543.88" y="47.30" width="3.35" height="209.70" fill="url(#p52)"/>
<rect x="546.87" y="47.30" width="3.35" height="209.70" fill="url(#p53)"/>
<rect x="549.87" y="47.30" width="3.35" height="209.70" fill="url(#p54)"/>
<rect x="552.86" y="47.30" width="3.35" height="209.70" fill="url(#p55)"/>
<rect x="555.86" y="47.30" width="3.35" height="209.70" fill="url(#p56)"/>
<rect x="558.86" y="47.30" width="3.35" height="209.70" fill="url(#p57)"/>
<rect x="561.85" y="47.30" width="3.35" height="209.70" fill="url(#p58)"/>
<rect x="564.85" y="47.30" width="3.35" height="209.70" fill="url(#p59)"/>
<rect x="567.84" y="47.30" width="3.35" height="209.70" fill="url(#p60)"/>
<rect x="570.84" y="47.30" width="3.35" height="209.70" fill="url(#p61)"/>
<rect x="573.83" y="47.30" width="3.35" height="209.70" fill="url(#p62)"/>
<rect x="576.83" y="47.30" width="3.35" height="209.70" fill="url(#p63)"/>
<rect x="579.83" y="47.30" width="3.35" height="209.70" fill="url(#p64)"/>
<rect x="582.82" y="47.30" width="3.35" height="209.70" fill="url(#p65)"/>
<rect x="585.82" y="47.30" width="3.35" height="209.70" fill="url(#p66)"/>
<rect x="588.81" y="47.30" width="3.35" height="209.70" fill="url(#p67)"/>
<rect x="591.81" y="47.30" width="3.35" height="209.70" fill="url(#p68)"/>
<rect x="594.80" y="47.30" width="3.35" height="209.70" fill="url(#p69)"/>
<rect x="388.1" y="47.30" width="209.70" height="209.70" filter="url(#tex0)" style="mix-blend-mode:overlay"/>
<line x1="388.1" y1="256.45" x2="392.6" y2="256.45" stroke="#3a3a3a" stroke-width="1"/>
<text x="384.00" y="260.75" font-size="12.1" text-anchor="end" fill="#1a1a1a" textLength="18.2" lengthAdjust="spacingAndGlyphs">-75</text>
<line x1="388.1" y1="235.60" x2="392.6" y2="235.60" stroke="#3a3a3a" stroke-width="1"/>
<text x="384.00" y="239.90" font-size="12.1" text-anchor="end" fill="#1a1a1a" textLength="18.2" lengthAdjust="spacingAndGlyphs">-60</text>
<line x1="388.1" y1="214.75" x2="392.6" y2="214.75" stroke="#3a3a3a" stroke-width="1"/>
<text x="384.00" y="219.05" font-size="12.1" text-anchor="end" fill="#1a1a1a" textLength="18.2" lengthAdjust="spacingAndGlyphs">-45</text>
<line x1="388.1" y1="193.90" x2="392.6" y2="193.90" stroke="#3a3a3a" stroke-width="1"/>
<text x="384.00" y="198.20" font-size="12.1" text-anchor="end" fill="#1a1a1a" textLength="18.2" lengthAdjust="spacingAndGlyphs">-30</text>
<line x1="388.1" y1="173.05" x2="392.6" y2="173.05" stroke="#3a3a3a" stroke-width="1"/>
<text x="384.00" y="177.35" font-size="12.1" text-anchor="end" fill="#1a1a1a" textLength="18.2" lengthAdjust="spacingAndGlyphs">-15</text>
<line x1="388.1" y1="152.20" x2="392.6" y2="152.20" stroke="#3a3a3a" stroke-width="1"/>
<text x="384.00" y="156.50" font-size="12.1" text-anchor="end" fill="#1a1a1a" textLength="7.0" lengthAdjust="spacingAndGlyphs">0</text>
<line x1="388.1" y1="131.35" x2="392.6" y2="131.35" stroke="#3a3a3a" stroke-width="1"/>
<text x="384.00" y="135.65" font-size="12.1" text-anchor="end" fill="#1a1a1a" textLength="14.0" lengthAdjust="spacingAndGlyphs">15</text>
<line x1="388.1" y1="110.50" x2="392.6" y2="110.50" stroke="#3a3a3a" stroke-width="1"/>
<text x="384.00" y="114.80" font-size="12.1" text-anchor="end" fill="#1a1a1a" textLength="14.0" lengthAdjust="spacingAndGlyphs">30</text>
<line x1="388.1" y1="89.65" x2="392.6" y2="89.65" stroke="#3a3a3a" stroke-width="1"/>
<text x="384.00" y="93.95" font-size="12.1" text-anchor="end" fill="#1a1a1a" textLength="14.0" lengthAdjust="spacingAndGlyphs">45</text>
<line x1="388.1" y1="68.80" x2="392.6" y2="68.80" stroke="#3a3a3a" stroke-width="1"/>
<text x="384.00" y="73.10" font-size="12.1" text-anchor="end" fill="#1a1a1a" textLength="14.0" lengthAdjust="spacingAndGlyphs">60</text>
<line x1="388.1" y1="47.95" x2="392.6" y2="47.95" stroke="#3a3a3a" stroke-width="1"/>
<text x="384.00" y="52.25" font-size="12.1" text-anchor="end" fill="#1a1a1a" textLength="14.0" lengthAdjust="spacingAndGlyphs">75</text>
<line x1="387.00" y1="257.00" x2="387.00" y2="253.00" stroke="#3a3a3a" stroke-width="1"/>
<text x="387.00" y="273.00" font-size="12.1" text-anchor="middle" fill="#1a1a1a" textLength="25.2" lengthAdjust="spacingAndGlyphs">-300</text>
<line x1="422.30" y1="257.00" x2="422.30" y2="253.00" stroke="#3a3a3a" stroke-width="1"/>
<text x="422.30" y="273.00" font-size="12.1" text-anchor="middle" fill="#1a1a1a" textLength="25.2" lengthAdjust="spacingAndGlyphs">-200</text>
<line x1="457.60" y1="257.00" x2="457.60" y2="253.00" stroke="#3a3a3a" stroke-width="1"/>
<text x="457.60" y="273.00" font-size="12.1" text-anchor="middle" fill="#1a1a1a" textLength="25.2" lengthAdjust="spacingAndGlyphs">-100</text>
<line x1="492.90" y1="257.00" x2="492.90" y2="253.00" stroke="#3a3a3a" stroke-width="1"/>
<text x="492.90" y="273.00" font-size="12.1" text-anchor="middle" fill="#1a1a1a" textLength="7.0" lengthAdjust="spacingAndGlyphs">0</text>
<line x1="528.20" y1="257.00" x2="528.20" y2="253.00" stroke="#3a3a3a" stroke-width="1"/>
<text x="528.20" y="273.00" font-size="12.1" text-anchor="middle" fill="#1a1a1a" textLength="21.0" lengthAdjust="spacingAndGlyphs">100</text>
<line x1="563.50" y1="257.00" x2="563.50" y2="253.00" stroke="#3a3a3a" stroke-width="1"/>
<text x="563.50" y="273.00" font-size="12.1" text-anchor="middle" fill="#1a1a1a" textLength="21.0" lengthAdjust="spacingAndGlyphs">200</text>
<line x1="598.80" y1="257.00" x2="598.80" y2="253.00" stroke="#3a3a3a" stroke-width="1"/>
<text x="598.80" y="273.00" font-size="12.1" text-anchor="middle" fill="#1a1a1a" textLength="21.0" lengthAdjust="spacingAndGlyphs">300</text>
<line x1="492.90" y1="257.00" x2="492.90" y2="47.30" stroke="#ff2020" stroke-opacity="0.45" stroke-width="1.5" stroke-dasharray="2 2" stroke-dashoffset="3"/>
<line x1="387.9" y1="257.00" x2="387.9" y2="27.50" stroke="#8c8c8c" stroke-width="1.5"/>
<path d="M387.9,24.00 L385.50,28.40 L390.30,28.40Z" fill="#000"/>
<line x1="388" y1="152.40" x2="611" y2="152.40" stroke="#505050" stroke-width="1.4"/>
<path d="M614.8,152.40 L610.4,150.10 L610.4,154.70Z" fill="#000"/>
<text x="492.80" y="294.90" font-size="13.8" text-anchor="middle" fill="#1a1a1a" textLength="121.6" lengthAdjust="spacingAndGlyphs">Time from click (ms)</text>
<text x="353.50" y="151.50" font-size="13.8" text-anchor="middle" fill="#1a1a1a" textLength="89.4" lengthAdjust="spacingAndGlyphs" transform="rotate(-90 353.50 151.50)">Stimulus index</text>
<rect x="640.4" y="99.20" width="6.8" height="104.5" fill="url(#cbg0)" stroke="#7a7a7a" stroke-width="0.8"/>
<line x1="640.4" y1="151.40" x2="642.6" y2="151.40" stroke="#333" stroke-width="0.8"/>
<line x1="645" y1="151.40" x2="647.2" y2="151.40" stroke="#333" stroke-width="0.8"/>
<text x="650.60" y="104.20" font-size="11.7" text-anchor="start" fill="#1a1a1a" textLength="30.9" lengthAdjust="spacingAndGlyphs">0.040</text>
<text x="650.60" y="156.50" font-size="11.7" text-anchor="start" fill="#1a1a1a" textLength="6.9" lengthAdjust="spacingAndGlyphs">0</text>
<text x="650.80" y="208.00" font-size="11.7" text-anchor="start" fill="#1a1a1a" textLength="35.0" lengthAdjust="spacingAndGlyphs">-0.056</text>
<text x="632.60" y="152.00" font-size="13.8" text-anchor="middle" fill="#1a1a1a" textLength="103.7" lengthAdjust="spacingAndGlyphs" transform="rotate(-90 632.60 152.00)">Estimated weight</text>
<rect x="388.10" y="354.40" width="3.35" height="209.70" fill="url(#q0)"/>
<rect x="391.10" y="354.40" width="3.35" height="209.70" fill="url(#q1)"/>
<rect x="394.09" y="354.40" width="3.35" height="209.70" fill="url(#q2)"/>
<rect x="397.09" y="354.40" width="3.35" height="209.70" fill="url(#q3)"/>
<rect x="400.08" y="354.40" width="3.35" height="209.70" fill="url(#q4)"/>
<rect x="403.08" y="354.40" width="3.35" height="209.70" fill="url(#q5)"/>
<rect x="406.07" y="354.40" width="3.35" height="209.70" fill="url(#q6)"/>
<rect x="409.07" y="354.40" width="3.35" height="209.70" fill="url(#q7)"/>
<rect x="412.07" y="354.40" width="3.35" height="209.70" fill="url(#q8)"/>
<rect x="415.06" y="354.40" width="3.35" height="209.70" fill="url(#q9)"/>
<rect x="418.06" y="354.40" width="3.35" height="209.70" fill="url(#q10)"/>
<rect x="421.05" y="354.40" width="3.35" height="209.70" fill="url(#q11)"/>
<rect x="424.05" y="354.40" width="3.35" height="209.70" fill="url(#q12)"/>
<rect x="427.04" y="354.40" width="3.35" height="209.70" fill="url(#q13)"/>
<rect x="430.04" y="354.40" width="3.35" height="209.70" fill="url(#q14)"/>
<rect x="433.04" y="354.40" width="3.35" height="209.70" fill="url(#q15)"/>
<rect x="436.03" y="354.40" width="3.35" height="209.70" fill="url(#q16)"/>
<rect x="439.03" y="354.40" width="3.35" height="209.70" fill="url(#q17)"/>
<rect x="442.02" y="354.40" width="3.35" height="209.70" fill="url(#q18)"/>
<rect x="445.02" y="354.40" width="3.35" height="209.70" fill="url(#q19)"/>
<rect x="448.01" y="354.40" width="3.35" height="209.70" fill="url(#q20)"/>
<rect x="451.01" y="354.40" width="3.35" height="209.70" fill="url(#q21)"/>
<rect x="454.01" y="354.40" width="3.35" height="209.70" fill="url(#q22)"/>
<rect x="457.00" y="354.40" width="3.35" height="209.70" fill="url(#q23)"/>
<rect x="460.00" y="354.40" width="3.35" height="209.70" fill="url(#q24)"/>
<rect x="462.99" y="354.40" width="3.35" height="209.70" fill="url(#q25)"/>
<rect x="465.99" y="354.40" width="3.35" height="209.70" fill="url(#q26)"/>
<rect x="468.98" y="354.40" width="3.35" height="209.70" fill="url(#q27)"/>
<rect x="471.98" y="354.40" width="3.35" height="209.70" fill="url(#q28)"/>
<rect x="474.98" y="354.40" width="3.35" height="209.70" fill="url(#q29)"/>
<rect x="477.97" y="354.40" width="3.35" height="209.70" fill="url(#q30)"/>
<rect x="480.97" y="354.40" width="3.35" height="209.70" fill="url(#q31)"/>
<rect x="483.96" y="354.40" width="3.35" height="209.70" fill="url(#q32)"/>
<rect x="486.96" y="354.40" width="3.35" height="209.70" fill="url(#q33)"/>
<rect x="489.95" y="354.40" width="3.35" height="209.70" fill="url(#q34)"/>
<rect x="492.95" y="354.40" width="3.35" height="209.70" fill="url(#q35)"/>
<rect x="495.95" y="354.40" width="3.35" height="209.70" fill="url(#q36)"/>
<rect x="498.94" y="354.40" width="3.35" height="209.70" fill="url(#q37)"/>
<rect x="501.94" y="354.40" width="3.35" height="209.70" fill="url(#q38)"/>
<rect x="504.93" y="354.40" width="3.35" height="209.70" fill="url(#q39)"/>
<rect x="507.93" y="354.40" width="3.35" height="209.70" fill="url(#q40)"/>
<rect x="510.92" y="354.40" width="3.35" height="209.70" fill="url(#q41)"/>
<rect x="513.92" y="354.40" width="3.35" height="209.70" fill="url(#q42)"/>
<rect x="516.92" y="354.40" width="3.35" height="209.70" fill="url(#q43)"/>
<rect x="519.91" y="354.40" width="3.35" height="209.70" fill="url(#q44)"/>
<rect x="522.91" y="354.40" width="3.35" height="209.70" fill="url(#q45)"/>
<rect x="525.90" y="354.40" width="3.35" height="209.70" fill="url(#q46)"/>
<rect x="528.90" y="354.40" width="3.35" height="209.70" fill="url(#q47)"/>
<rect x="531.89" y="354.40" width="3.35" height="209.70" fill="url(#q48)"/>
<rect x="534.89" y="354.40" width="3.35" height="209.70" fill="url(#q49)"/>
<rect x="537.89" y="354.40" width="3.35" height="209.70" fill="url(#q50)"/>
<rect x="540.88" y="354.40" width="3.35" height="209.70" fill="url(#q51)"/>
<rect x="543.88" y="354.40" width="3.35" height="209.70" fill="url(#q52)"/>
<rect x="546.87" y="354.40" width="3.35" height="209.70" fill="url(#q53)"/>
<rect x="549.87" y="354.40" width="3.35" height="209.70" fill="url(#q54)"/>
<rect x="552.86" y="354.40" width="3.35" height="209.70" fill="url(#q55)"/>
<rect x="555.86" y="354.40" width="3.35" height="209.70" fill="url(#q56)"/>
<rect x="558.86" y="354.40" width="3.35" height="209.70" fill="url(#q57)"/>
<rect x="561.85" y="354.40" width="3.35" height="209.70" fill="url(#q58)"/>
<rect x="564.85" y="354.40" width="3.35" height="209.70" fill="url(#q59)"/>
<rect x="567.84" y="354.40" width="3.35" height="209.70" fill="url(#q60)"/>
<rect x="570.84" y="354.40" width="3.35" height="209.70" fill="url(#q61)"/>
<rect x="573.83" y="354.40" width="3.35" height="209.70" fill="url(#q62)"/>
<rect x="576.83" y="354.40" width="3.35" height="209.70" fill="url(#q63)"/>
<rect x="579.83" y="354.40" width="3.35" height="209.70" fill="url(#q64)"/>
<rect x="582.82" y="354.40" width="3.35" height="209.70" fill="url(#q65)"/>
<rect x="585.82" y="354.40" width="3.35" height="209.70" fill="url(#q66)"/>
<rect x="588.81" y="354.40" width="3.35" height="209.70" fill="url(#q67)"/>
<rect x="591.81" y="354.40" width="3.35" height="209.70" fill="url(#q68)"/>
<rect x="594.80" y="354.40" width="3.35" height="209.70" fill="url(#q69)"/>
<rect x="388.1" y="354.40" width="209.70" height="209.70" filter="url(#tex1)" style="mix-blend-mode:overlay"/>
<line x1="388.1" y1="563.55" x2="392.6" y2="563.55" stroke="#3a3a3a" stroke-width="1"/>
<text x="384.00" y="567.85" font-size="12.1" text-anchor="end" fill="#1a1a1a" textLength="18.2" lengthAdjust="spacingAndGlyphs">-75</text>
<line x1="388.1" y1="542.70" x2="392.6" y2="542.70" stroke="#3a3a3a" stroke-width="1"/>
<text x="384.00" y="547.00" font-size="12.1" text-anchor="end" fill="#1a1a1a" textLength="18.2" lengthAdjust="spacingAndGlyphs">-60</text>
<line x1="388.1" y1="521.85" x2="392.6" y2="521.85" stroke="#3a3a3a" stroke-width="1"/>
<text x="384.00" y="526.15" font-size="12.1" text-anchor="end" fill="#1a1a1a" textLength="18.2" lengthAdjust="spacingAndGlyphs">-45</text>
<line x1="388.1" y1="501.00" x2="392.6" y2="501.00" stroke="#3a3a3a" stroke-width="1"/>
<text x="384.00" y="505.30" font-size="12.1" text-anchor="end" fill="#1a1a1a" textLength="18.2" lengthAdjust="spacingAndGlyphs">-30</text>
<line x1="388.1" y1="480.15" x2="392.6" y2="480.15" stroke="#3a3a3a" stroke-width="1"/>
<text x="384.00" y="484.45" font-size="12.1" text-anchor="end" fill="#1a1a1a" textLength="18.2" lengthAdjust="spacingAndGlyphs">-15</text>
<line x1="388.1" y1="459.30" x2="392.6" y2="459.30" stroke="#3a3a3a" stroke-width="1"/>
<text x="384.00" y="463.60" font-size="12.1" text-anchor="end" fill="#1a1a1a" textLength="7.0" lengthAdjust="spacingAndGlyphs">0</text>
<line x1="388.1" y1="438.45" x2="392.6" y2="438.45" stroke="#3a3a3a" stroke-width="1"/>
<text x="384.00" y="442.75" font-size="12.1" text-anchor="end" fill="#1a1a1a" textLength="14.0" lengthAdjust="spacingAndGlyphs">15</text>
<line x1="388.1" y1="417.60" x2="392.6" y2="417.60" stroke="#3a3a3a" stroke-width="1"/>
<text x="384.00" y="421.90" font-size="12.1" text-anchor="end" fill="#1a1a1a" textLength="14.0" lengthAdjust="spacingAndGlyphs">30</text>
<line x1="388.1" y1="396.75" x2="392.6" y2="396.75" stroke="#3a3a3a" stroke-width="1"/>
<text x="384.00" y="401.05" font-size="12.1" text-anchor="end" fill="#1a1a1a" textLength="14.0" lengthAdjust="spacingAndGlyphs">45</text>
<line x1="388.1" y1="375.90" x2="392.6" y2="375.90" stroke="#3a3a3a" stroke-width="1"/>
<text x="384.00" y="380.20" font-size="12.1" text-anchor="end" fill="#1a1a1a" textLength="14.0" lengthAdjust="spacingAndGlyphs">60</text>
<line x1="388.1" y1="355.05" x2="392.6" y2="355.05" stroke="#3a3a3a" stroke-width="1"/>
<text x="384.00" y="359.35" font-size="12.1" text-anchor="end" fill="#1a1a1a" textLength="14.0" lengthAdjust="spacingAndGlyphs">75</text>
<line x1="387.00" y1="564.10" x2="387.00" y2="560.10" stroke="#3a3a3a" stroke-width="1"/>
<text x="387.00" y="580.10" font-size="12.1" text-anchor="middle" fill="#1a1a1a" textLength="25.2" lengthAdjust="spacingAndGlyphs">-300</text>
<line x1="422.30" y1="564.10" x2="422.30" y2="560.10" stroke="#3a3a3a" stroke-width="1"/>
<text x="422.30" y="580.10" font-size="12.1" text-anchor="middle" fill="#1a1a1a" textLength="25.2" lengthAdjust="spacingAndGlyphs">-200</text>
<line x1="457.60" y1="564.10" x2="457.60" y2="560.10" stroke="#3a3a3a" stroke-width="1"/>
<text x="457.60" y="580.10" font-size="12.1" text-anchor="middle" fill="#1a1a1a" textLength="25.2" lengthAdjust="spacingAndGlyphs">-100</text>
<line x1="492.90" y1="564.10" x2="492.90" y2="560.10" stroke="#3a3a3a" stroke-width="1"/>
<text x="492.90" y="580.10" font-size="12.1" text-anchor="middle" fill="#1a1a1a" textLength="7.0" lengthAdjust="spacingAndGlyphs">0</text>
<line x1="528.20" y1="564.10" x2="528.20" y2="560.10" stroke="#3a3a3a" stroke-width="1"/>
<text x="528.20" y="580.10" font-size="12.1" text-anchor="middle" fill="#1a1a1a" textLength="21.0" lengthAdjust="spacingAndGlyphs">100</text>
<line x1="563.50" y1="564.10" x2="563.50" y2="560.10" stroke="#3a3a3a" stroke-width="1"/>
<text x="563.50" y="580.10" font-size="12.1" text-anchor="middle" fill="#1a1a1a" textLength="21.0" lengthAdjust="spacingAndGlyphs">200</text>
<line x1="598.80" y1="564.10" x2="598.80" y2="560.10" stroke="#3a3a3a" stroke-width="1"/>
<text x="598.80" y="580.10" font-size="12.1" text-anchor="middle" fill="#1a1a1a" textLength="21.0" lengthAdjust="spacingAndGlyphs">300</text>
<line x1="492.90" y1="564.10" x2="492.90" y2="354.40" stroke="#ff2020" stroke-opacity="0.45" stroke-width="1.5" stroke-dasharray="2 2" stroke-dashoffset="3"/>
<line x1="387.9" y1="564.10" x2="387.9" y2="334.60" stroke="#8c8c8c" stroke-width="1.5"/>
<path d="M387.9,331.10 L385.50,335.50 L390.30,335.50Z" fill="#000"/>
<line x1="388" y1="459.10" x2="611" y2="459.10" stroke="#555555" stroke-width="1.4"/>
<path d="M614.8,459.10 L610.4,456.80 L610.4,461.40Z" fill="#000"/>
<text x="492.80" y="602.00" font-size="13.8" text-anchor="middle" fill="#1a1a1a" textLength="121.6" lengthAdjust="spacingAndGlyphs">Time from click (ms)</text>
<text x="353.50" y="458.60" font-size="13.8" text-anchor="middle" fill="#1a1a1a" textLength="89.4" lengthAdjust="spacingAndGlyphs" transform="rotate(-90 353.50 458.60)">Stimulus index</text>
<rect x="640.4" y="406.30" width="6.8" height="104.5" fill="url(#cbg1)" stroke="#7a7a7a" stroke-width="0.8"/>
<line x1="640.4" y1="458.50" x2="642.6" y2="458.50" stroke="#333" stroke-width="0.8"/>
<line x1="645" y1="458.50" x2="647.2" y2="458.50" stroke="#333" stroke-width="0.8"/>
<text x="650.60" y="411.30" font-size="11.7" text-anchor="start" fill="#1a1a1a" textLength="30.9" lengthAdjust="spacingAndGlyphs">0.045</text>
<text x="650.60" y="463.60" font-size="11.7" text-anchor="start" fill="#1a1a1a" textLength="6.9" lengthAdjust="spacingAndGlyphs">0</text>
<text x="650.80" y="515.10" font-size="11.7" text-anchor="start" fill="#1a1a1a" textLength="35.0" lengthAdjust="spacingAndGlyphs">-0.053</text>
<text x="632.60" y="459.10" font-size="13.8" text-anchor="middle" fill="#1a1a1a" textLength="103.7" lengthAdjust="spacingAndGlyphs" transform="rotate(-90 632.60 459.10)">Estimated weight</text>
<rect x="388.10" y="662.40" width="3.35" height="209.70" fill="url(#r0)"/>
<rect x="391.10" y="662.40" width="3.35" height="209.70" fill="url(#r1)"/>
<rect x="394.09" y="662.40" width="3.35" height="209.70" fill="url(#r2)"/>
<rect x="397.09" y="662.40" width="3.35" height="209.70" fill="url(#r3)"/>
<rect x="400.08" y="662.40" width="3.35" height="209.70" fill="url(#r4)"/>
<rect x="403.08" y="662.40" width="3.35" height="209.70" fill="url(#r5)"/>
<rect x="406.07" y="662.40" width="3.35" height="209.70" fill="url(#r6)"/>
<rect x="409.07" y="662.40" width="3.35" height="209.70" fill="url(#r7)"/>
<rect x="412.07" y="662.40" width="3.35" height="209.70" fill="url(#r8)"/>
<rect x="415.06" y="662.40" width="3.35" height="209.70" fill="url(#r9)"/>
<rect x="418.06" y="662.40" width="3.35" height="209.70" fill="url(#r10)"/>
<rect x="421.05" y="662.40" width="3.35" height="209.70" fill="url(#r11)"/>
<rect x="424.05" y="662.40" width="3.35" height="209.70" fill="url(#r12)"/>
<rect x="427.04" y="662.40" width="3.35" height="209.70" fill="url(#r13)"/>
<rect x="430.04" y="662.40" width="3.35" height="209.70" fill="url(#r14)"/>
<rect x="433.04" y="662.40" width="3.35" height="209.70" fill="url(#r15)"/>
<rect x="436.03" y="662.40" width="3.35" height="209.70" fill="url(#r16)"/>
<rect x="439.03" y="662.40" width="3.35" height="209.70" fill="url(#r17)"/>
<rect x="442.02" y="662.40" width="3.35" height="209.70" fill="url(#r18)"/>
<rect x="445.02" y="662.40" width="3.35" height="209.70" fill="url(#r19)"/>
<rect x="448.01" y="662.40" width="3.35" height="209.70" fill="url(#r20)"/>
<rect x="451.01" y="662.40" width="3.35" height="209.70" fill="url(#r21)"/>
<rect x="454.01" y="662.40" width="3.35" height="209.70" fill="url(#r22)"/>
<rect x="457.00" y="662.40" width="3.35" height="209.70" fill="url(#r23)"/>
<rect x="460.00" y="662.40" width="3.35" height="209.70" fill="url(#r24)"/>
<rect x="462.99" y="662.40" width="3.35" height="209.70" fill="url(#r25)"/>
<rect x="465.99" y="662.40" width="3.35" height="209.70" fill="url(#r26)"/>
<rect x="468.98" y="662.40" width="3.35" height="209.70" fill="url(#r27)"/>
<rect x="471.98" y="662.40" width="3.35" height="209.70" fill="url(#r28)"/>
<rect x="474.98" y="662.40" width="3.35" height="209.70" fill="url(#r29)"/>
<rect x="477.97" y="662.40" width="3.35" height="209.70" fill="url(#r30)"/>
<rect x="480.97" y="662.40" width="3.35" height="209.70" fill="url(#r31)"/>
<rect x="483.96" y="662.40" width="3.35" height="209.70" fill="url(#r32)"/>
<rect x="486.96" y="662.40" width="3.35" height="209.70" fill="url(#r33)"/>
<rect x="489.95" y="662.40" width="3.35" height="209.70" fill="url(#r34)"/>
<rect x="492.95" y="662.40" width="3.35" height="209.70" fill="url(#r35)"/>
<rect x="495.95" y="662.40" width="3.35" height="209.70" fill="url(#r36)"/>
<rect x="498.94" y="662.40" width="3.35" height="209.70" fill="url(#r37)"/>
<rect x="501.94" y="662.40" width="3.35" height="209.70" fill="url(#r38)"/>
<rect x="504.93" y="662.40" width="3.35" height="209.70" fill="url(#r39)"/>
<rect x="507.93" y="662.40" width="3.35" height="209.70" fill="url(#r40)"/>
<rect x="510.92" y="662.40" width="3.35" height="209.70" fill="url(#r41)"/>
<rect x="513.92" y="662.40" width="3.35" height="209.70" fill="url(#r42)"/>
<rect x="516.92" y="662.40" width="3.35" height="209.70" fill="url(#r43)"/>
<rect x="519.91" y="662.40" width="3.35" height="209.70" fill="url(#r44)"/>
<rect x="522.91" y="662.40" width="3.35" height="209.70" fill="url(#r45)"/>
<rect x="525.90" y="662.40" width="3.35" height="209.70" fill="url(#r46)"/>
<rect x="528.90" y="662.40" width="3.35" height="209.70" fill="url(#r47)"/>
<rect x="531.89" y="662.40" width="3.35" height="209.70" fill="url(#r48)"/>
<rect x="534.89" y="662.40" width="3.35" height="209.70" fill="url(#r49)"/>
<rect x="537.89" y="662.40" width="3.35" height="209.70" fill="url(#r50)"/>
<rect x="540.88" y="662.40" width="3.35" height="209.70" fill="url(#r51)"/>
<rect x="543.88" y="662.40" width="3.35" height="209.70" fill="url(#r52)"/>
<rect x="546.87" y="662.40" width="3.35" height="209.70" fill="url(#r53)"/>
<rect x="549.87" y="662.40" width="3.35" height="209.70" fill="url(#r54)"/>
<rect x="552.86" y="662.40" width="3.35" height="209.70" fill="url(#r55)"/>
<rect x="555.86" y="662.40" width="3.35" height="209.70" fill="url(#r56)"/>
<rect x="558.86" y="662.40" width="3.35" height="209.70" fill="url(#r57)"/>
<rect x="561.85" y="662.40" width="3.35" height="209.70" fill="url(#r58)"/>
<rect x="564.85" y="662.40" width="3.35" height="209.70" fill="url(#r59)"/>
<rect x="567.84" y="662.40" width="3.35" height="209.70" fill="url(#r60)"/>
<rect x="570.84" y="662.40" width="3.35" height="209.70" fill="url(#r61)"/>
<rect x="573.83" y="662.40" width="3.35" height="209.70" fill="url(#r62)"/>
<rect x="576.83" y="662.40" width="3.35" height="209.70" fill="url(#r63)"/>
<rect x="579.83" y="662.40" width="3.35" height="209.70" fill="url(#r64)"/>
<rect x="582.82" y="662.40" width="3.35" height="209.70" fill="url(#r65)"/>
<rect x="585.82" y="662.40" width="3.35" height="209.70" fill="url(#r66)"/>
<rect x="588.81" y="662.40" width="3.35" height="209.70" fill="url(#r67)"/>
<rect x="591.81" y="662.40" width="3.35" height="209.70" fill="url(#r68)"/>
<rect x="594.80" y="662.40" width="3.35" height="209.70" fill="url(#r69)"/>
<rect x="388.1" y="662.40" width="209.70" height="209.70" filter="url(#tex2)" style="mix-blend-mode:overlay"/>
<line x1="388.1" y1="871.55" x2="392.6" y2="871.55" stroke="#3a3a3a" stroke-width="1"/>
<text x="384.00" y="875.85" font-size="12.1" text-anchor="end" fill="#1a1a1a" textLength="18.2" lengthAdjust="spacingAndGlyphs">-75</text>
<line x1="388.1" y1="850.70" x2="392.6" y2="850.70" stroke="#3a3a3a" stroke-width="1"/>
<text x="384.00" y="855.00" font-size="12.1" text-anchor="end" fill="#1a1a1a" textLength="18.2" lengthAdjust="spacingAndGlyphs">-60</text>
<line x1="388.1" y1="829.85" x2="392.6" y2="829.85" stroke="#3a3a3a" stroke-width="1"/>
<text x="384.00" y="834.15" font-size="12.1" text-anchor="end" fill="#1a1a1a" textLength="18.2" lengthAdjust="spacingAndGlyphs">-45</text>
<line x1="388.1" y1="809.00" x2="392.6" y2="809.00" stroke="#3a3a3a" stroke-width="1"/>
<text x="384.00" y="813.30" font-size="12.1" text-anchor="end" fill="#1a1a1a" textLength="18.2" lengthAdjust="spacingAndGlyphs">-30</text>
<line x1="388.1" y1="788.15" x2="392.6" y2="788.15" stroke="#3a3a3a" stroke-width="1"/>
<text x="384.00" y="792.45" font-size="12.1" text-anchor="end" fill="#1a1a1a" textLength="18.2" lengthAdjust="spacingAndGlyphs">-15</text>
<line x1="388.1" y1="767.30" x2="392.6" y2="767.30" stroke="#3a3a3a" stroke-width="1"/>
<text x="384.00" y="771.60" font-size="12.1" text-anchor="end" fill="#1a1a1a" textLength="7.0" lengthAdjust="spacingAndGlyphs">0</text>
<line x1="388.1" y1="746.45" x2="392.6" y2="746.45" stroke="#3a3a3a" stroke-width="1"/>
<text x="384.00" y="750.75" font-size="12.1" text-anchor="end" fill="#1a1a1a" textLength="14.0" lengthAdjust="spacingAndGlyphs">15</text>
<line x1="388.1" y1="725.60" x2="392.6" y2="725.60" stroke="#3a3a3a" stroke-width="1"/>
<text x="384.00" y="729.90" font-size="12.1" text-anchor="end" fill="#1a1a1a" textLength="14.0" lengthAdjust="spacingAndGlyphs">30</text>
<line x1="388.1" y1="704.75" x2="392.6" y2="704.75" stroke="#3a3a3a" stroke-width="1"/>
<text x="384.00" y="709.05" font-size="12.1" text-anchor="end" fill="#1a1a1a" textLength="14.0" lengthAdjust="spacingAndGlyphs">45</text>
<line x1="388.1" y1="683.90" x2="392.6" y2="683.90" stroke="#3a3a3a" stroke-width="1"/>
<text x="384.00" y="688.20" font-size="12.1" text-anchor="end" fill="#1a1a1a" textLength="14.0" lengthAdjust="spacingAndGlyphs">60</text>
<line x1="388.1" y1="663.05" x2="392.6" y2="663.05" stroke="#3a3a3a" stroke-width="1"/>
<text x="384.00" y="667.35" font-size="12.1" text-anchor="end" fill="#1a1a1a" textLength="14.0" lengthAdjust="spacingAndGlyphs">75</text>
<line x1="387.00" y1="872.10" x2="387.00" y2="868.10" stroke="#3a3a3a" stroke-width="1"/>
<text x="387.00" y="888.10" font-size="12.1" text-anchor="middle" fill="#1a1a1a" textLength="25.2" lengthAdjust="spacingAndGlyphs">-300</text>
<line x1="422.30" y1="872.10" x2="422.30" y2="868.10" stroke="#3a3a3a" stroke-width="1"/>
<text x="422.30" y="888.10" font-size="12.1" text-anchor="middle" fill="#1a1a1a" textLength="25.2" lengthAdjust="spacingAndGlyphs">-200</text>
<line x1="457.60" y1="872.10" x2="457.60" y2="868.10" stroke="#3a3a3a" stroke-width="1"/>
<text x="457.60" y="888.10" font-size="12.1" text-anchor="middle" fill="#1a1a1a" textLength="25.2" lengthAdjust="spacingAndGlyphs">-100</text>
<line x1="492.90" y1="872.10" x2="492.90" y2="868.10" stroke="#3a3a3a" stroke-width="1"/>
<text x="492.90" y="888.10" font-size="12.1" text-anchor="middle" fill="#1a1a1a" textLength="7.0" lengthAdjust="spacingAndGlyphs">0</text>
<line x1="528.20" y1="872.10" x2="528.20" y2="868.10" stroke="#3a3a3a" stroke-width="1"/>
<text x="528.20" y="888.10" font-size="12.1" text-anchor="middle" fill="#1a1a1a" textLength="21.0" lengthAdjust="spacingAndGlyphs">100</text>
<line x1="563.50" y1="872.10" x2="563.50" y2="868.10" stroke="#3a3a3a" stroke-width="1"/>
<text x="563.50" y="888.10" font-size="12.1" text-anchor="middle" fill="#1a1a1a" textLength="21.0" lengthAdjust="spacingAndGlyphs">200</text>
<line x1="598.80" y1="872.10" x2="598.80" y2="868.10" stroke="#3a3a3a" stroke-width="1"/>
<text x="598.80" y="888.10" font-size="12.1" text-anchor="middle" fill="#1a1a1a" textLength="21.0" lengthAdjust="spacingAndGlyphs">300</text>
<line x1="493.40" y1="872.10" x2="493.40" y2="662.40" stroke="#ff1010" stroke-opacity="0.8" stroke-width="1.0" stroke-dasharray="2 2" stroke-dashoffset="3"/>
<line x1="388.5" y1="872.10" x2="388.5" y2="642.60" stroke="#404040" stroke-width="1.1"/>
<path d="M388.5,639.10 L386.10,643.50 L390.90,643.50Z" fill="#000"/>
<line x1="388" y1="766.40" x2="611" y2="766.40" stroke="#484848" stroke-width="1.4"/>
<path d="M614.8,766.40 L610.4,764.10 L610.4,768.70Z" fill="#000"/>
<text x="492.80" y="910.00" font-size="13.8" text-anchor="middle" fill="#1a1a1a" textLength="121.6" lengthAdjust="spacingAndGlyphs">Time from click (ms)</text>
<text x="353.50" y="766.60" font-size="13.8" text-anchor="middle" fill="#1a1a1a" textLength="89.4" lengthAdjust="spacingAndGlyphs" transform="rotate(-90 353.50 766.60)">Stimulus index</text>
<rect x="640.4" y="714.30" width="6.8" height="104.5" fill="url(#cbg2)" stroke="#7a7a7a" stroke-width="0.8"/>
<line x1="640.4" y1="766.50" x2="642.6" y2="766.50" stroke="#333" stroke-width="0.8"/>
<line x1="645" y1="766.50" x2="647.2" y2="766.50" stroke="#333" stroke-width="0.8"/>
<text x="650.60" y="719.30" font-size="11.7" text-anchor="start" fill="#1a1a1a" textLength="30.9" lengthAdjust="spacingAndGlyphs">0.037</text>
<text x="650.60" y="771.60" font-size="11.7" text-anchor="start" fill="#1a1a1a" textLength="6.9" lengthAdjust="spacingAndGlyphs">0</text>
<text x="650.80" y="823.10" font-size="11.7" text-anchor="start" fill="#1a1a1a" textLength="35.0" lengthAdjust="spacingAndGlyphs">-0.038</text>
<text x="632.60" y="767.10" font-size="13.8" text-anchor="middle" fill="#1a1a1a" textLength="103.7" lengthAdjust="spacingAndGlyphs" transform="rotate(-90 632.60 767.10)">Estimated weight</text>
<rect x="318.2" y="51.1" width="37.70" height="38.00" fill="#808080"/>
<ellipse cx="337.0" cy="70.3" rx="14.5" ry="0.75" fill="url(#barg)" opacity="0.85" transform="rotate(-29.6 337.0 70.3)" filter="url(#soft)"/>
<ellipse cx="337.0" cy="70.3" rx="4.833333333333333" ry="0.55" fill="#fff" opacity="0.75" transform="rotate(-29.6 337.0 70.3)"/>
<rect x="318.2" y="213.1" width="37.70" height="37.90" fill="#808080"/>
<ellipse cx="336.9" cy="231.6" rx="14.5" ry="0.75" fill="url(#barg)" opacity="0.85" transform="rotate(29.4 336.9 231.6)" filter="url(#soft)"/>
<ellipse cx="336.9" cy="231.6" rx="4.833333333333333" ry="0.55" fill="#fff" opacity="0.75" transform="rotate(29.4 336.9 231.6)"/>
<rect x="318.2" y="358.2" width="37.70" height="37.60" fill="#808080"/>
<g transform="rotate(-14 333.3 375.5)">
<ellipse cx="333.3" cy="375.5" rx="9.3" ry="16.2" fill="url(#facegr)" filter="url(#soft)"/>
<path d="M333.80,368.00 Q337.30,366.50 340.80,368.30" stroke="#4a4a4a" stroke-width="1.3" fill="none" filter="url(#soft)"/>
<ellipse cx="336.50" cy="371.20" rx="2.4" ry="1.0" fill="#333" filter="url(#soft)"/>
<ellipse cx="341.60" cy="371.20" rx="0.9" ry="1.0" fill="#444" filter="url(#soft)"/>
<ellipse cx="340.90" cy="377.30" rx="2.2" ry="2.2" fill="#707070" filter="url(#soft2)"/>
<path d="M336.80,382.10 Q339.30,381.10 341.50,381.70" stroke="#404040" stroke-width="1.3" fill="none" filter="url(#soft)"/>
<ellipse cx="325.30" cy="376.50" rx="1.0" ry="3.0" fill="#555" filter="url(#soft)"/>
</g>
<rect x="318.2" y="520.2" width="37.70" height="37.60" fill="#808080"/>
<g transform="rotate(14 340.8 537.2)">
<ellipse cx="340.8" cy="537.2" rx="9.3" ry="16.2" fill="url(#facegr)" filter="url(#soft)"/>
<path d="M340.30,529.70 Q336.80,528.20 333.30,530.00" stroke="#4a4a4a" stroke-width="1.3" fill="none" filter="url(#soft)"/>
<ellipse cx="337.60" cy="532.90" rx="2.4" ry="1.0" fill="#333" filter="url(#soft)"/>
<ellipse cx="332.50" cy="532.90" rx="0.9" ry="1.0" fill="#444" filter="url(#soft)"/>
<ellipse cx="333.20" cy="539.00" rx="2.2" ry="2.2" fill="#707070" filter="url(#soft2)"/>
<path d="M337.30,543.80 Q334.80,542.80 332.60,543.40" stroke="#404040" stroke-width="1.3" fill="none" filter="url(#soft)"/>
<ellipse cx="348.80" cy="538.20" rx="1.0" ry="3.0" fill="#555" filter="url(#soft)"/>
</g>
<rect x="318.2" y="666.0" width="38.00" height="37.80" fill="#808080"/>
<g>
<ellipse cx="337.35" cy="684.4" rx="10" ry="14.4" fill="url(#facegr)" filter="url(#soft)"/>
<path d="M335.15,677.40 L328.75,677.40" stroke="#4a4a4a" stroke-width="1.6" fill="none" filter="url(#soft)"/>
<ellipse cx="332.35" cy="681.10" rx="2.3" ry="1.0" fill="#2a2a2a" filter="url(#soft)"/>
<ellipse cx="335.55" cy="688.00" rx="1.2" ry="0.8" fill="#505050" filter="url(#soft)"/>
<path d="M339.55,677.40 L345.95,677.40" stroke="#4a4a4a" stroke-width="1.6" fill="none" filter="url(#soft)"/>
<ellipse cx="342.35" cy="681.10" rx="2.3" ry="1.0" fill="#2a2a2a" filter="url(#soft)"/>
<ellipse cx="339.15" cy="688.00" rx="1.2" ry="0.8" fill="#505050" filter="url(#soft)"/>
<path d="M337.35,680.40 L337.35,686.90" stroke="#b0b0b0" stroke-width="1.6" filter="url(#soft)"/>
<path d="M332.55,692.00 Q337.35,690.40 342.15,692.00" stroke="#3c3c3c" stroke-width="1.2" fill="none" filter="url(#soft)"/>
<ellipse cx="337.35" cy="693.70" rx="3.4" ry="1.3" fill="#6c6c6c" filter="url(#soft)"/>
</g>
<rect x="318.2" y="828.1" width="38.00" height="37.90" fill="#808080"/>
<g>
<ellipse cx="337.35" cy="846.6" rx="10" ry="14.5" fill="url(#facegr)" filter="url(#soft)"/>
<path d="M335.15,839.60 L328.75,839.60" stroke="#4a4a4a" stroke-width="1.6" fill="none" filter="url(#soft)"/>
<ellipse cx="332.35" cy="843.30" rx="2.3" ry="1.0" fill="#2a2a2a" filter="url(#soft)"/>
<ellipse cx="335.55" cy="850.20" rx="1.2" ry="0.8" fill="#505050" filter="url(#soft)"/>
<path d="M339.55,839.60 L345.95,839.60" stroke="#4a4a4a" stroke-width="1.6" fill="none" filter="url(#soft)"/>
<ellipse cx="342.35" cy="843.30" rx="2.3" ry="1.0" fill="#2a2a2a" filter="url(#soft)"/>
<ellipse cx="339.15" cy="850.20" rx="1.2" ry="0.8" fill="#505050" filter="url(#soft)"/>
<path d="M337.35,842.60 L337.35,849.10" stroke="#b0b0b0" stroke-width="1.6" filter="url(#soft)"/>
<path d="M332.55,854.20 Q337.35,852.60 342.15,854.20" stroke="#3c3c3c" stroke-width="1.2" fill="none" filter="url(#soft)"/>
<ellipse cx="337.35" cy="855.90" rx="3.4" ry="1.3" fill="#6c6c6c" filter="url(#soft)"/>
</g>
<text x="0.00" y="9.50" font-size="13" text-anchor="start" fill="#1a1a1a" textLength="205.5" lengthAdjust="spacingAndGlyphs">a) Bar orientation / Auditory probe</text>
<text x="0.00" y="317.10" font-size="13" text-anchor="start" fill="#1a1a1a" textLength="214.2" lengthAdjust="spacingAndGlyphs">b) Face orientation / Auditory probe</text>
<text x="0.00" y="623.60" font-size="13" text-anchor="start" fill="#1a1a1a" textLength="193.5" lengthAdjust="spacingAndGlyphs">c) Face identity / Auditory probe</text>
<text x="291.60" y="9.60" font-size="13.7" text-anchor="start" fill="#1a1a1a">d)</text>
<text x="291.60" y="317.40" font-size="13.7" text-anchor="start" fill="#1a1a1a">e)</text>
<text x="292.00" y="623.80" font-size="13.7" text-anchor="start" fill="#1a1a1a">f)</text>
<rect x="46.00" y="64.00" width="211.40" height="160.20" fill="none" stroke="#c8c8c8" stroke-width="1.6"/>
<line x1="46.00" y1="224.20" x2="46.00" y2="222.00" stroke="#b0b0b0" stroke-width="1"/>
<line x1="46.00" y1="64.00" x2="46.00" y2="66.20" stroke="#b0b0b0" stroke-width="1"/>
<text x="46.00" y="238.20" font-size="11" text-anchor="middle" fill="#1a1a1a">−300</text>
<line x1="81.23" y1="224.20" x2="81.23" y2="222.00" stroke="#b0b0b0" stroke-width="1"/>
<line x1="81.23" y1="64.00" x2="81.23" y2="66.20" stroke="#b0b0b0" stroke-width="1"/>
<text x="81.23" y="238.20" font-size="11" text-anchor="middle" fill="#1a1a1a">−200</text>
<line x1="116.47" y1="224.20" x2="116.47" y2="222.00" stroke="#b0b0b0" stroke-width="1"/>
<line x1="116.47" y1="64.00" x2="116.47" y2="66.20" stroke="#b0b0b0" stroke-width="1"/>
<text x="116.47" y="238.20" font-size="11" text-anchor="middle" fill="#1a1a1a">−100</text>
<line x1="151.70" y1="224.20" x2="151.70" y2="222.00" stroke="#b0b0b0" stroke-width="1"/>
<line x1="151.70" y1="64.00" x2="151.70" y2="66.20" stroke="#b0b0b0" stroke-width="1"/>
<text x="151.70" y="238.20" font-size="11" text-anchor="middle" fill="#1a1a1a">0</text>
<line x1="186.93" y1="224.20" x2="186.93" y2="222.00" stroke="#b0b0b0" stroke-width="1"/>
<line x1="186.93" y1="64.00" x2="186.93" y2="66.20" stroke="#b0b0b0" stroke-width="1"/>
<text x="186.93" y="238.20" font-size="11" text-anchor="middle" fill="#1a1a1a">100</text>
<line x1="222.17" y1="224.20" x2="222.17" y2="222.00" stroke="#b0b0b0" stroke-width="1"/>
<line x1="222.17" y1="64.00" x2="222.17" y2="66.20" stroke="#b0b0b0" stroke-width="1"/>
<text x="222.17" y="238.20" font-size="11" text-anchor="middle" fill="#1a1a1a">200</text>
<line x1="257.40" y1="224.20" x2="257.40" y2="222.00" stroke="#b0b0b0" stroke-width="1"/>
<line x1="257.40" y1="64.00" x2="257.40" y2="66.20" stroke="#b0b0b0" stroke-width="1"/>
<text x="257.40" y="238.20" font-size="11" text-anchor="middle" fill="#1a1a1a">300</text>
<line x1="46.00" y1="224.20" x2="48.20" y2="224.20" stroke="#b0b0b0" stroke-width="1"/>
<line x1="257.40" y1="224.20" x2="255.20" y2="224.20" stroke="#b0b0b0" stroke-width="1"/>
<text x="41.70" y="228.15" font-size="11" text-anchor="end" fill="#1a1a1a">0</text>
<line x1="46.00" y1="184.15" x2="48.20" y2="184.15" stroke="#b0b0b0" stroke-width="1"/>
<line x1="257.40" y1="184.15" x2="255.20" y2="184.15" stroke="#b0b0b0" stroke-width="1"/>
<text x="41.70" y="188.10" font-size="11" text-anchor="end" fill="#1a1a1a">0.1</text>
<line x1="46.00" y1="144.10" x2="48.20" y2="144.10" stroke="#b0b0b0" stroke-width="1"/>
<line x1="257.40" y1="144.10" x2="255.20" y2="144.10" stroke="#b0b0b0" stroke-width="1"/>
<text x="41.70" y="148.05" font-size="11" text-anchor="end" fill="#1a1a1a">0.2</text>
<line x1="46.00" y1="104.05" x2="48.20" y2="104.05" stroke="#b0b0b0" stroke-width="1"/>
<line x1="257.40" y1="104.05" x2="255.20" y2="104.05" stroke="#b0b0b0" stroke-width="1"/>
<text x="41.70" y="108.00" font-size="11" text-anchor="end" fill="#1a1a1a">0.3</text>
<line x1="46.00" y1="64.00" x2="48.20" y2="64.00" stroke="#b0b0b0" stroke-width="1"/>
<line x1="257.40" y1="64.00" x2="255.20" y2="64.00" stroke="#b0b0b0" stroke-width="1"/>
<text x="41.70" y="67.95" font-size="11" text-anchor="end" fill="#1a1a1a">0.4</text>
<text x="151.70" y="258.20" font-size="13.8" text-anchor="middle" fill="#1a1a1a" textLength="121.5" lengthAdjust="spacingAndGlyphs">Time from click (ms)</text>
<text x="19.20" y="143.70" font-size="13.8" text-anchor="middle" fill="#1a1a1a" textLength="104.6" lengthAdjust="spacingAndGlyphs" transform="rotate(-90 19.20 143.70)">Estimated weight</text>
<line x1="151.70" y1="64.00" x2="151.70" y2="224.20" stroke="#ff0000" stroke-width="1.8" stroke-dasharray="5 5" stroke-dashoffset="0"/>
<path d="M46.00,209.27 L47.76,209.02 L49.52,208.70 L51.28,208.30 L53.05,207.84 L54.81,207.31 L56.57,206.71 L58.33,206.04 L60.09,205.31 L61.85,204.51 L63.62,203.65 L65.38,202.73 L67.14,201.74 L68.90,200.69 L70.66,199.58 L72.42,198.41 L74.19,197.18 L75.95,195.89 L77.71,194.54 L79.47,193.14 L81.23,191.67 L82.99,190.16 L84.76,188.58 L86.52,186.95 L88.28,185.27 L90.04,183.54 L91.80,181.75 L93.56,179.91 L95.33,178.02 L97.09,176.08 L98.85,174.10 L100.61,172.06 L102.37,169.98 L104.13,167.85 L105.90,165.67 L107.66,163.45 L109.42,161.18 L111.18,158.87 L112.94,156.52 L114.70,154.13 L116.47,151.69 L118.23,149.21 L119.99,146.69 L121.75,144.14 L123.51,141.54 L125.27,138.91 L127.04,136.24 L128.80,133.54 L130.56,130.80 L132.32,128.02 L134.08,125.23 L135.84,122.42 L137.61,119.62 L139.37,116.84 L141.13,114.08 L142.89,111.37 L144.65,108.72 L146.41,106.13 L148.18,103.63 L149.94,101.22 L151.70,98.92 L153.46,96.75 L155.22,94.70 L156.99,92.81 L158.75,91.08 L160.51,89.52 L162.27,88.15 L164.03,86.98 L165.79,86.03 L167.55,85.30 L169.32,84.81 L171.08,84.58 L172.84,84.60 L174.60,84.88 L176.36,85.39 L178.12,86.12 L179.89,87.06 L181.65,88.21 L183.41,89.54 L185.17,91.05 L186.93,92.72 L188.69,94.54 L190.46,96.50 L192.22,98.59 L193.98,100.79 L195.74,103.09 L197.50,105.48 L199.26,107.95 L201.03,110.48 L202.79,113.07 L204.55,115.70 L206.31,118.35 L208.07,121.02 L209.83,123.70 L211.60,126.36 L213.36,129.01 L215.12,131.62 L216.88,134.19 L218.64,136.70 L220.40,139.14 L222.17,141.49 L223.93,143.76 L225.69,145.95 L227.45,148.05 L229.21,150.08 L230.97,152.04 L232.74,153.94 L234.50,155.78 L236.26,157.56 L238.02,159.29 L239.78,160.98 L241.54,162.63 L243.31,164.24 L245.07,165.83 L246.83,167.39 L248.59,168.93 L250.35,170.45 L252.11,171.97 L253.88,173.48 L255.64,174.99 L257.40,176.51" fill="none" stroke="#0000ff" stroke-width="1.3"/>
<path d="M44.40,208.70L47.60,211.90M44.40,211.90L47.60,208.70" stroke="#ff0000" stroke-width="1.1"/>
<path d="M47.92,207.10L51.12,210.30M47.92,210.30L51.12,207.10" stroke="#ff0000" stroke-width="1.1"/>
<path d="M51.45,208.70L54.65,211.90M51.45,211.90L54.65,208.70" stroke="#ff0000" stroke-width="1.1"/>
<path d="M54.97,208.70L58.17,211.90M54.97,211.90L58.17,208.70" stroke="#ff0000" stroke-width="1.1"/>
<path d="M58.49,208.70L61.69,211.90M58.49,211.90L61.69,208.70" stroke="#ff0000" stroke-width="1.1"/>
<path d="M62.02,203.10L65.22,206.30M62.02,206.30L65.22,203.10" stroke="#ff0000" stroke-width="1.1"/>
<path d="M65.54,199.90L68.74,203.10M65.54,203.10L68.74,199.90" stroke="#ff0000" stroke-width="1.1"/>
<path d="M69.06,195.00L72.26,198.20M69.06,198.20L72.26,195.00" stroke="#ff0000" stroke-width="1.1"/>
<path d="M72.59,191.40L75.79,194.60M72.59,194.60L75.79,191.40" stroke="#ff0000" stroke-width="1.1"/>
<path d="M76.11,187.50L79.31,190.70M76.11,190.70L79.31,187.50" stroke="#ff0000" stroke-width="1.1"/>
<path d="M79.63,186.50L82.83,189.70M79.63,189.70L82.83,186.50" stroke="#ff0000" stroke-width="1.1"/>
<path d="M83.16,185.40L86.36,188.60M83.16,188.60L86.36,185.40" stroke="#ff0000" stroke-width="1.1"/>
<path d="M86.68,180.60L89.88,183.80M86.68,183.80L89.88,180.60" stroke="#ff0000" stroke-width="1.1"/>
<path d="M90.20,175.80L93.40,179.00M90.20,179.00L93.40,175.80" stroke="#ff0000" stroke-width="1.1"/>
<path d="M93.73,170.20L96.93,173.40M93.73,173.40L96.93,170.20" stroke="#ff0000" stroke-width="1.1"/>
<path d="M97.25,167.70L100.45,170.90M97.25,170.90L100.45,167.70" stroke="#ff0000" stroke-width="1.1"/>
<path d="M100.77,164.50L103.97,167.70M100.77,167.70L103.97,164.50" stroke="#ff0000" stroke-width="1.1"/>
<path d="M104.30,165.00L107.50,168.20M104.30,168.20L107.50,165.00" stroke="#ff0000" stroke-width="1.1"/>
<path d="M107.82,162.10L111.02,165.30M107.82,165.30L111.02,162.10" stroke="#ff0000" stroke-width="1.1"/>
<path d="M111.34,160.50L114.54,163.70M111.34,163.70L114.54,160.50" stroke="#ff0000" stroke-width="1.1"/>
<path d="M114.87,154.90L118.07,158.10M114.87,158.10L118.07,154.90" stroke="#ff0000" stroke-width="1.1"/>
<path d="M118.39,144.80L121.59,148.00M118.39,148.00L121.59,144.80" stroke="#ff0000" stroke-width="1.1"/>
<path d="M121.91,138.80L125.11,142.00M121.91,142.00L125.11,138.80" stroke="#ff0000" stroke-width="1.1"/>
<path d="M125.44,131.30L128.64,134.50M125.44,134.50L128.64,131.30" stroke="#ff0000" stroke-width="1.1"/>
<path d="M128.96,130.30L132.16,133.50M128.96,133.50L132.16,130.30" stroke="#ff0000" stroke-width="1.1"/>
<path d="M132.48,124.30L135.68,127.50M132.48,127.50L135.68,124.30" stroke="#ff0000" stroke-width="1.1"/>
<path d="M136.01,118.20L139.21,121.40M136.01,121.40L139.21,118.20" stroke="#ff0000" stroke-width="1.1"/>
<path d="M139.53,112.20L142.73,115.40M139.53,115.40L142.73,112.20" stroke="#ff0000" stroke-width="1.1"/>
<path d="M143.05,107.30L146.25,110.50M143.05,110.50L146.25,107.30" stroke="#ff0000" stroke-width="1.1"/>
<path d="M146.58,102.60L149.78,105.80M146.58,105.80L149.78,102.60" stroke="#ff0000" stroke-width="1.1"/>
<path d="M150.10,98.50L153.30,101.70M150.10,101.70L153.30,98.50" stroke="#ff0000" stroke-width="1.1"/>
<path d="M153.62,96.10L156.82,99.30M153.62,99.30L156.82,96.10" stroke="#ff0000" stroke-width="1.1"/>
<path d="M157.15,91.20L160.35,94.40M157.15,94.40L160.35,91.20" stroke="#ff0000" stroke-width="1.1"/>
<path d="M160.67,89.10L163.87,92.30M160.67,92.30L163.87,89.10" stroke="#ff0000" stroke-width="1.1"/>
<path d="M164.19,83.80L167.39,87.00M164.19,87.00L167.39,83.80" stroke="#ff0000" stroke-width="1.1"/>
<path d="M167.72,81.50L170.92,84.70M167.72,84.70L170.92,81.50" stroke="#ff0000" stroke-width="1.1"/>
<path d="M171.24,82.10L174.44,85.30M171.24,85.30L174.44,82.10" stroke="#ff0000" stroke-width="1.1"/>
<path d="M174.76,83.80L177.96,87.00M174.76,87.00L177.96,83.80" stroke="#ff0000" stroke-width="1.1"/>
<path d="M178.29,85.00L181.49,88.20M178.29,88.20L181.49,85.00" stroke="#ff0000" stroke-width="1.1"/>
<path d="M181.81,84.70L185.01,87.90M181.81,87.90L185.01,84.70" stroke="#ff0000" stroke-width="1.1"/>
<path d="M185.33,87.70L188.53,90.90M185.33,90.90L188.53,87.70" stroke="#ff0000" stroke-width="1.1"/>
<path d="M188.86,91.20L192.06,94.40M188.86,94.40L192.06,91.20" stroke="#ff0000" stroke-width="1.1"/>
<path d="M192.38,97.80L195.58,101.00M192.38,101.00L195.58,97.80" stroke="#ff0000" stroke-width="1.1"/>
<path d="M195.90,100.50L199.10,103.70M195.90,103.70L199.10,100.50" stroke="#ff0000" stroke-width="1.1"/>
<path d="M199.43,106.10L202.63,109.30M199.43,109.30L202.63,106.10" stroke="#ff0000" stroke-width="1.1"/>
<path d="M202.95,113.60L206.15,116.80M202.95,116.80L206.15,113.60" stroke="#ff0000" stroke-width="1.1"/>
<path d="M206.47,118.00L209.67,121.20M206.47,121.20L209.67,118.00" stroke="#ff0000" stroke-width="1.1"/>
<path d="M210.00,121.80L213.20,125.00M210.00,125.00L213.20,121.80" stroke="#ff0000" stroke-width="1.1"/>
<path d="M213.52,126.70L216.72,129.90M213.52,129.90L216.72,126.70" stroke="#ff0000" stroke-width="1.1"/>
<path d="M217.04,131.50L220.24,134.70M217.04,134.70L220.24,131.50" stroke="#ff0000" stroke-width="1.1"/>
<path d="M220.57,139.40L223.77,142.60M220.57,142.60L223.77,139.40" stroke="#ff0000" stroke-width="1.1"/>
<path d="M224.09,147.60L227.29,150.80M224.09,150.80L227.29,147.60" stroke="#ff0000" stroke-width="1.1"/>
<path d="M227.61,154.20L230.81,157.40M227.61,157.40L230.81,154.20" stroke="#ff0000" stroke-width="1.1"/>
<path d="M231.14,161.60L234.34,164.80M231.14,164.80L234.34,161.60" stroke="#ff0000" stroke-width="1.1"/>
<path d="M234.66,163.90L237.86,167.10M234.66,167.10L237.86,163.90" stroke="#ff0000" stroke-width="1.1"/>
<path d="M238.18,167.40L241.38,170.60M238.18,170.60L241.38,167.40" stroke="#ff0000" stroke-width="1.1"/>
<path d="M241.71,168.30L244.91,171.50M241.71,171.50L244.91,168.30" stroke="#ff0000" stroke-width="1.1"/>
<path d="M245.23,171.40L248.43,174.60M245.23,174.60L248.43,171.40" stroke="#ff0000" stroke-width="1.1"/>
<path d="M248.75,175.60L251.95,178.80M248.75,178.80L251.95,175.60" stroke="#ff0000" stroke-width="1.1"/>
<path d="M252.28,176.70L255.48,179.90M252.28,179.90L255.48,176.70" stroke="#ff0000" stroke-width="1.1"/>
<path d="M255.80,174.70L259.00,177.90M255.80,177.90L259.00,174.70" stroke="#ff0000" stroke-width="1.1"/>
<rect x="52.20" y="70.40" width="54.7" height="29" fill="#fff" stroke="#8c8c8c" stroke-width="0.9"/>
<path d="M59.60,76.80L62.80,80.00M59.60,80.00L62.80,76.80" stroke="#ff0000" stroke-width="1.1"/>
<line x1="54.30" y1="91.70" x2="68.60" y2="91.70" stroke="#0000ff" stroke-width="1.3"/>
<text x="69.80" y="83.00" font-size="12" text-anchor="start" fill="#1a1a1a" textLength="25.0" lengthAdjust="spacingAndGlyphs">Data</text>
<text x="69.80" y="96.30" font-size="12" text-anchor="start" fill="#1a1a1a" textLength="34.8" lengthAdjust="spacingAndGlyphs">Fitting</text>
<rect x="49.60" y="366.70" width="208.10" height="160.20" fill="none" stroke="#c8c8c8" stroke-width="1.6"/>
<line x1="49.60" y1="526.90" x2="49.60" y2="524.70" stroke="#b0b0b0" stroke-width="1"/>
<line x1="49.60" y1="366.70" x2="49.60" y2="368.90" stroke="#b0b0b0" stroke-width="1"/>
<text x="49.60" y="540.90" font-size="11" text-anchor="middle" fill="#1a1a1a">−300</text>
<line x1="84.28" y1="526.90" x2="84.28" y2="524.70" stroke="#b0b0b0" stroke-width="1"/>
<line x1="84.28" y1="366.70" x2="84.28" y2="368.90" stroke="#b0b0b0" stroke-width="1"/>
<text x="84.28" y="540.90" font-size="11" text-anchor="middle" fill="#1a1a1a">−200</text>
<line x1="118.97" y1="526.90" x2="118.97" y2="524.70" stroke="#b0b0b0" stroke-width="1"/>
<line x1="118.97" y1="366.70" x2="118.97" y2="368.90" stroke="#b0b0b0" stroke-width="1"/>
<text x="118.97" y="540.90" font-size="11" text-anchor="middle" fill="#1a1a1a">−100</text>
<line x1="153.65" y1="526.90" x2="153.65" y2="524.70" stroke="#b0b0b0" stroke-width="1"/>
<line x1="153.65" y1="366.70" x2="153.65" y2="368.90" stroke="#b0b0b0" stroke-width="1"/>
<text x="153.65" y="540.90" font-size="11" text-anchor="middle" fill="#1a1a1a">0</text>
<line x1="188.33" y1="526.90" x2="188.33" y2="524.70" stroke="#b0b0b0" stroke-width="1"/>
<line x1="188.33" y1="366.70" x2="188.33" y2="368.90" stroke="#b0b0b0" stroke-width="1"/>
<text x="188.33" y="540.90" font-size="11" text-anchor="middle" fill="#1a1a1a">100</text>
<line x1="223.02" y1="526.90" x2="223.02" y2="524.70" stroke="#b0b0b0" stroke-width="1"/>
<line x1="223.02" y1="366.70" x2="223.02" y2="368.90" stroke="#b0b0b0" stroke-width="1"/>
<text x="223.02" y="540.90" font-size="11" text-anchor="middle" fill="#1a1a1a">200</text>
<line x1="257.70" y1="526.90" x2="257.70" y2="524.70" stroke="#b0b0b0" stroke-width="1"/>
<line x1="257.70" y1="366.70" x2="257.70" y2="368.90" stroke="#b0b0b0" stroke-width="1"/>
<text x="257.70" y="540.90" font-size="11" text-anchor="middle" fill="#1a1a1a">300</text>
<line x1="49.60" y1="526.90" x2="51.80" y2="526.90" stroke="#b0b0b0" stroke-width="1"/>
<line x1="257.70" y1="526.90" x2="255.50" y2="526.90" stroke="#b0b0b0" stroke-width="1"/>
<text x="45.30" y="530.85" font-size="11" text-anchor="end" fill="#1a1a1a">0</text>
<line x1="49.60" y1="504.01" x2="51.80" y2="504.01" stroke="#b0b0b0" stroke-width="1"/>
<line x1="257.70" y1="504.01" x2="255.50" y2="504.01" stroke="#b0b0b0" stroke-width="1"/>
<text x="45.30" y="507.96" font-size="11" text-anchor="end" fill="#1a1a1a">0.05</text>
<line x1="49.60" y1="481.13" x2="51.80" y2="481.13" stroke="#b0b0b0" stroke-width="1"/>
<line x1="257.70" y1="481.13" x2="255.50" y2="481.13" stroke="#b0b0b0" stroke-width="1"/>
<text x="45.30" y="485.08" font-size="11" text-anchor="end" fill="#1a1a1a">0.1</text>
<line x1="49.60" y1="458.24" x2="51.80" y2="458.24" stroke="#b0b0b0" stroke-width="1"/>
<line x1="257.70" y1="458.24" x2="255.50" y2="458.24" stroke="#b0b0b0" stroke-width="1"/>
<text x="45.30" y="462.19" font-size="11" text-anchor="end" fill="#1a1a1a">0.15</text>
<line x1="49.60" y1="435.36" x2="51.80" y2="435.36" stroke="#b0b0b0" stroke-width="1"/>
<line x1="257.70" y1="435.36" x2="255.50" y2="435.36" stroke="#b0b0b0" stroke-width="1"/>
<text x="45.30" y="439.31" font-size="11" text-anchor="end" fill="#1a1a1a">0.2</text>
<line x1="49.60" y1="412.47" x2="51.80" y2="412.47" stroke="#b0b0b0" stroke-width="1"/>
<line x1="257.70" y1="412.47" x2="255.50" y2="412.47" stroke="#b0b0b0" stroke-width="1"/>
<text x="45.30" y="416.42" font-size="11" text-anchor="end" fill="#1a1a1a">0.25</text>
<line x1="49.60" y1="389.59" x2="51.80" y2="389.59" stroke="#b0b0b0" stroke-width="1"/>
<line x1="257.70" y1="389.59" x2="255.50" y2="389.59" stroke="#b0b0b0" stroke-width="1"/>
<text x="45.30" y="393.54" font-size="11" text-anchor="end" fill="#1a1a1a">0.3</text>
<line x1="49.60" y1="366.70" x2="51.80" y2="366.70" stroke="#b0b0b0" stroke-width="1"/>
<line x1="257.70" y1="366.70" x2="255.50" y2="366.70" stroke="#b0b0b0" stroke-width="1"/>
<text x="45.30" y="370.65" font-size="11" text-anchor="end" fill="#1a1a1a">0.35</text>
<text x="153.65" y="560.90" font-size="13.8" text-anchor="middle" fill="#1a1a1a" textLength="121.5" lengthAdjust="spacingAndGlyphs">Time from click (ms)</text>
<text x="15.80" y="452.70" font-size="13.8" text-anchor="middle" fill="#1a1a1a" textLength="104.6" lengthAdjust="spacingAndGlyphs" transform="rotate(-90 15.80 452.70)">Estimated weight</text>
<line x1="153.65" y1="366.70" x2="153.65" y2="526.90" stroke="#ff0000" stroke-width="1.8" stroke-dasharray="5 5" stroke-dashoffset="0"/>
<path d="M49.60,518.94 L51.33,518.14 L53.07,517.31 L54.80,516.44 L56.54,515.54 L58.27,514.60 L60.01,513.63 L61.74,512.61 L63.47,511.55 L65.21,510.45 L66.94,509.30 L68.68,508.11 L70.41,506.87 L72.14,505.58 L73.88,504.24 L75.61,502.85 L77.35,501.41 L79.08,499.92 L80.81,498.36 L82.55,496.76 L84.28,495.09 L86.02,493.36 L87.75,491.57 L89.49,489.72 L91.22,487.81 L92.95,485.83 L94.69,483.78 L96.42,481.66 L98.16,479.48 L99.89,477.22 L101.62,474.89 L103.36,472.49 L105.09,470.01 L106.83,467.46 L108.56,464.83 L110.30,462.12 L112.03,459.32 L113.76,456.45 L115.50,453.49 L117.23,450.46 L118.97,447.36 L120.70,444.21 L122.44,441.02 L124.17,437.80 L125.90,434.55 L127.64,431.30 L129.37,428.05 L131.11,424.82 L132.84,421.61 L134.57,418.43 L136.31,415.30 L138.04,412.23 L139.78,409.22 L141.51,406.30 L143.25,403.47 L144.98,400.73 L146.71,398.11 L148.45,395.62 L150.18,393.25 L151.92,391.03 L153.65,388.94 L155.38,386.98 L157.12,385.17 L158.85,383.49 L160.59,381.94 L162.32,380.53 L164.06,379.26 L165.79,378.12 L167.52,377.12 L169.26,376.25 L170.99,375.52 L172.73,374.92 L174.46,374.46 L176.19,374.13 L177.93,373.93 L179.66,373.87 L181.40,373.95 L183.13,374.16 L184.87,374.50 L186.60,374.97 L188.33,375.58 L190.07,376.32 L191.80,377.19 L193.54,378.20 L195.27,379.33 L197.00,380.59 L198.74,381.97 L200.47,383.46 L202.21,385.05 L203.94,386.74 L205.67,388.52 L207.41,390.39 L209.14,392.34 L210.88,394.36 L212.61,396.45 L214.35,398.60 L216.08,400.81 L217.81,403.06 L219.55,405.36 L221.28,407.70 L223.02,410.06 L224.75,412.46 L226.48,414.87 L228.22,417.29 L229.95,419.71 L231.69,422.14 L233.42,424.56 L235.16,426.97 L236.89,429.36 L238.62,431.73 L240.36,434.06 L242.09,436.36 L243.83,438.61 L245.56,440.81 L247.29,442.96 L249.03,445.05 L250.76,447.07 L252.50,449.01 L254.23,450.87 L255.97,452.65 L257.70,454.34" fill="none" stroke="#0000ff" stroke-width="1.3"/>
<path d="M48.00,519.70L51.20,522.90M48.00,522.90L51.20,519.70" stroke="#ff0000" stroke-width="1.1"/>
<path d="M51.47,520.90L54.67,524.10M51.47,524.10L54.67,520.90" stroke="#ff0000" stroke-width="1.1"/>
<path d="M54.94,517.90L58.14,521.10M54.94,521.10L58.14,517.90" stroke="#ff0000" stroke-width="1.1"/>
<path d="M58.41,515.60L61.61,518.80M58.41,518.80L61.61,515.60" stroke="#ff0000" stroke-width="1.1"/>
<path d="M61.87,508.10L65.07,511.30M61.87,511.30L65.07,508.10" stroke="#ff0000" stroke-width="1.1"/>
<path d="M65.34,506.30L68.54,509.50M65.34,509.50L68.54,506.30" stroke="#ff0000" stroke-width="1.1"/>
<path d="M68.81,500.40L72.01,503.60M68.81,503.60L72.01,500.40" stroke="#ff0000" stroke-width="1.1"/>
<path d="M72.28,500.40L75.48,503.60M72.28,503.60L75.48,500.40" stroke="#ff0000" stroke-width="1.1"/>
<path d="M75.75,497.60L78.95,500.80M75.75,500.80L78.95,497.60" stroke="#ff0000" stroke-width="1.1"/>
<path d="M79.22,490.20L82.41,493.40M79.22,493.40L82.41,490.20" stroke="#ff0000" stroke-width="1.1"/>
<path d="M82.68,488.80L85.88,492.00M82.68,492.00L85.88,488.80" stroke="#ff0000" stroke-width="1.1"/>
<path d="M86.15,485.80L89.35,489.00M86.15,489.00L89.35,485.80" stroke="#ff0000" stroke-width="1.1"/>
<path d="M89.62,480.60L92.82,483.80M89.62,483.80L92.82,480.60" stroke="#ff0000" stroke-width="1.1"/>
<path d="M93.09,477.10L96.29,480.30M93.09,480.30L96.29,477.10" stroke="#ff0000" stroke-width="1.1"/>
<path d="M96.56,476.20L99.76,479.40M96.56,479.40L99.76,476.20" stroke="#ff0000" stroke-width="1.1"/>
<path d="M100.03,470.10L103.22,473.30M100.03,473.30L103.22,470.10" stroke="#ff0000" stroke-width="1.1"/>
<path d="M103.49,470.10L106.69,473.30M103.49,473.30L106.69,470.10" stroke="#ff0000" stroke-width="1.1"/>
<path d="M106.96,466.60L110.16,469.80M106.96,469.80L110.16,466.60" stroke="#ff0000" stroke-width="1.1"/>
<path d="M110.43,459.60L113.63,462.80M110.43,462.80L113.63,459.60" stroke="#ff0000" stroke-width="1.1"/>
<path d="M113.90,458.70L117.10,461.90M113.90,461.90L117.10,458.70" stroke="#ff0000" stroke-width="1.1"/>
<path d="M117.37,451.30L120.57,454.50M117.37,454.50L120.57,451.30" stroke="#ff0000" stroke-width="1.1"/>
<path d="M120.84,438.50L124.03,441.70M120.84,441.70L124.03,438.50" stroke="#ff0000" stroke-width="1.1"/>
<path d="M124.30,436.80L127.50,440.00M124.30,440.00L127.50,436.80" stroke="#ff0000" stroke-width="1.1"/>
<path d="M127.77,428.90L130.97,432.10M127.77,432.10L130.97,428.90" stroke="#ff0000" stroke-width="1.1"/>
<path d="M131.24,419.30L134.44,422.50M131.24,422.50L134.44,419.30" stroke="#ff0000" stroke-width="1.1"/>
<path d="M134.71,413.90L137.91,417.10M134.71,417.10L137.91,413.90" stroke="#ff0000" stroke-width="1.1"/>
<path d="M138.18,408.30L141.38,411.50M138.18,411.50L141.38,408.30" stroke="#ff0000" stroke-width="1.1"/>
<path d="M141.65,398.70L144.84,401.90M141.65,401.90L144.84,398.70" stroke="#ff0000" stroke-width="1.1"/>
<path d="M145.11,391.70L148.31,394.90M145.11,394.90L148.31,391.70" stroke="#ff0000" stroke-width="1.1"/>
<path d="M148.58,386.80L151.78,390.00M148.58,390.00L151.78,386.80" stroke="#ff0000" stroke-width="1.1"/>
<path d="M152.05,382.90L155.25,386.10M152.05,386.10L155.25,382.90" stroke="#ff0000" stroke-width="1.1"/>
<path d="M155.52,386.40L158.72,389.60M155.52,389.60L158.72,386.40" stroke="#ff0000" stroke-width="1.1"/>
<path d="M158.99,382.60L162.19,385.80M158.99,385.80L162.19,382.60" stroke="#ff0000" stroke-width="1.1"/>
<path d="M162.46,380.80L165.66,384.00M162.46,384.00L165.66,380.80" stroke="#ff0000" stroke-width="1.1"/>
<path d="M165.92,382.10L169.12,385.30M165.92,385.30L169.12,382.10" stroke="#ff0000" stroke-width="1.1"/>
<path d="M169.39,381.20L172.59,384.40M169.39,384.40L172.59,381.20" stroke="#ff0000" stroke-width="1.1"/>
<path d="M172.86,377.70L176.06,380.90M172.86,380.90L176.06,377.70" stroke="#ff0000" stroke-width="1.1"/>
<path d="M176.33,377.30L179.53,380.50M176.33,380.50L179.53,377.30" stroke="#ff0000" stroke-width="1.1"/>
<path d="M179.80,380.30L183.00,383.50M179.80,383.50L183.00,380.30" stroke="#ff0000" stroke-width="1.1"/>
<path d="M183.27,375.60L186.47,378.80M183.27,378.80L186.47,375.60" stroke="#ff0000" stroke-width="1.1"/>
<path d="M186.73,377.70L189.93,380.90M186.73,380.90L189.93,377.70" stroke="#ff0000" stroke-width="1.1"/>
<path d="M190.20,372.40L193.40,375.60M190.20,375.60L193.40,372.40" stroke="#ff0000" stroke-width="1.1"/>
<path d="M193.67,372.40L196.87,375.60M193.67,375.60L196.87,372.40" stroke="#ff0000" stroke-width="1.1"/>
<path d="M197.14,375.90L200.34,379.10M197.14,379.10L200.34,375.90" stroke="#ff0000" stroke-width="1.1"/>
<path d="M200.61,379.10L203.81,382.30M200.61,382.30L203.81,379.10" stroke="#ff0000" stroke-width="1.1"/>
<path d="M204.07,380.80L207.27,384.00M204.07,384.00L207.27,380.80" stroke="#ff0000" stroke-width="1.1"/>
<path d="M207.54,385.60L210.74,388.80M207.54,388.80L210.74,385.60" stroke="#ff0000" stroke-width="1.1"/>
<path d="M211.01,390.80L214.21,394.00M211.01,394.00L214.21,390.80" stroke="#ff0000" stroke-width="1.1"/>
<path d="M214.48,396.90L217.68,400.10M214.48,400.10L217.68,396.90" stroke="#ff0000" stroke-width="1.1"/>
<path d="M217.95,407.80L221.15,411.00M217.95,411.00L221.15,407.80" stroke="#ff0000" stroke-width="1.1"/>
<path d="M221.42,409.20L224.62,412.40M221.42,412.40L224.62,409.20" stroke="#ff0000" stroke-width="1.1"/>
<path d="M224.88,415.90L228.08,419.10M224.88,419.10L228.08,415.90" stroke="#ff0000" stroke-width="1.1"/>
<path d="M228.35,418.80L231.55,422.00M228.35,422.00L231.55,418.80" stroke="#ff0000" stroke-width="1.1"/>
<path d="M231.82,422.90L235.02,426.10M231.82,426.10L235.02,422.90" stroke="#ff0000" stroke-width="1.1"/>
<path d="M235.29,427.60L238.49,430.80M235.29,430.80L238.49,427.60" stroke="#ff0000" stroke-width="1.1"/>
<path d="M238.76,430.60L241.96,433.80M238.76,433.80L241.96,430.60" stroke="#ff0000" stroke-width="1.1"/>
<path d="M242.23,434.60L245.43,437.80M242.23,437.80L245.43,434.60" stroke="#ff0000" stroke-width="1.1"/>
<path d="M245.69,439.00L248.89,442.20M245.69,442.20L248.89,439.00" stroke="#ff0000" stroke-width="1.1"/>
<path d="M249.16,442.80L252.36,446.00M249.16,446.00L252.36,442.80" stroke="#ff0000" stroke-width="1.1"/>
<path d="M252.63,446.50L255.83,449.70M252.63,449.70L255.83,446.50" stroke="#ff0000" stroke-width="1.1"/>
<path d="M256.10,452.10L259.30,455.30M256.10,455.30L259.30,452.10" stroke="#ff0000" stroke-width="1.1"/>
<rect x="55.80" y="373.10" width="54.7" height="29" fill="#fff" stroke="#8c8c8c" stroke-width="0.9"/>
<path d="M63.20,379.50L66.40,382.70M63.20,382.70L66.40,379.50" stroke="#ff0000" stroke-width="1.1"/>
<line x1="57.90" y1="394.40" x2="72.20" y2="394.40" stroke="#0000ff" stroke-width="1.3"/>
<text x="73.40" y="385.70" font-size="12" text-anchor="start" fill="#1a1a1a" textLength="25.0" lengthAdjust="spacingAndGlyphs">Data</text>
<text x="73.40" y="399.00" font-size="12" text-anchor="start" fill="#1a1a1a" textLength="34.8" lengthAdjust="spacingAndGlyphs">Fitting</text>
<rect x="55.60" y="679.90" width="201.80" height="160.30" fill="none" stroke="#c8c8c8" stroke-width="1.6"/>
<line x1="55.60" y1="840.20" x2="55.60" y2="838.00" stroke="#b0b0b0" stroke-width="1"/>
<line x1="55.60" y1="679.90" x2="55.60" y2="682.10" stroke="#b0b0b0" stroke-width="1"/>
<text x="55.60" y="854.20" font-size="11" text-anchor="middle" fill="#1a1a1a">−300</text>
<line x1="89.23" y1="840.20" x2="89.23" y2="838.00" stroke="#b0b0b0" stroke-width="1"/>
<line x1="89.23" y1="679.90" x2="89.23" y2="682.10" stroke="#b0b0b0" stroke-width="1"/>
<text x="89.23" y="854.20" font-size="11" text-anchor="middle" fill="#1a1a1a">−200</text>
<line x1="122.87" y1="840.20" x2="122.87" y2="838.00" stroke="#b0b0b0" stroke-width="1"/>
<line x1="122.87" y1="679.90" x2="122.87" y2="682.10" stroke="#b0b0b0" stroke-width="1"/>
<text x="122.87" y="854.20" font-size="11" text-anchor="middle" fill="#1a1a1a">−100</text>
<line x1="156.50" y1="840.20" x2="156.50" y2="838.00" stroke="#b0b0b0" stroke-width="1"/>
<line x1="156.50" y1="679.90" x2="156.50" y2="682.10" stroke="#b0b0b0" stroke-width="1"/>
<text x="156.50" y="854.20" font-size="11" text-anchor="middle" fill="#1a1a1a">0</text>
<line x1="190.13" y1="840.20" x2="190.13" y2="838.00" stroke="#b0b0b0" stroke-width="1"/>
<line x1="190.13" y1="679.90" x2="190.13" y2="682.10" stroke="#b0b0b0" stroke-width="1"/>
<text x="190.13" y="854.20" font-size="11" text-anchor="middle" fill="#1a1a1a">100</text>
<line x1="223.77" y1="840.20" x2="223.77" y2="838.00" stroke="#b0b0b0" stroke-width="1"/>
<line x1="223.77" y1="679.90" x2="223.77" y2="682.10" stroke="#b0b0b0" stroke-width="1"/>
<text x="223.77" y="854.20" font-size="11" text-anchor="middle" fill="#1a1a1a">200</text>
<line x1="257.40" y1="840.20" x2="257.40" y2="838.00" stroke="#b0b0b0" stroke-width="1"/>
<line x1="257.40" y1="679.90" x2="257.40" y2="682.10" stroke="#b0b0b0" stroke-width="1"/>
<text x="257.40" y="854.20" font-size="11" text-anchor="middle" fill="#1a1a1a">300</text>
<line x1="55.60" y1="840.20" x2="57.80" y2="840.20" stroke="#b0b0b0" stroke-width="1"/>
<line x1="257.40" y1="840.20" x2="255.20" y2="840.20" stroke="#b0b0b0" stroke-width="1"/>
<text x="51.30" y="844.15" font-size="11" text-anchor="end" fill="#1a1a1a">−0.05</text>
<line x1="55.60" y1="813.48" x2="57.80" y2="813.48" stroke="#b0b0b0" stroke-width="1"/>
<line x1="257.40" y1="813.48" x2="255.20" y2="813.48" stroke="#b0b0b0" stroke-width="1"/>
<text x="51.30" y="817.43" font-size="11" text-anchor="end" fill="#1a1a1a">0</text>
<line x1="55.60" y1="786.77" x2="57.80" y2="786.77" stroke="#b0b0b0" stroke-width="1"/>
<line x1="257.40" y1="786.77" x2="255.20" y2="786.77" stroke="#b0b0b0" stroke-width="1"/>
<text x="51.30" y="790.72" font-size="11" text-anchor="end" fill="#1a1a1a">0.05</text>
<line x1="55.60" y1="760.05" x2="57.80" y2="760.05" stroke="#b0b0b0" stroke-width="1"/>
<line x1="257.40" y1="760.05" x2="255.20" y2="760.05" stroke="#b0b0b0" stroke-width="1"/>
<text x="51.30" y="764.00" font-size="11" text-anchor="end" fill="#1a1a1a">0.1</text>
<line x1="55.60" y1="733.33" x2="57.80" y2="733.33" stroke="#b0b0b0" stroke-width="1"/>
<line x1="257.40" y1="733.33" x2="255.20" y2="733.33" stroke="#b0b0b0" stroke-width="1"/>
<text x="51.30" y="737.28" font-size="11" text-anchor="end" fill="#1a1a1a">0.15</text>
<line x1="55.60" y1="706.62" x2="57.80" y2="706.62" stroke="#b0b0b0" stroke-width="1"/>
<line x1="257.40" y1="706.62" x2="255.20" y2="706.62" stroke="#b0b0b0" stroke-width="1"/>
<text x="51.30" y="710.57" font-size="11" text-anchor="end" fill="#1a1a1a">0.2</text>
<line x1="55.60" y1="679.90" x2="57.80" y2="679.90" stroke="#b0b0b0" stroke-width="1"/>
<line x1="257.40" y1="679.90" x2="255.20" y2="679.90" stroke="#b0b0b0" stroke-width="1"/>
<text x="51.30" y="683.85" font-size="11" text-anchor="end" fill="#1a1a1a">0.25</text>
<text x="156.50" y="874.20" font-size="13.8" text-anchor="middle" fill="#1a1a1a" textLength="121.5" lengthAdjust="spacingAndGlyphs">Time from click (ms)</text>
<text x="21.50" y="769.00" font-size="13.8" text-anchor="middle" fill="#1a1a1a" textLength="104.6" lengthAdjust="spacingAndGlyphs" transform="rotate(-90 21.50 769.00)">Estimated weight</text>
<line x1="156.50" y1="679.90" x2="156.50" y2="840.20" stroke="#ff0000" stroke-width="1.8" stroke-dasharray="5 5" stroke-dashoffset="0"/>
<path d="M55.60,817.67 L57.28,817.32 L58.96,816.94 L60.65,816.53 L62.33,816.07 L64.01,815.58 L65.69,815.04 L67.37,814.46 L69.05,813.83 L70.73,813.14 L72.42,812.40 L74.10,811.61 L75.78,810.75 L77.46,809.83 L79.14,808.84 L80.83,807.79 L82.51,806.66 L84.19,805.46 L85.87,804.17 L87.55,802.81 L89.23,801.37 L90.91,799.85 L92.60,798.23 L94.28,796.53 L95.96,794.74 L97.64,792.87 L99.32,790.90 L101.00,788.84 L102.69,786.69 L104.37,784.46 L106.05,782.13 L107.73,779.72 L109.41,777.23 L111.09,774.65 L112.78,772.00 L114.46,769.27 L116.14,766.47 L117.82,763.61 L119.50,760.69 L121.19,757.71 L122.87,754.69 L124.55,751.63 L126.23,748.54 L127.91,745.43 L129.59,742.30 L131.28,739.16 L132.96,736.03 L134.64,732.91 L136.32,729.82 L138.00,726.76 L139.68,723.75 L141.36,720.79 L143.05,717.90 L144.73,715.09 L146.41,712.37 L148.09,709.75 L149.77,707.23 L151.45,704.84 L153.14,702.57 L154.82,700.45 L156.50,698.47 L158.18,696.66 L159.86,695.00 L161.54,693.52 L163.23,692.22 L164.91,691.10 L166.59,690.17 L168.27,689.44 L169.95,688.90 L171.63,688.56 L173.32,688.43 L175.00,688.45 L176.68,688.57 L178.36,688.77 L180.04,689.05 L181.72,689.42 L183.41,689.88 L185.09,690.41 L186.77,691.03 L188.45,691.73 L190.13,692.51 L191.81,693.36 L193.50,694.30 L195.18,695.30 L196.86,696.38 L198.54,697.54 L200.22,698.76 L201.90,700.04 L203.59,701.39 L205.27,702.80 L206.95,704.27 L208.63,705.80 L210.31,707.38 L211.99,709.01 L213.68,710.69 L215.36,712.41 L217.04,714.18 L218.72,715.98 L220.40,717.83 L222.08,719.70 L223.77,721.61 L225.45,723.54 L227.13,725.49 L228.81,727.47 L230.49,729.47 L232.17,731.48 L233.86,733.50 L235.54,735.54 L237.22,737.57 L238.90,739.62 L240.58,741.66 L242.26,743.71 L243.95,745.74 L245.63,747.78 L247.31,749.80 L248.99,751.81 L250.67,753.81 L252.35,755.79 L254.04,757.76 L255.72,759.70 L257.40,761.63" fill="none" stroke="#0000ff" stroke-width="1.3"/>
<path d="M54.00,810.60L57.20,813.80M54.00,813.80L57.20,810.60" stroke="#ff0000" stroke-width="1.1"/>
<path d="M57.36,808.10L60.56,811.30M57.36,811.30L60.56,808.10" stroke="#ff0000" stroke-width="1.1"/>
<path d="M60.73,811.60L63.93,814.80M60.73,814.80L63.93,811.60" stroke="#ff0000" stroke-width="1.1"/>
<path d="M64.09,811.60L67.29,814.80M64.09,814.80L67.29,811.60" stroke="#ff0000" stroke-width="1.1"/>
<path d="M67.45,805.50L70.65,808.70M67.45,808.70L70.65,805.50" stroke="#ff0000" stroke-width="1.1"/>
<path d="M70.82,805.50L74.02,808.70M70.82,808.70L74.02,805.50" stroke="#ff0000" stroke-width="1.1"/>
<path d="M74.18,807.10L77.38,810.30M74.18,810.30L77.38,807.10" stroke="#ff0000" stroke-width="1.1"/>
<path d="M77.54,805.50L80.74,808.70M77.54,808.70L80.74,805.50" stroke="#ff0000" stroke-width="1.1"/>
<path d="M80.91,810.20L84.11,813.40M80.91,813.40L84.11,810.20" stroke="#ff0000" stroke-width="1.1"/>
<path d="M84.27,810.20L87.47,813.40M84.27,813.40L87.47,810.20" stroke="#ff0000" stroke-width="1.1"/>
<path d="M87.63,810.80L90.83,814.00M87.63,814.00L90.83,810.80" stroke="#ff0000" stroke-width="1.1"/>
<path d="M91.00,806.40L94.20,809.60M91.00,809.60L94.20,806.40" stroke="#ff0000" stroke-width="1.1"/>
<path d="M94.36,799.70L97.56,802.90M94.36,802.90L97.56,799.70" stroke="#ff0000" stroke-width="1.1"/>
<path d="M97.72,795.90L100.92,799.10M97.72,799.10L100.92,795.90" stroke="#ff0000" stroke-width="1.1"/>
<path d="M101.09,792.00L104.29,795.20M101.09,795.20L104.29,792.00" stroke="#ff0000" stroke-width="1.1"/>
<path d="M104.45,783.60L107.65,786.80M104.45,786.80L107.65,783.60" stroke="#ff0000" stroke-width="1.1"/>
<path d="M107.81,780.40L111.01,783.60M107.81,783.60L111.01,780.40" stroke="#ff0000" stroke-width="1.1"/>
<path d="M111.18,772.60L114.38,775.80M111.18,775.80L114.38,772.60" stroke="#ff0000" stroke-width="1.1"/>
<path d="M114.54,759.90L117.74,763.10M114.54,763.10L117.74,759.90" stroke="#ff0000" stroke-width="1.1"/>
<path d="M117.90,750.70L121.10,753.90M117.90,753.90L121.10,750.70" stroke="#ff0000" stroke-width="1.1"/>
<path d="M121.27,744.00L124.47,747.20M121.27,747.20L124.47,744.00" stroke="#ff0000" stroke-width="1.1"/>
<path d="M124.63,739.30L127.83,742.50M124.63,742.50L127.83,739.30" stroke="#ff0000" stroke-width="1.1"/>
<path d="M127.99,736.00L131.19,739.20M127.99,739.20L131.19,736.00" stroke="#ff0000" stroke-width="1.1"/>
<path d="M131.36,732.60L134.56,735.80M131.36,735.80L134.56,732.60" stroke="#ff0000" stroke-width="1.1"/>
<path d="M134.72,729.30L137.92,732.50M134.72,732.50L137.92,729.30" stroke="#ff0000" stroke-width="1.1"/>
<path d="M138.08,726.00L141.28,729.20M138.08,729.20L141.28,726.00" stroke="#ff0000" stroke-width="1.1"/>
<path d="M141.45,717.20L144.65,720.40M141.45,720.40L144.65,717.20" stroke="#ff0000" stroke-width="1.1"/>
<path d="M144.81,714.00L148.01,717.20M144.81,717.20L148.01,714.00" stroke="#ff0000" stroke-width="1.1"/>
<path d="M148.17,711.90L151.37,715.10M148.17,715.10L151.37,711.90" stroke="#ff0000" stroke-width="1.1"/>
<path d="M151.54,709.70L154.74,712.90M151.54,712.90L154.74,709.70" stroke="#ff0000" stroke-width="1.1"/>
<path d="M154.90,705.50L158.10,708.70M154.90,708.70L158.10,705.50" stroke="#ff0000" stroke-width="1.1"/>
<path d="M158.26,702.30L161.46,705.50M158.26,705.50L161.46,702.30" stroke="#ff0000" stroke-width="1.1"/>
<path d="M161.63,695.80L164.83,699.00M161.63,699.00L164.83,695.80" stroke="#ff0000" stroke-width="1.1"/>
<path d="M164.99,690.90L168.19,694.10M164.99,694.10L168.19,690.90" stroke="#ff0000" stroke-width="1.1"/>
<path d="M168.35,687.10L171.55,690.30M168.35,690.30L171.55,687.10" stroke="#ff0000" stroke-width="1.1"/>
<path d="M171.72,684.30L174.92,687.50M171.72,687.50L174.92,684.30" stroke="#ff0000" stroke-width="1.1"/>
<path d="M175.08,684.30L178.28,687.50M175.08,687.50L178.28,684.30" stroke="#ff0000" stroke-width="1.1"/>
<path d="M178.44,684.80L181.64,688.00M178.44,688.00L181.64,684.80" stroke="#ff0000" stroke-width="1.1"/>
<path d="M181.81,684.80L185.01,688.00M181.81,688.00L185.01,684.80" stroke="#ff0000" stroke-width="1.1"/>
<path d="M185.17,685.30L188.37,688.50M185.17,688.50L188.37,685.30" stroke="#ff0000" stroke-width="1.1"/>
<path d="M188.53,683.90L191.73,687.10M188.53,687.10L191.73,683.90" stroke="#ff0000" stroke-width="1.1"/>
<path d="M191.90,684.30L195.10,687.50M191.90,687.50L195.10,684.30" stroke="#ff0000" stroke-width="1.1"/>
<path d="M195.26,690.90L198.46,694.10M195.26,694.10L198.46,690.90" stroke="#ff0000" stroke-width="1.1"/>
<path d="M198.62,695.80L201.82,699.00M198.62,699.00L201.82,695.80" stroke="#ff0000" stroke-width="1.1"/>
<path d="M201.99,701.40L205.19,704.60M201.99,704.60L205.19,701.40" stroke="#ff0000" stroke-width="1.1"/>
<path d="M205.35,704.60L208.55,707.80M205.35,707.80L208.55,704.60" stroke="#ff0000" stroke-width="1.1"/>
<path d="M208.71,707.60L211.91,710.80M208.71,710.80L211.91,707.60" stroke="#ff0000" stroke-width="1.1"/>
<path d="M212.08,715.10L215.28,718.30M212.08,718.30L215.28,715.10" stroke="#ff0000" stroke-width="1.1"/>
<path d="M215.44,716.80L218.64,720.00M215.44,720.00L218.64,716.80" stroke="#ff0000" stroke-width="1.1"/>
<path d="M218.80,723.30L222.00,726.50M218.80,726.50L222.00,723.30" stroke="#ff0000" stroke-width="1.1"/>
<path d="M222.17,730.30L225.37,733.50M222.17,733.50L225.37,730.30" stroke="#ff0000" stroke-width="1.1"/>
<path d="M225.53,737.90L228.73,741.10M225.53,741.10L228.73,737.90" stroke="#ff0000" stroke-width="1.1"/>
<path d="M228.89,735.10L232.09,738.30M228.89,738.30L232.09,735.10" stroke="#ff0000" stroke-width="1.1"/>
<path d="M232.26,734.70L235.46,737.90M232.26,737.90L235.46,734.70" stroke="#ff0000" stroke-width="1.1"/>
<path d="M235.62,739.60L238.82,742.80M235.62,742.80L238.82,739.60" stroke="#ff0000" stroke-width="1.1"/>
<path d="M238.98,743.50L242.18,746.70M238.98,746.70L242.18,743.50" stroke="#ff0000" stroke-width="1.1"/>
<path d="M242.35,747.30L245.55,750.50M242.35,750.50L245.55,747.30" stroke="#ff0000" stroke-width="1.1"/>
<path d="M245.71,747.90L248.91,751.10M245.71,751.10L248.91,747.90" stroke="#ff0000" stroke-width="1.1"/>
<path d="M249.07,749.60L252.27,752.80M249.07,752.80L252.27,749.60" stroke="#ff0000" stroke-width="1.1"/>
<path d="M252.44,750.80L255.64,754.00M252.44,754.00L255.64,750.80" stroke="#ff0000" stroke-width="1.1"/>
<path d="M255.80,753.10L259.00,756.30M255.80,756.30L259.00,753.10" stroke="#ff0000" stroke-width="1.1"/>
<rect x="61.80" y="686.30" width="54.7" height="29" fill="#fff" stroke="#8c8c8c" stroke-width="0.9"/>
<path d="M69.20,692.70L72.40,695.90M69.20,695.90L72.40,692.70" stroke="#ff0000" stroke-width="1.1"/>
<line x1="63.90" y1="707.60" x2="78.20" y2="707.60" stroke="#0000ff" stroke-width="1.3"/>
<text x="79.40" y="698.90" font-size="12" text-anchor="start" fill="#1a1a1a" textLength="25.0" lengthAdjust="spacingAndGlyphs">Data</text>
<text x="79.40" y="712.20" font-size="12" text-anchor="start" fill="#1a1a1a" textLength="34.8" lengthAdjust="spacingAndGlyphs">Fitting</text>
</svg>
</body></html>
